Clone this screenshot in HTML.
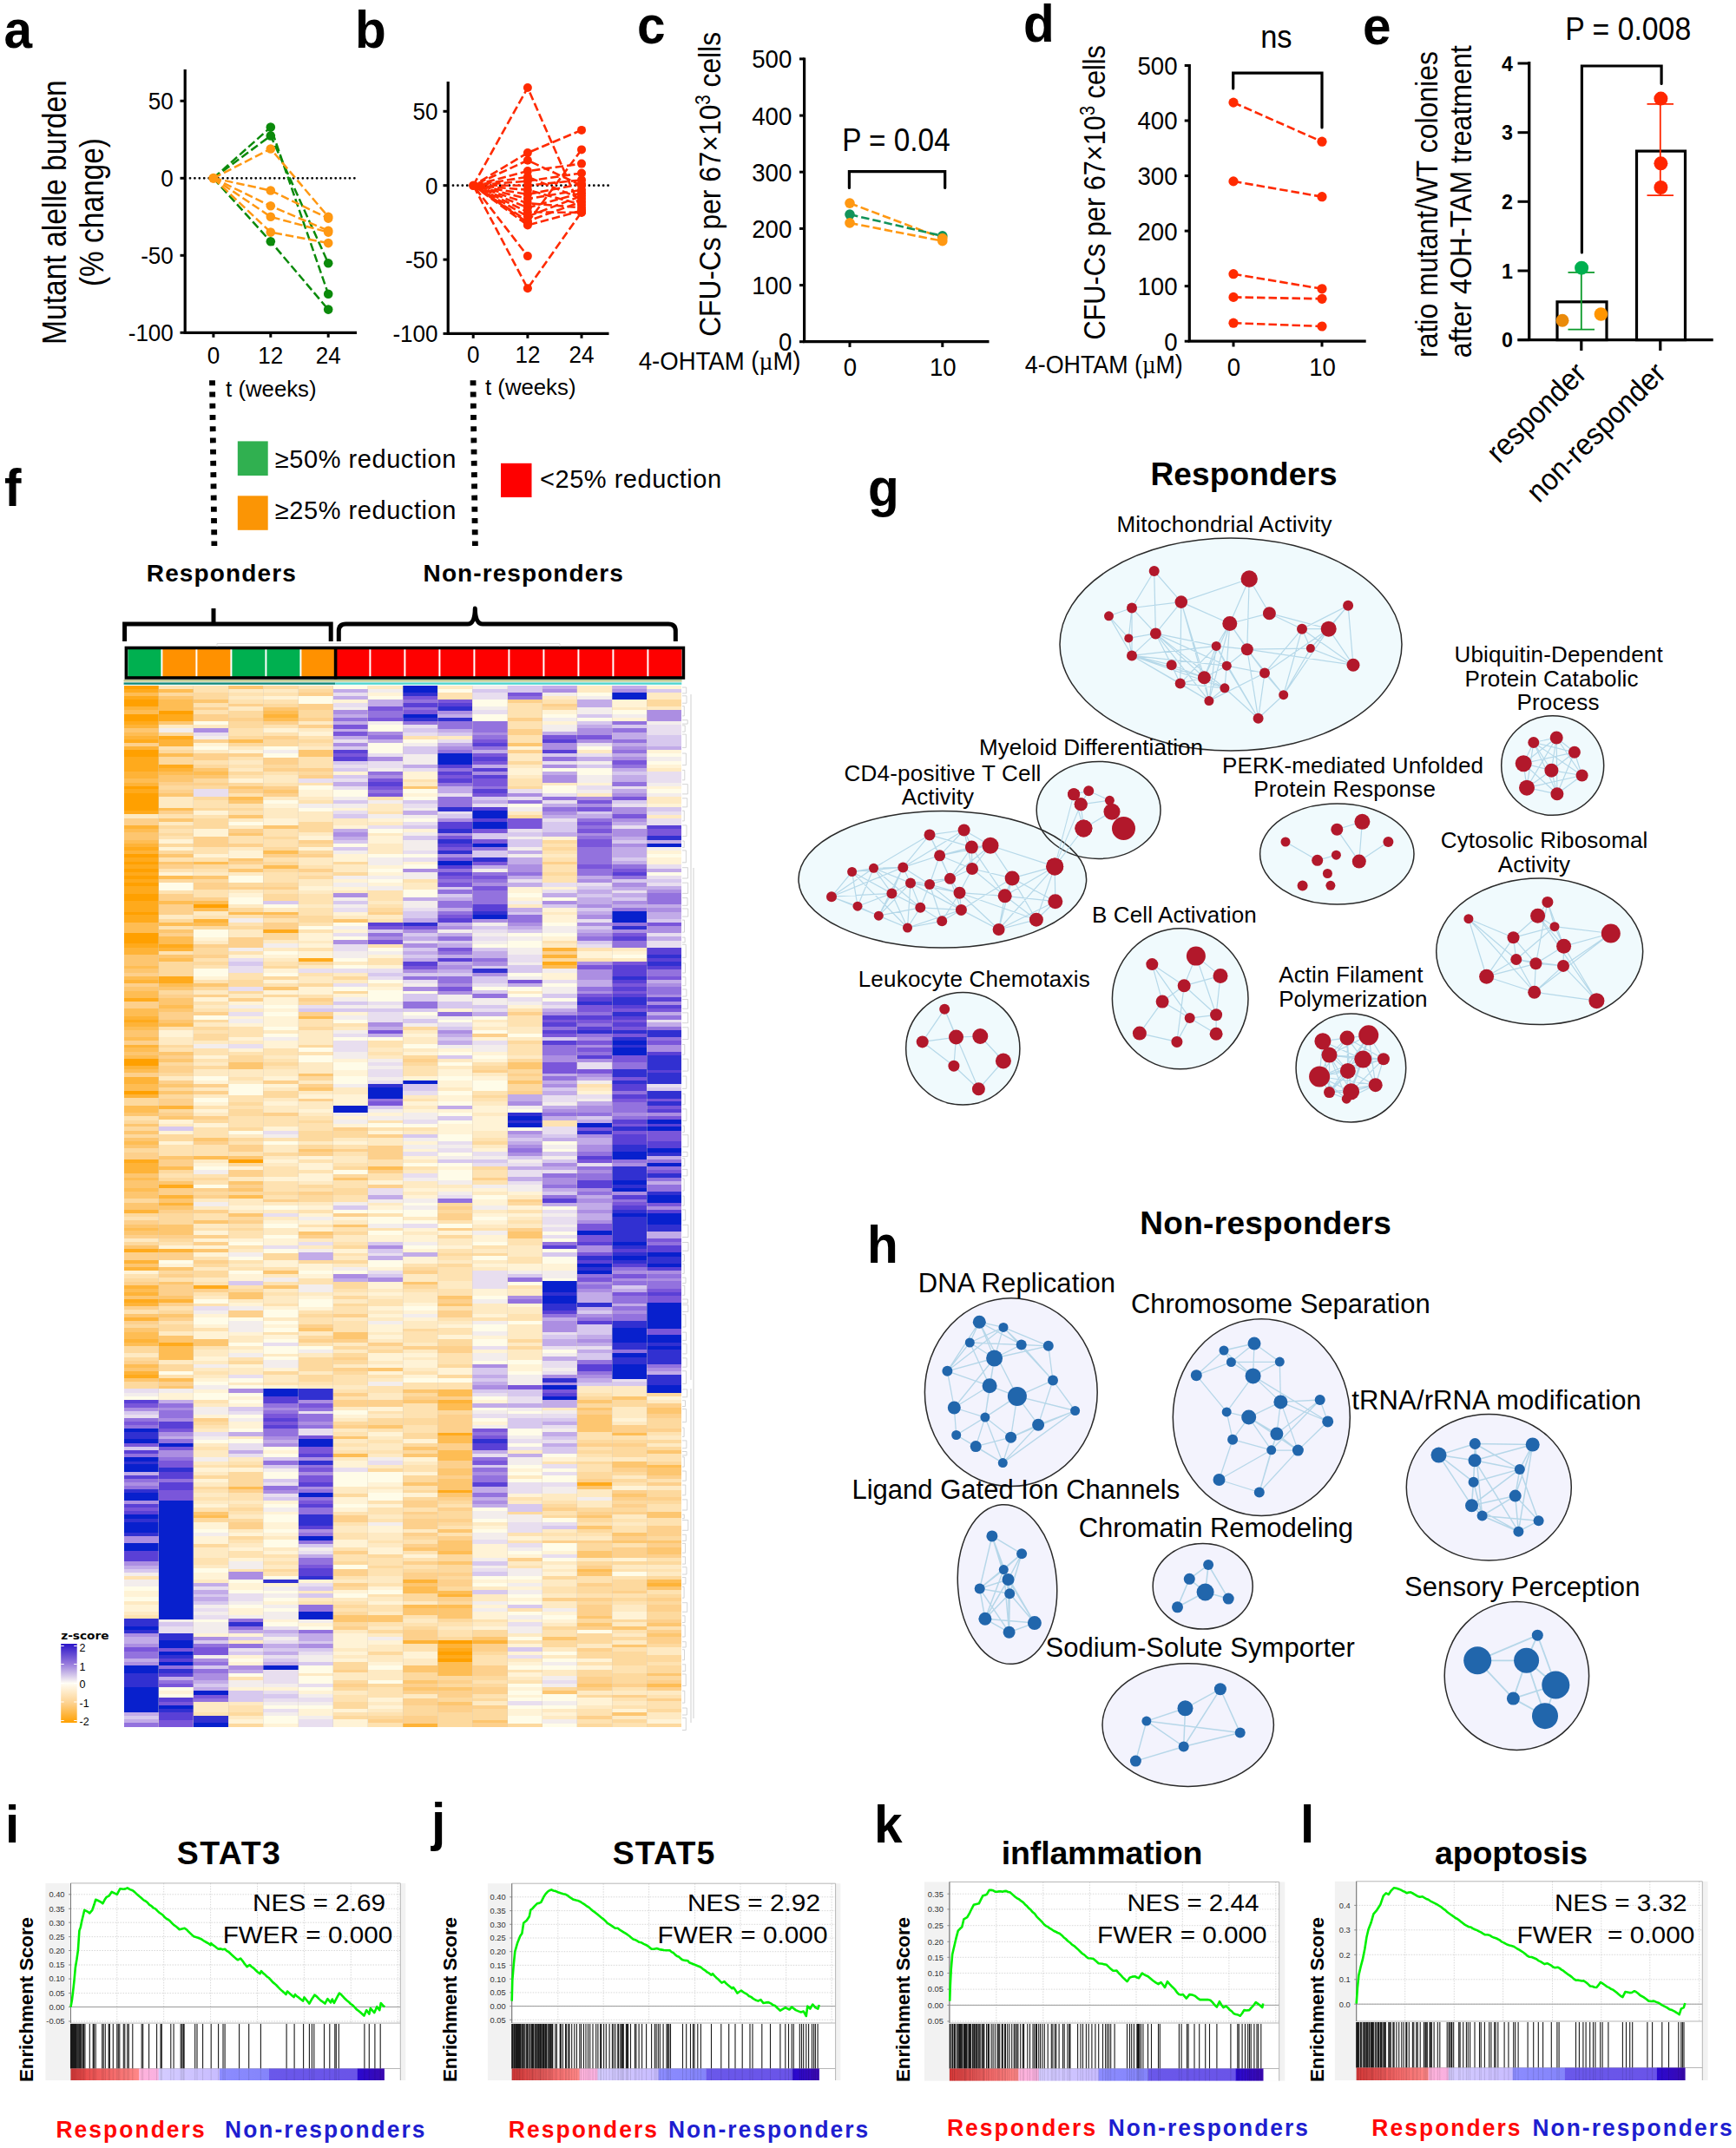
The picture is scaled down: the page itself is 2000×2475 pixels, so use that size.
<!DOCTYPE html>
<html lang="en"><head><meta charset="utf-8"><title>Figure</title>
<style>html,body{margin:0;padding:0;background:#fff}svg{display:block}text{font-family:"Liberation Sans",sans-serif}</style>
</head><body>
<svg width="2000" height="2475" viewBox="0 0 2000 2475">
<rect width="2000" height="2475" fill="#fff"/>
<line x1="219" y1="205.3" x2="411" y2="205.3" stroke="#000" stroke-width="2.8" stroke-dasharray="0.01 5.4" stroke-linecap="round"/>
<path d="M245.9 205.3 L311.8 146.6 L378.2 338.8" stroke="#0b8a0b" stroke-width="2.5" fill="none" stroke-dasharray="9.5 4"/>
<path d="M245.9 205.3 L311.8 156.4 L378.2 303.2" stroke="#0b8a0b" stroke-width="2.5" fill="none" stroke-dasharray="9.5 4"/>
<path d="M245.9 205.3 L311.8 278.3 L378.2 356.6" stroke="#0b8a0b" stroke-width="2.5" fill="none" stroke-dasharray="9.5 4"/>
<path d="M245.9 205.3 L311.8 171.5 L378.2 249.8" stroke="#ff9812" stroke-width="2.5" fill="none" stroke-dasharray="9.5 4"/>
<path d="M245.9 205.3 L311.8 219.5 L378.2 251.6" stroke="#ff9812" stroke-width="2.5" fill="none" stroke-dasharray="9.5 4"/>
<path d="M245.9 205.3 L311.8 237.3 L378.2 265.8" stroke="#ff9812" stroke-width="2.5" fill="none" stroke-dasharray="9.5 4"/>
<path d="M245.9 205.3 L311.8 249.8 L378.2 267.6" stroke="#ff9812" stroke-width="2.5" fill="none" stroke-dasharray="9.5 4"/>
<path d="M245.9 205.3 L311.8 267.6 L378.2 280.1" stroke="#ff9812" stroke-width="2.5" fill="none" stroke-dasharray="9.5 4"/>
<circle cx="311.8" cy="146.6" r="5.3" fill="#0b8a0b"/>
<circle cx="378.2" cy="338.8" r="5.3" fill="#0b8a0b"/>
<circle cx="311.8" cy="156.4" r="5.3" fill="#0b8a0b"/>
<circle cx="378.2" cy="303.2" r="5.3" fill="#0b8a0b"/>
<circle cx="311.8" cy="278.3" r="5.3" fill="#0b8a0b"/>
<circle cx="378.2" cy="356.6" r="5.3" fill="#0b8a0b"/>
<circle cx="311.8" cy="171.5" r="5.3" fill="#ff9812"/>
<circle cx="378.2" cy="249.8" r="5.3" fill="#ff9812"/>
<circle cx="311.8" cy="219.5" r="5.3" fill="#ff9812"/>
<circle cx="378.2" cy="251.6" r="5.3" fill="#ff9812"/>
<circle cx="311.8" cy="237.3" r="5.3" fill="#ff9812"/>
<circle cx="378.2" cy="265.8" r="5.3" fill="#ff9812"/>
<circle cx="311.8" cy="249.8" r="5.3" fill="#ff9812"/>
<circle cx="378.2" cy="267.6" r="5.3" fill="#ff9812"/>
<circle cx="311.8" cy="267.6" r="5.3" fill="#ff9812"/>
<circle cx="378.2" cy="280.1" r="5.3" fill="#ff9812"/>
<circle cx="245.9" cy="205.3" r="5.6" fill="#ff9812"/>
<path d="M213.2 80 V383.4 H411" stroke="#000" stroke-width="3.2" fill="none" />
<line x1="207.5" y1="116.3" x2="213" y2="116.3" stroke="#000" stroke-width="3" />
<text transform="translate(199.8 126.3) scale(0.93 1)" font-size="28" text-anchor="end" >50</text>
<line x1="207.5" y1="205.3" x2="213" y2="205.3" stroke="#000" stroke-width="3" />
<text transform="translate(199.8 215.3) scale(0.93 1)" font-size="28" text-anchor="end" >0</text>
<line x1="207.5" y1="294.3" x2="213" y2="294.3" stroke="#000" stroke-width="3" />
<text transform="translate(199.8 304.3) scale(0.93 1)" font-size="28" text-anchor="end" >-50</text>
<line x1="207.5" y1="383.3" x2="213" y2="383.3" stroke="#000" stroke-width="3" />
<text transform="translate(199.8 393.3) scale(0.93 1)" font-size="28" text-anchor="end" >-100</text>
<line x1="245.9" y1="383" x2="245.9" y2="388.8" stroke="#000" stroke-width="3" />
<text transform="translate(245.9 418.8) scale(0.93 1)" font-size="28" text-anchor="middle" >0</text>
<line x1="311.8" y1="383" x2="311.8" y2="388.8" stroke="#000" stroke-width="3" />
<text transform="translate(311.8 418.8) scale(0.93 1)" font-size="28" text-anchor="middle" >12</text>
<line x1="378.2" y1="383" x2="378.2" y2="388.8" stroke="#000" stroke-width="3" />
<text transform="translate(378.2 418.8) scale(0.93 1)" font-size="28" text-anchor="middle" >24</text>
<text transform="translate(76 244.6) rotate(-90) scale(0.886 1)" font-size="38" text-anchor="middle" >Mutant alelle burden</text>
<text transform="translate(118.7 244.6) rotate(-90) scale(0.88 1)" font-size="38" text-anchor="middle" >(% change)</text>
<text transform="translate(260.1 457.4) scale(0.972 1)" font-size="26.5" >t (weeks)</text>
<line x1="522" y1="213.7" x2="701" y2="213.7" stroke="#000" stroke-width="2.8" stroke-dasharray="0.01 5.4" stroke-linecap="round"/>
<path d="M545.2 213.7 L607.9 101 L670 242.7" stroke="#ff2a00" stroke-width="2.6" fill="none" stroke-dashoffset="0" stroke-dasharray="9.5 4"/>
<path d="M545.2 213.7 L607.9 176.1 L670 149.9" stroke="#ff2a00" stroke-width="2.6" fill="none" stroke-dashoffset="3.7" stroke-dasharray="9.5 4"/>
<path d="M545.2 213.7 L607.9 184.7 L670 213.7" stroke="#ff2a00" stroke-width="2.6" fill="none" stroke-dashoffset="7.4" stroke-dasharray="9.5 4"/>
<path d="M545.2 213.7 L607.9 197.1 L670 188.6" stroke="#ff2a00" stroke-width="2.6" fill="none" stroke-dashoffset="11.1" stroke-dasharray="9.5 4"/>
<path d="M545.2 213.7 L607.9 203.8 L670 229.1" stroke="#ff2a00" stroke-width="2.6" fill="none" stroke-dashoffset="1.3" stroke-dasharray="9.5 4"/>
<path d="M545.2 213.7 L607.9 208.6 L670 199.5" stroke="#ff2a00" stroke-width="2.6" fill="none" stroke-dashoffset="5" stroke-dasharray="9.5 4"/>
<path d="M545.2 213.7 L607.9 213.7 L670 207.4" stroke="#ff2a00" stroke-width="2.6" fill="none" stroke-dashoffset="8.7" stroke-dasharray="9.5 4"/>
<path d="M545.2 213.7 L607.9 218.8 L670 235.9" stroke="#ff2a00" stroke-width="2.6" fill="none" stroke-dashoffset="12.4" stroke-dasharray="9.5 4"/>
<path d="M545.2 213.7 L607.9 223.9 L670 212" stroke="#ff2a00" stroke-width="2.6" fill="none" stroke-dashoffset="2.6" stroke-dasharray="9.5 4"/>
<path d="M545.2 213.7 L607.9 229.1 L670 218.8" stroke="#ff2a00" stroke-width="2.6" fill="none" stroke-dashoffset="6.3" stroke-dasharray="9.5 4"/>
<path d="M545.2 213.7 L607.9 234.2 L670 239.3" stroke="#ff2a00" stroke-width="2.6" fill="none" stroke-dashoffset="10" stroke-dasharray="9.5 4"/>
<path d="M545.2 213.7 L607.9 239.3 L670 222.2" stroke="#ff2a00" stroke-width="2.6" fill="none" stroke-dashoffset="0.2" stroke-dasharray="9.5 4"/>
<path d="M545.2 213.7 L607.9 244.4 L670 244.9" stroke="#ff2a00" stroke-width="2.6" fill="none" stroke-dashoffset="3.9" stroke-dasharray="9.5 4"/>
<path d="M545.2 213.7 L607.9 249.5 L670 225.6" stroke="#ff2a00" stroke-width="2.6" fill="none" stroke-dashoffset="7.6" stroke-dasharray="9.5 4"/>
<path d="M545.2 213.7 L607.9 254.7 L670 232.5" stroke="#ff2a00" stroke-width="2.6" fill="none" stroke-dashoffset="11.3" stroke-dasharray="9.5 4"/>
<path d="M545.2 213.7 L607.9 259.4 L670 242.7" stroke="#ff2a00" stroke-width="2.6" fill="none" stroke-dashoffset="1.5" stroke-dasharray="9.5 4"/>
<path d="M545.2 213.7 L607.9 256.4 L670 172.4" stroke="#ff2a00" stroke-width="2.6" fill="none" stroke-dashoffset="5.2" stroke-dasharray="9.5 4"/>
<path d="M545.2 213.7 L607.9 295.1" stroke="#ff2a00" stroke-width="2.6" fill="none" stroke-dashoffset="8.9" stroke-dasharray="9.5 4"/>
<path d="M545.2 213.7 L607.9 332.2 L670 244.4" stroke="#ff2a00" stroke-width="2.6" fill="none" stroke-dashoffset="12.6" stroke-dasharray="9.5 4"/>
<circle cx="607.9" cy="101" r="5" fill="#ff2a00"/>
<circle cx="670" cy="242.7" r="5" fill="#ff2a00"/>
<circle cx="607.9" cy="176.1" r="5" fill="#ff2a00"/>
<circle cx="670" cy="149.9" r="5" fill="#ff2a00"/>
<circle cx="607.9" cy="184.7" r="5" fill="#ff2a00"/>
<circle cx="670" cy="213.7" r="5" fill="#ff2a00"/>
<circle cx="607.9" cy="197.1" r="5" fill="#ff2a00"/>
<circle cx="670" cy="188.6" r="5" fill="#ff2a00"/>
<circle cx="607.9" cy="203.8" r="5" fill="#ff2a00"/>
<circle cx="670" cy="229.1" r="5" fill="#ff2a00"/>
<circle cx="607.9" cy="208.6" r="5" fill="#ff2a00"/>
<circle cx="670" cy="199.5" r="5" fill="#ff2a00"/>
<circle cx="607.9" cy="213.7" r="5" fill="#ff2a00"/>
<circle cx="670" cy="207.4" r="5" fill="#ff2a00"/>
<circle cx="607.9" cy="218.8" r="5" fill="#ff2a00"/>
<circle cx="670" cy="235.9" r="5" fill="#ff2a00"/>
<circle cx="607.9" cy="223.9" r="5" fill="#ff2a00"/>
<circle cx="670" cy="212" r="5" fill="#ff2a00"/>
<circle cx="607.9" cy="229.1" r="5" fill="#ff2a00"/>
<circle cx="670" cy="218.8" r="5" fill="#ff2a00"/>
<circle cx="607.9" cy="234.2" r="5" fill="#ff2a00"/>
<circle cx="670" cy="239.3" r="5" fill="#ff2a00"/>
<circle cx="607.9" cy="239.3" r="5" fill="#ff2a00"/>
<circle cx="670" cy="222.2" r="5" fill="#ff2a00"/>
<circle cx="607.9" cy="244.4" r="5" fill="#ff2a00"/>
<circle cx="670" cy="244.9" r="5" fill="#ff2a00"/>
<circle cx="607.9" cy="249.5" r="5" fill="#ff2a00"/>
<circle cx="670" cy="225.6" r="5" fill="#ff2a00"/>
<circle cx="607.9" cy="254.7" r="5" fill="#ff2a00"/>
<circle cx="670" cy="232.5" r="5" fill="#ff2a00"/>
<circle cx="607.9" cy="259.4" r="5" fill="#ff2a00"/>
<circle cx="670" cy="242.7" r="5" fill="#ff2a00"/>
<circle cx="607.9" cy="256.4" r="5" fill="#ff2a00"/>
<circle cx="670" cy="172.4" r="5" fill="#ff2a00"/>
<circle cx="607.9" cy="295.1" r="5" fill="#ff2a00"/>
<circle cx="607.9" cy="332.2" r="5" fill="#ff2a00"/>
<circle cx="670" cy="244.4" r="5" fill="#ff2a00"/>
<circle cx="545.2" cy="213.7" r="5.2" fill="#ff2a00"/>
<path d="M516.2 94 V384.3 H701.5" stroke="#000" stroke-width="3.2" fill="none" />
<line x1="510.5" y1="128.3" x2="516" y2="128.3" stroke="#000" stroke-width="3" />
<text transform="translate(504.5 138.3) scale(0.93 1)" font-size="28" text-anchor="end" >50</text>
<line x1="510.5" y1="213.7" x2="516" y2="213.7" stroke="#000" stroke-width="3" />
<text transform="translate(504.5 223.7) scale(0.93 1)" font-size="28" text-anchor="end" >0</text>
<line x1="510.5" y1="299.1" x2="516" y2="299.1" stroke="#000" stroke-width="3" />
<text transform="translate(504.5 309.1) scale(0.93 1)" font-size="28" text-anchor="end" >-50</text>
<line x1="510.5" y1="384.4" x2="516" y2="384.4" stroke="#000" stroke-width="3" />
<text transform="translate(504.5 394.4) scale(0.93 1)" font-size="28" text-anchor="end" >-100</text>
<line x1="545.2" y1="384" x2="545.2" y2="389.8" stroke="#000" stroke-width="3" />
<text transform="translate(545.2 417.6) scale(0.93 1)" font-size="28" text-anchor="middle" >0</text>
<line x1="607.9" y1="384" x2="607.9" y2="389.8" stroke="#000" stroke-width="3" />
<text transform="translate(607.9 417.6) scale(0.93 1)" font-size="28" text-anchor="middle" >12</text>
<line x1="670" y1="384" x2="670" y2="389.8" stroke="#000" stroke-width="3" />
<text transform="translate(670 417.6) scale(0.93 1)" font-size="28" text-anchor="middle" >24</text>
<text transform="translate(559 455.2) scale(0.972 1)" font-size="26.5" >t (weeks)</text>
<path d="M979 234.1 L1085.8 274.5" stroke="#ff9812" stroke-width="2.6" fill="none" stroke-dasharray="9.5 4"/>
<path d="M979 247.1 L1085.8 271.9" stroke="#12935a" stroke-width="2.6" fill="none" stroke-dasharray="9.5 4"/>
<path d="M979 256.9 L1085.8 277.7" stroke="#ff9812" stroke-width="2.6" fill="none" stroke-dasharray="9.5 4"/>
<circle cx="979" cy="247.1" r="5.8" fill="#12935a"/>
<circle cx="1085.8" cy="271.9" r="5.8" fill="#12935a"/>
<circle cx="979" cy="234.1" r="5.8" fill="#ff9812"/>
<circle cx="1085.8" cy="274.5" r="5.8" fill="#ff9812"/>
<circle cx="979" cy="256.9" r="5.8" fill="#ff9812"/>
<circle cx="1085.8" cy="277.7" r="5.8" fill="#ff9812"/>
<path d="M926.6 66.6 V393.7 H1139.5" stroke="#000" stroke-width="3.2" fill="none" />
<line x1="921" y1="393.7" x2="926.6" y2="393.7" stroke="#000" stroke-width="3" />
<text transform="translate(912.3 404.1) scale(0.92 1)" font-size="30" text-anchor="end" >0</text>
<line x1="921" y1="328.6" x2="926.6" y2="328.6" stroke="#000" stroke-width="3" />
<text transform="translate(912.3 338.9) scale(0.92 1)" font-size="30" text-anchor="end" >100</text>
<line x1="921" y1="263.4" x2="926.6" y2="263.4" stroke="#000" stroke-width="3" />
<text transform="translate(912.3 273.8) scale(0.92 1)" font-size="30" text-anchor="end" >200</text>
<line x1="921" y1="198.2" x2="926.6" y2="198.2" stroke="#000" stroke-width="3" />
<text transform="translate(912.3 208.7) scale(0.92 1)" font-size="30" text-anchor="end" >300</text>
<line x1="921" y1="133.1" x2="926.6" y2="133.1" stroke="#000" stroke-width="3" />
<text transform="translate(912.3 143.5) scale(0.92 1)" font-size="30" text-anchor="end" >400</text>
<line x1="921" y1="67.9" x2="926.6" y2="67.9" stroke="#000" stroke-width="3" />
<text transform="translate(912.3 78.3) scale(0.92 1)" font-size="30" text-anchor="end" >500</text>
<line x1="979" y1="393.7" x2="979" y2="400" stroke="#000" stroke-width="3" />
<text transform="translate(979.5 432.5) scale(0.92 1)" font-size="30" text-anchor="middle" >0</text>
<line x1="1085.8" y1="393.7" x2="1085.8" y2="400" stroke="#000" stroke-width="3" />
<text transform="translate(1086.3 432.5) scale(0.92 1)" font-size="30" text-anchor="middle" >10</text>
<text transform="translate(970.2 174.2) scale(0.901 1)" font-size="37" >P = 0.04</text>
<path d="M978.4 216.5 V197.6 H1088.7 V216.5" stroke="#000" stroke-width="3.2" fill="none" stroke-linecap="round" stroke-linejoin="miter"/>
<text transform="translate(830 387.8) rotate(-90) scale(0.894 1)" font-size="35.5">CFU-Cs per 67×10<tspan font-size="23" dy="-12">3</tspan><tspan dy="12"> cells</tspan></text>
<text transform="translate(735.7 426) scale(0.951 1)" font-size="29">4-OHTAM (<tspan font-family="Liberation Serif, serif">µ</tspan>M)</text>
<path d="M1421 118.1 L1523 163.2" stroke="#ff2a00" stroke-width="2.6" fill="none" stroke-dasharray="9.5 4"/>
<path d="M1421 208.9 L1523 226.7" stroke="#ff2a00" stroke-width="2.6" fill="none" stroke-dasharray="9.5 4"/>
<path d="M1421 315.7 L1523 332.8" stroke="#ff2a00" stroke-width="2.6" fill="none" stroke-dasharray="9.5 4"/>
<path d="M1421 342.4 L1523 344.3" stroke="#ff2a00" stroke-width="2.6" fill="none" stroke-dasharray="9.5 4"/>
<path d="M1421 372.2 L1523 376" stroke="#ff2a00" stroke-width="2.6" fill="none" stroke-dasharray="9.5 4"/>
<circle cx="1421" cy="118.1" r="5.6" fill="#ff2a00"/>
<circle cx="1523" cy="163.2" r="5.6" fill="#ff2a00"/>
<circle cx="1421" cy="208.9" r="5.6" fill="#ff2a00"/>
<circle cx="1523" cy="226.7" r="5.6" fill="#ff2a00"/>
<circle cx="1421" cy="315.7" r="5.6" fill="#ff2a00"/>
<circle cx="1523" cy="332.8" r="5.6" fill="#ff2a00"/>
<circle cx="1421" cy="342.4" r="5.6" fill="#ff2a00"/>
<circle cx="1523" cy="344.3" r="5.6" fill="#ff2a00"/>
<circle cx="1421" cy="372.2" r="5.6" fill="#ff2a00"/>
<circle cx="1523" cy="376" r="5.6" fill="#ff2a00"/>
<path d="M1370.3 74 V393.2 H1573.7" stroke="#000" stroke-width="3.2" fill="none" />
<line x1="1364.7" y1="393.2" x2="1370.3" y2="393.2" stroke="#000" stroke-width="3" />
<text transform="translate(1356.5 403.6) scale(0.92 1)" font-size="30" text-anchor="end" >0</text>
<line x1="1364.7" y1="329.7" x2="1370.3" y2="329.7" stroke="#000" stroke-width="3" />
<text transform="translate(1356.5 340.1) scale(0.92 1)" font-size="30" text-anchor="end" >100</text>
<line x1="1364.7" y1="266.1" x2="1370.3" y2="266.1" stroke="#000" stroke-width="3" />
<text transform="translate(1356.5 276.5) scale(0.92 1)" font-size="30" text-anchor="end" >200</text>
<line x1="1364.7" y1="202.6" x2="1370.3" y2="202.6" stroke="#000" stroke-width="3" />
<text transform="translate(1356.5 213) scale(0.92 1)" font-size="30" text-anchor="end" >300</text>
<line x1="1364.7" y1="139" x2="1370.3" y2="139" stroke="#000" stroke-width="3" />
<text transform="translate(1356.5 149.4) scale(0.92 1)" font-size="30" text-anchor="end" >400</text>
<line x1="1364.7" y1="75.5" x2="1370.3" y2="75.5" stroke="#000" stroke-width="3" />
<text transform="translate(1356.5 85.9) scale(0.92 1)" font-size="30" text-anchor="end" >500</text>
<line x1="1421" y1="393.2" x2="1421" y2="399.5" stroke="#000" stroke-width="3" />
<text transform="translate(1421.5 432.5) scale(0.92 1)" font-size="30" text-anchor="middle" >0</text>
<line x1="1523" y1="393.2" x2="1523" y2="399.5" stroke="#000" stroke-width="3" />
<text transform="translate(1523.5 432.5) scale(0.92 1)" font-size="30" text-anchor="middle" >10</text>
<text transform="translate(1470.4 55.1) scale(0.925 1)" font-size="37.3" text-anchor="middle" >ns</text>
<path d="M1420.7 102 V84.1 H1523 V146.9" stroke="#000" stroke-width="3.2" fill="none" stroke-linecap="round"/>
<text transform="translate(1273 391.6) rotate(-90) scale(0.865 1)" font-size="35.5">CFU-Cs per 67×10<tspan font-size="23" dy="-12">3</tspan><tspan dy="12"> cells</tspan></text>
<text transform="translate(1180.8 429.7) scale(0.926 1)" font-size="29">4-OHTAM (<tspan font-family="Liberation Serif, serif">µ</tspan>M)</text>
<rect x="1794" y="347.8" width="57" height="43.8" fill="#fff" stroke="#000" stroke-width="3.2"/>
<rect x="1885.5" y="174.1" width="56" height="217.5" fill="#fff" stroke="#000" stroke-width="3.2"/>
<path d="M1821.8 313.8 V379.7 M1806.5 313.8 H1837 M1806.5 379.7 H1837" stroke="#0a9a2a" stroke-width="1.8" fill="none" />
<path d="M1912.8 119.9 V225.1 M1897.5 119.9 H1928 M1897.5 225.1 H1928" stroke="#ff2600" stroke-width="1.8" fill="none" />
<circle cx="1822.1" cy="308.7" r="8" fill="#00b050"/>
<circle cx="1800" cy="369.3" r="7.5" fill="#ea8a0a"/>
<circle cx="1844.4" cy="362" r="7.8" fill="#ff9500"/>
<circle cx="1913.4" cy="113.6" r="8" fill="#ff2600"/>
<circle cx="1913.4" cy="188.3" r="8" fill="#ff2600"/>
<circle cx="1913.4" cy="216" r="8" fill="#ff2600"/>
<path d="M1761.7 71 V391.6 M1748.5 391.6 H1973.7" stroke="#000" stroke-width="3.3" fill="none" />
<line x1="1748.5" y1="391.6" x2="1762" y2="391.6" stroke="#000" stroke-width="3" />
<text transform="translate(1743 400.3) scale(0.95 1)" font-size="24.5" text-anchor="end" font-weight="bold" >0</text>
<line x1="1748.5" y1="312" x2="1762" y2="312" stroke="#000" stroke-width="3" />
<text transform="translate(1743 320.7) scale(0.95 1)" font-size="24.5" text-anchor="end" font-weight="bold" >1</text>
<line x1="1748.5" y1="232.3" x2="1762" y2="232.3" stroke="#000" stroke-width="3" />
<text transform="translate(1743 241) scale(0.95 1)" font-size="24.5" text-anchor="end" font-weight="bold" >2</text>
<line x1="1748.5" y1="152.7" x2="1762" y2="152.7" stroke="#000" stroke-width="3" />
<text transform="translate(1743 161.3) scale(0.95 1)" font-size="24.5" text-anchor="end" font-weight="bold" >3</text>
<line x1="1748.5" y1="73" x2="1762" y2="73" stroke="#000" stroke-width="3" />
<text transform="translate(1743 81.7) scale(0.95 1)" font-size="24.5" text-anchor="end" font-weight="bold" >4</text>
<line x1="1821.8" y1="391.6" x2="1821.8" y2="404" stroke="#000" stroke-width="3.2" />
<line x1="1912.8" y1="391.6" x2="1912.8" y2="404" stroke="#000" stroke-width="3.2" />
<path d="M1822.4 291 V76 H1914.1 V96.5" stroke="#000" stroke-width="3.2" fill="none" stroke-linecap="round"/>
<text transform="translate(1803.3 45.9) scale(0.913 1)" font-size="37" >P = 0.008</text>
<text transform="translate(1656.3 235.5) rotate(-90) scale(0.927 1)" font-size="34.5" text-anchor="middle" >ratio mutant/WT colonies</text>
<text transform="translate(1694.9 232.2) rotate(-90) scale(0.931 1)" font-size="34.5" text-anchor="middle" >after 4OH-TAM treatment</text>
<text transform="translate(1829.5 432.5) rotate(-45) scale(0.92 1)" font-size="35" text-anchor="end" >responder</text>
<text transform="translate(1921 432.5) rotate(-45) scale(0.92 1)" font-size="35" text-anchor="end" >non-responder</text>
<line x1="244.5" y1="438.3" x2="246.9" y2="629" stroke="#000" stroke-width="6.8" stroke-dasharray="5.9 7.33"/>
<line x1="545" y1="438.3" x2="547.4" y2="629" stroke="#000" stroke-width="6.8" stroke-dasharray="5.9 7.33"/>
<rect x="273.8" y="508.4" width="34.9" height="39.6" fill="#30b050"/>
<rect x="273.8" y="571.3" width="34.9" height="39.5" fill="#fb9505"/>
<rect x="577" y="533.8" width="35.5" height="39.2" fill="#fe0000"/>
<text x="316.8" y="539.4" font-size="29" textLength="208.5" lengthAdjust="spacing">≥50% reduction</text>
<text x="316.8" y="597.6" font-size="29" textLength="208.5" lengthAdjust="spacing">≥25% reduction</text>
<text x="622.1" y="562" font-size="29" textLength="209" lengthAdjust="spacing">&lt;25% reduction</text>
<text x="168.8" y="670.3" font-size="28" font-weight="bold" textLength="172" lengthAdjust="spacing">Responders</text>
<text x="487.6" y="670.3" font-size="28" font-weight="bold" textLength="230.3" lengthAdjust="spacing">Non-responders</text>
<g shape-rendering="crispEdges">
<rect x="142.6" y="789.6" width="642.8" height="1199.9" fill="#fde8c4"/>
<path fill="#ffa000" d="M142.6 789.5h40.2v4.59h-40.2zM142.6 806.0h40.2v8.73h-40.2zM142.6 822.6h40.2v8.73h-40.2zM142.6 863.9h40.2v8.73h-40.2zM142.6 905.3h40.2v4.59h-40.2zM142.6 913.6h40.2v21.14h-40.2zM142.6 983.9h40.2v4.59h-40.2zM142.6 992.2h40.2v4.59h-40.2zM142.6 1000.5h40.2v4.59h-40.2zM142.6 1008.7h40.2v4.59h-40.2zM142.6 1017.0h40.2v4.59h-40.2zM142.6 1029.4h40.2v8.73h-40.2zM142.6 1050.1h40.2v4.59h-40.2zM142.6 1074.9h40.2v12.86h-40.2zM142.6 1219.8h40.2v8.73h-40.2zM142.6 1257.0h40.2v4.59h-40.2zM182.8 818.4h40.2v4.59h-40.2zM222.9 1041.8h40.2v4.59h-40.2zM263.1 1335.6h40.2v4.59h-40.2zM504.2 1890.0h40.2v4.59h-40.2zM504.2 1902.5h40.2v4.59h-40.2zM504.2 1910.7h40.2v4.59h-40.2z"/>
<path fill="#ffaa1c" d="M142.6 793.6h40.2v4.59h-40.2zM142.6 801.9h40.2v4.59h-40.2zM142.6 830.8h40.2v4.59h-40.2zM142.6 851.5h40.2v4.59h-40.2zM142.6 872.2h40.2v17.00h-40.2zM142.6 909.4h40.2v4.59h-40.2zM142.6 934.3h40.2v4.59h-40.2zM142.6 975.6h40.2v4.59h-40.2zM142.6 988.1h40.2v4.59h-40.2zM142.6 996.3h40.2v4.59h-40.2zM142.6 1004.6h40.2v4.59h-40.2zM142.6 1012.9h40.2v4.59h-40.2zM142.6 1021.2h40.2v8.73h-40.2zM142.6 1037.7h40.2v12.86h-40.2zM142.6 1054.3h40.2v8.73h-40.2zM142.6 1087.4h40.2v4.59h-40.2zM142.6 1149.4h40.2v4.59h-40.2zM142.6 1174.2h40.2v4.59h-40.2zM142.6 1335.6h40.2v4.59h-40.2zM142.6 1439.1h40.2v4.59h-40.2zM142.6 1497.0h40.2v4.59h-40.2zM142.6 1583.9h40.2v4.59h-40.2zM182.8 822.6h40.2v8.73h-40.2zM182.8 847.4h40.2v4.59h-40.2zM182.8 880.5h40.2v4.59h-40.2zM182.8 1087.4h40.2v4.59h-40.2zM182.8 1124.6h40.2v8.73h-40.2zM182.8 1364.6h40.2v4.59h-40.2zM182.8 1546.6h40.2v4.59h-40.2zM222.9 1480.4h40.2v4.59h-40.2zM303.3 1070.8h40.2v4.59h-40.2zM343.5 1103.9h40.2v4.59h-40.2zM504.2 1650.1h40.2v4.59h-40.2zM504.2 1716.3h40.2v4.59h-40.2zM504.2 1898.3h40.2v4.59h-40.2zM504.2 1906.6h40.2v4.59h-40.2zM624.7 1108.0h40.2v4.59h-40.2zM664.9 1708.0h40.2v4.59h-40.2z"/>
<path fill="#feb338" d="M142.6 814.3h40.2v4.59h-40.2zM142.6 835.0h40.2v4.59h-40.2zM142.6 847.4h40.2v4.59h-40.2zM142.6 859.8h40.2v4.59h-40.2zM142.6 888.8h40.2v8.73h-40.2zM142.6 901.2h40.2v4.59h-40.2zM142.6 950.8h40.2v4.59h-40.2zM142.6 971.5h40.2v4.59h-40.2zM142.6 979.8h40.2v4.59h-40.2zM142.6 1091.5h40.2v8.73h-40.2zM142.6 1128.7h40.2v4.59h-40.2zM142.6 1170.1h40.2v4.59h-40.2zM142.6 1178.4h40.2v4.59h-40.2zM142.6 1203.2h40.2v4.59h-40.2zM142.6 1228.0h40.2v4.59h-40.2zM142.6 1240.4h40.2v8.73h-40.2zM142.6 1261.1h40.2v4.59h-40.2zM142.6 1339.7h40.2v12.86h-40.2zM142.6 1393.5h40.2v4.59h-40.2zM142.6 1451.5h40.2v4.59h-40.2zM142.6 1459.7h40.2v4.59h-40.2zM142.6 1480.4h40.2v4.59h-40.2zM142.6 1488.7h40.2v4.59h-40.2zM142.6 1501.1h40.2v4.59h-40.2zM142.6 1517.7h40.2v4.59h-40.2zM142.6 1542.5h40.2v4.59h-40.2zM142.6 1579.7h40.2v4.59h-40.2zM182.8 851.5h40.2v8.73h-40.2zM182.8 884.6h40.2v4.59h-40.2zM182.8 1091.5h40.2v4.59h-40.2zM182.8 1273.5h40.2v4.59h-40.2zM182.8 1377.0h40.2v4.59h-40.2zM182.8 1385.3h40.2v4.59h-40.2zM182.8 1439.1h40.2v4.59h-40.2zM182.8 1497.0h40.2v4.59h-40.2zM222.9 1058.4h40.2v4.59h-40.2zM303.3 822.6h40.2v4.59h-40.2zM464.0 1819.7h40.2v4.59h-40.2zM464.0 1890.0h40.2v4.59h-40.2zM464.0 1985.2h40.2v4.59h-40.2zM504.2 1612.8h40.2v4.59h-40.2zM504.2 1836.3h40.2v4.59h-40.2zM504.2 1894.2h40.2v4.59h-40.2zM544.4 1890.0h40.2v4.59h-40.2zM624.7 1091.5h40.2v4.59h-40.2zM624.7 1099.8h40.2v4.59h-40.2zM745.2 1823.8h40.2v4.59h-40.2z"/>
<path fill="#febd54" d="M142.6 797.7h40.2v4.59h-40.2zM142.6 818.4h40.2v4.59h-40.2zM142.6 843.2h40.2v4.59h-40.2zM142.6 897.0h40.2v4.59h-40.2zM142.6 955.0h40.2v4.59h-40.2zM142.6 967.4h40.2v4.59h-40.2zM142.6 1062.5h40.2v12.86h-40.2zM142.6 1112.2h40.2v4.59h-40.2zM142.6 1124.6h40.2v4.59h-40.2zM142.6 1141.1h40.2v8.73h-40.2zM142.6 1161.8h40.2v8.73h-40.2zM142.6 1182.5h40.2v4.59h-40.2zM142.6 1194.9h40.2v4.59h-40.2zM142.6 1207.3h40.2v4.59h-40.2zM142.6 1215.6h40.2v4.59h-40.2zM142.6 1232.2h40.2v4.59h-40.2zM142.6 1248.7h40.2v8.73h-40.2zM142.6 1273.5h40.2v8.73h-40.2zM142.6 1314.9h40.2v4.59h-40.2zM142.6 1356.3h40.2v4.59h-40.2zM142.6 1368.7h40.2v4.59h-40.2zM142.6 1414.2h40.2v4.59h-40.2zM142.6 1484.6h40.2v4.59h-40.2zM142.6 1534.2h40.2v8.73h-40.2zM142.6 1546.6h40.2v4.59h-40.2zM142.6 1571.5h40.2v4.59h-40.2zM182.8 793.6h40.2v4.59h-40.2zM182.8 806.0h40.2v12.86h-40.2zM182.8 868.1h40.2v4.59h-40.2zM182.8 888.8h40.2v4.59h-40.2zM182.8 930.1h40.2v4.59h-40.2zM182.8 1008.7h40.2v4.59h-40.2zM182.8 1037.7h40.2v4.59h-40.2zM182.8 1062.5h40.2v4.59h-40.2zM182.8 1079.1h40.2v8.73h-40.2zM182.8 1103.9h40.2v4.59h-40.2zM182.8 1132.9h40.2v4.59h-40.2zM182.8 1157.7h40.2v4.59h-40.2zM182.8 1178.4h40.2v4.59h-40.2zM182.8 1343.9h40.2v4.59h-40.2zM182.8 1550.8h40.2v17.00h-40.2zM182.8 1588.0h40.2v4.59h-40.2zM222.9 888.8h40.2v4.59h-40.2zM222.9 992.2h40.2v4.59h-40.2zM222.9 1037.7h40.2v4.59h-40.2zM222.9 1046.0h40.2v4.59h-40.2zM222.9 1062.5h40.2v4.59h-40.2zM222.9 1331.5h40.2v4.59h-40.2zM222.9 1745.2h40.2v4.59h-40.2zM263.1 851.5h40.2v4.59h-40.2zM263.1 917.7h40.2v4.59h-40.2zM263.1 1050.1h40.2v4.59h-40.2zM263.1 1377.0h40.2v4.59h-40.2zM263.1 1712.1h40.2v4.59h-40.2zM303.3 818.4h40.2v4.59h-40.2zM303.3 826.7h40.2v4.59h-40.2zM303.3 979.8h40.2v4.59h-40.2zM303.3 996.3h40.2v4.59h-40.2zM303.3 1050.1h40.2v4.59h-40.2zM343.5 1170.1h40.2v4.59h-40.2zM383.6 1674.9h40.2v4.59h-40.2zM423.8 1343.9h40.2v4.59h-40.2zM464.0 1828.0h40.2v8.73h-40.2zM464.0 1848.7h40.2v4.59h-40.2zM504.2 1600.4h40.2v8.73h-40.2zM504.2 1617.0h40.2v8.73h-40.2zM504.2 1654.2h40.2v8.73h-40.2zM504.2 1670.8h40.2v12.86h-40.2zM504.2 1786.6h40.2v4.59h-40.2zM504.2 1832.1h40.2v4.59h-40.2zM504.2 1848.7h40.2v4.59h-40.2zM504.2 1914.9h40.2v17.00h-40.2zM624.7 1112.2h40.2v4.59h-40.2zM664.9 1807.3h40.2v4.59h-40.2zM705.0 1650.1h40.2v4.59h-40.2zM745.2 1687.3h40.2v4.59h-40.2zM745.2 1819.7h40.2v4.59h-40.2zM745.2 1939.7h40.2v4.59h-40.2z"/>
<path fill="#fdc670" d="M142.6 839.1h40.2v4.59h-40.2zM142.6 959.1h40.2v8.73h-40.2zM142.6 1099.8h40.2v12.86h-40.2zM142.6 1116.3h40.2v4.59h-40.2zM142.6 1137.0h40.2v4.59h-40.2zM142.6 1186.7h40.2v8.73h-40.2zM142.6 1211.5h40.2v4.59h-40.2zM142.6 1281.8h40.2v4.59h-40.2zM142.6 1294.2h40.2v4.59h-40.2zM142.6 1302.5h40.2v4.59h-40.2zM142.6 1310.8h40.2v4.59h-40.2zM142.6 1319.1h40.2v4.59h-40.2zM142.6 1352.2h40.2v4.59h-40.2zM142.6 1360.4h40.2v8.73h-40.2zM142.6 1372.8h40.2v8.73h-40.2zM142.6 1385.3h40.2v8.73h-40.2zM142.6 1410.1h40.2v4.59h-40.2zM142.6 1418.4h40.2v4.59h-40.2zM142.6 1434.9h40.2v4.59h-40.2zM142.6 1455.6h40.2v4.59h-40.2zM142.6 1492.8h40.2v4.59h-40.2zM142.6 1513.5h40.2v4.59h-40.2zM142.6 1530.1h40.2v4.59h-40.2zM142.6 1575.6h40.2v4.59h-40.2zM142.6 1588.0h40.2v4.59h-40.2zM182.8 801.9h40.2v4.59h-40.2zM182.8 830.8h40.2v4.59h-40.2zM182.8 892.9h40.2v8.73h-40.2zM182.8 913.6h40.2v4.59h-40.2zM182.8 942.5h40.2v4.59h-40.2zM182.8 983.9h40.2v4.59h-40.2zM182.8 992.2h40.2v4.59h-40.2zM182.8 1070.8h40.2v4.59h-40.2zM182.8 1099.8h40.2v4.59h-40.2zM182.8 1137.0h40.2v4.59h-40.2zM182.8 1149.4h40.2v8.73h-40.2zM182.8 1161.8h40.2v4.59h-40.2zM182.8 1174.2h40.2v4.59h-40.2zM182.8 1211.5h40.2v4.59h-40.2zM182.8 1219.8h40.2v4.59h-40.2zM182.8 1248.7h40.2v4.59h-40.2zM182.8 1257.0h40.2v4.59h-40.2zM182.8 1286.0h40.2v4.59h-40.2zM182.8 1331.5h40.2v4.59h-40.2zM182.8 1360.4h40.2v4.59h-40.2zM182.8 1381.1h40.2v4.59h-40.2zM182.8 1389.4h40.2v4.59h-40.2zM182.8 1410.1h40.2v12.86h-40.2zM182.8 1459.7h40.2v4.59h-40.2zM182.8 1476.3h40.2v4.59h-40.2zM182.8 1492.8h40.2v4.59h-40.2zM182.8 1513.5h40.2v4.59h-40.2zM182.8 1538.4h40.2v8.73h-40.2zM182.8 1596.3h40.2v4.59h-40.2zM222.9 806.0h40.2v4.59h-40.2zM222.9 884.6h40.2v4.59h-40.2zM222.9 892.9h40.2v4.59h-40.2zM222.9 1008.7h40.2v4.59h-40.2zM222.9 1132.9h40.2v4.59h-40.2zM222.9 1310.8h40.2v4.59h-40.2zM222.9 1406.0h40.2v4.59h-40.2zM222.9 1439.1h40.2v4.59h-40.2zM222.9 1542.5h40.2v8.73h-40.2zM222.9 1741.1h40.2v4.59h-40.2zM263.1 789.5h40.2v4.59h-40.2zM263.1 905.3h40.2v4.59h-40.2zM263.1 921.9h40.2v4.59h-40.2zM263.1 938.4h40.2v4.59h-40.2zM263.1 959.1h40.2v4.59h-40.2zM263.1 988.1h40.2v4.59h-40.2zM263.1 1000.5h40.2v4.59h-40.2zM263.1 1223.9h40.2v8.73h-40.2zM263.1 1331.5h40.2v4.59h-40.2zM263.1 1360.4h40.2v4.59h-40.2zM263.1 1368.7h40.2v4.59h-40.2zM263.1 1397.7h40.2v4.59h-40.2zM263.1 1488.7h40.2v8.73h-40.2zM303.3 814.3h40.2v4.59h-40.2zM303.3 909.4h40.2v4.59h-40.2zM303.3 950.8h40.2v4.59h-40.2zM303.3 1137.0h40.2v4.59h-40.2zM303.3 1463.9h40.2v4.59h-40.2zM303.3 1480.4h40.2v4.59h-40.2zM343.5 863.9h40.2v8.73h-40.2zM343.5 1236.3h40.2v4.59h-40.2zM343.5 1252.9h40.2v4.59h-40.2zM343.5 1323.2h40.2v4.59h-40.2zM343.5 1418.4h40.2v4.59h-40.2zM343.5 1530.1h40.2v4.59h-40.2zM383.6 1058.4h40.2v4.59h-40.2zM383.6 1356.3h40.2v4.59h-40.2zM383.6 1410.1h40.2v4.59h-40.2zM383.6 1534.2h40.2v8.73h-40.2zM383.6 1654.2h40.2v4.59h-40.2zM383.6 1861.1h40.2v8.73h-40.2zM423.8 1575.6h40.2v4.59h-40.2zM423.8 1641.8h40.2v4.59h-40.2zM423.8 1861.1h40.2v8.73h-40.2zM464.0 905.3h40.2v4.59h-40.2zM464.0 1476.3h40.2v4.59h-40.2zM464.0 1600.4h40.2v4.59h-40.2zM464.0 1612.8h40.2v4.59h-40.2zM464.0 1666.6h40.2v4.59h-40.2zM464.0 1674.9h40.2v4.59h-40.2zM464.0 1708.0h40.2v4.59h-40.2zM464.0 1782.5h40.2v4.59h-40.2zM464.0 1823.8h40.2v4.59h-40.2zM464.0 1852.8h40.2v8.73h-40.2zM464.0 1919.0h40.2v8.73h-40.2zM464.0 1935.6h40.2v4.59h-40.2zM464.0 1943.8h40.2v4.59h-40.2zM504.2 1492.8h40.2v4.59h-40.2zM504.2 1501.1h40.2v4.59h-40.2zM504.2 1691.4h40.2v8.73h-40.2zM504.2 1703.9h40.2v12.86h-40.2zM504.2 1720.4h40.2v4.59h-40.2zM504.2 1761.8h40.2v4.59h-40.2zM504.2 1774.2h40.2v12.86h-40.2zM504.2 1799.0h40.2v4.59h-40.2zM504.2 1852.8h40.2v12.86h-40.2zM504.2 1943.8h40.2v4.59h-40.2zM504.2 1960.4h40.2v4.59h-40.2zM544.4 1885.9h40.2v4.59h-40.2zM544.4 1981.1h40.2v4.59h-40.2zM584.5 855.7h40.2v4.59h-40.2zM584.5 1223.9h40.2v8.73h-40.2zM584.5 1244.6h40.2v4.59h-40.2zM584.5 1418.4h40.2v8.73h-40.2zM624.7 1885.9h40.2v4.59h-40.2zM624.7 1948.0h40.2v4.59h-40.2zM664.9 1612.8h40.2v4.59h-40.2zM664.9 1621.1h40.2v4.59h-40.2zM664.9 1629.4h40.2v21.14h-40.2zM664.9 1712.1h40.2v4.59h-40.2zM664.9 1745.2h40.2v4.59h-40.2zM664.9 1757.6h40.2v4.59h-40.2zM664.9 1786.6h40.2v8.73h-40.2zM664.9 1811.4h40.2v4.59h-40.2zM664.9 1861.1h40.2v4.59h-40.2zM664.9 1869.4h40.2v4.59h-40.2zM664.9 1939.7h40.2v4.59h-40.2zM705.0 1608.7h40.2v4.59h-40.2zM705.0 1683.2h40.2v8.73h-40.2zM705.0 1720.4h40.2v4.59h-40.2zM705.0 1765.9h40.2v4.59h-40.2zM705.0 1774.2h40.2v4.59h-40.2zM705.0 1873.5h40.2v4.59h-40.2zM705.0 1894.2h40.2v4.59h-40.2zM705.0 1972.8h40.2v4.59h-40.2zM745.2 1621.1h40.2v8.73h-40.2zM745.2 1670.8h40.2v4.59h-40.2zM745.2 1691.4h40.2v8.73h-40.2zM745.2 1741.1h40.2v8.73h-40.2zM745.2 1774.2h40.2v4.59h-40.2zM745.2 1782.5h40.2v8.73h-40.2zM745.2 1828.0h40.2v4.59h-40.2zM745.2 1869.4h40.2v4.59h-40.2zM745.2 1881.8h40.2v4.59h-40.2zM745.2 1927.3h40.2v4.59h-40.2z"/>
<path fill="#fdd08c" d="M142.6 855.7h40.2v4.59h-40.2zM142.6 942.5h40.2v8.73h-40.2zM142.6 1120.5h40.2v4.59h-40.2zM142.6 1132.9h40.2v4.59h-40.2zM142.6 1153.6h40.2v8.73h-40.2zM142.6 1199.1h40.2v4.59h-40.2zM142.6 1236.3h40.2v4.59h-40.2zM142.6 1327.3h40.2v8.73h-40.2zM142.6 1406.0h40.2v4.59h-40.2zM142.6 1422.5h40.2v4.59h-40.2zM142.6 1443.2h40.2v8.73h-40.2zM142.6 1476.3h40.2v4.59h-40.2zM142.6 1505.3h40.2v4.59h-40.2zM142.6 1521.8h40.2v4.59h-40.2zM142.6 1567.3h40.2v4.59h-40.2zM182.8 901.2h40.2v4.59h-40.2zM182.8 909.4h40.2v4.59h-40.2zM182.8 934.3h40.2v4.59h-40.2zM182.8 996.3h40.2v4.59h-40.2zM182.8 1029.4h40.2v8.73h-40.2zM182.8 1041.8h40.2v12.86h-40.2zM182.8 1074.9h40.2v4.59h-40.2zM182.8 1145.3h40.2v4.59h-40.2zM182.8 1166.0h40.2v8.73h-40.2zM182.8 1215.6h40.2v4.59h-40.2zM182.8 1228.0h40.2v8.73h-40.2zM182.8 1244.6h40.2v4.59h-40.2zM182.8 1265.3h40.2v8.73h-40.2zM182.8 1281.8h40.2v4.59h-40.2zM182.8 1335.6h40.2v8.73h-40.2zM182.8 1368.7h40.2v8.73h-40.2zM182.8 1393.5h40.2v4.59h-40.2zM182.8 1422.5h40.2v4.59h-40.2zM182.8 1443.2h40.2v8.73h-40.2zM182.8 1468.0h40.2v4.59h-40.2zM182.8 1480.4h40.2v12.86h-40.2zM182.8 1501.1h40.2v4.59h-40.2zM182.8 1517.7h40.2v4.59h-40.2zM182.8 1592.1h40.2v4.59h-40.2zM222.9 814.3h40.2v4.59h-40.2zM222.9 822.6h40.2v8.73h-40.2zM222.9 851.5h40.2v4.59h-40.2zM222.9 868.1h40.2v8.73h-40.2zM222.9 901.2h40.2v4.59h-40.2zM222.9 963.2h40.2v12.86h-40.2zM222.9 1017.0h40.2v8.73h-40.2zM222.9 1033.6h40.2v4.59h-40.2zM222.9 1087.4h40.2v4.59h-40.2zM222.9 1099.8h40.2v4.59h-40.2zM222.9 1145.3h40.2v4.59h-40.2zM222.9 1166.0h40.2v4.59h-40.2zM222.9 1248.7h40.2v4.59h-40.2zM222.9 1257.0h40.2v4.59h-40.2zM222.9 1286.0h40.2v4.59h-40.2zM222.9 1314.9h40.2v4.59h-40.2zM222.9 1368.7h40.2v4.59h-40.2zM222.9 1377.0h40.2v4.59h-40.2zM222.9 1393.5h40.2v4.59h-40.2zM222.9 1422.5h40.2v4.59h-40.2zM222.9 1430.8h40.2v4.59h-40.2zM222.9 1451.5h40.2v4.59h-40.2zM222.9 1484.6h40.2v4.59h-40.2zM222.9 1633.5h40.2v4.59h-40.2zM263.1 810.1h40.2v4.59h-40.2zM263.1 826.7h40.2v4.59h-40.2zM263.1 868.1h40.2v4.59h-40.2zM263.1 909.4h40.2v4.59h-40.2zM263.1 955.0h40.2v4.59h-40.2zM263.1 971.5h40.2v4.59h-40.2zM263.1 992.2h40.2v4.59h-40.2zM263.1 1021.2h40.2v4.59h-40.2zM263.1 1079.1h40.2v12.86h-40.2zM263.1 1149.4h40.2v4.59h-40.2zM263.1 1319.1h40.2v8.73h-40.2zM263.1 1348.0h40.2v8.73h-40.2zM263.1 1364.6h40.2v4.59h-40.2zM263.1 1406.0h40.2v4.59h-40.2zM263.1 1509.4h40.2v8.73h-40.2zM263.1 1716.3h40.2v4.59h-40.2zM263.1 1753.5h40.2v8.73h-40.2zM303.3 830.8h40.2v4.59h-40.2zM303.3 847.4h40.2v4.59h-40.2zM303.3 872.2h40.2v8.73h-40.2zM303.3 884.6h40.2v4.59h-40.2zM303.3 905.3h40.2v4.59h-40.2zM303.3 913.6h40.2v4.59h-40.2zM303.3 983.9h40.2v4.59h-40.2zM303.3 1021.2h40.2v4.59h-40.2zM303.3 1054.3h40.2v4.59h-40.2zM303.3 1062.5h40.2v8.73h-40.2zM303.3 1244.6h40.2v4.59h-40.2zM303.3 1281.8h40.2v4.59h-40.2zM303.3 1381.1h40.2v4.59h-40.2zM343.5 797.7h40.2v4.59h-40.2zM343.5 810.1h40.2v8.73h-40.2zM343.5 826.7h40.2v4.59h-40.2zM343.5 835.0h40.2v4.59h-40.2zM343.5 884.6h40.2v4.59h-40.2zM343.5 892.9h40.2v4.59h-40.2zM343.5 967.4h40.2v4.59h-40.2zM343.5 983.9h40.2v4.59h-40.2zM343.5 1000.5h40.2v4.59h-40.2zM343.5 1149.4h40.2v4.59h-40.2zM343.5 1166.0h40.2v4.59h-40.2zM343.5 1248.7h40.2v4.59h-40.2zM343.5 1265.3h40.2v4.59h-40.2zM343.5 1327.3h40.2v4.59h-40.2zM343.5 1372.8h40.2v4.59h-40.2zM343.5 1422.5h40.2v4.59h-40.2zM343.5 1525.9h40.2v4.59h-40.2zM343.5 1542.5h40.2v4.59h-40.2zM383.6 1298.4h40.2v4.59h-40.2zM383.6 1323.2h40.2v4.59h-40.2zM383.6 1397.7h40.2v4.59h-40.2zM383.6 1513.5h40.2v4.59h-40.2zM383.6 1542.5h40.2v4.59h-40.2zM383.6 1563.2h40.2v4.59h-40.2zM383.6 1575.6h40.2v4.59h-40.2zM383.6 1604.6h40.2v4.59h-40.2zM383.6 1612.8h40.2v8.73h-40.2zM383.6 1641.8h40.2v4.59h-40.2zM383.6 1745.2h40.2v8.73h-40.2zM383.6 1786.6h40.2v4.59h-40.2zM383.6 1807.3h40.2v8.73h-40.2zM383.6 1823.8h40.2v4.59h-40.2zM383.6 1873.5h40.2v4.59h-40.2zM383.6 1923.1h40.2v4.59h-40.2zM383.6 1939.7h40.2v4.59h-40.2zM423.8 1050.1h40.2v4.59h-40.2zM423.8 1306.6h40.2v4.59h-40.2zM423.8 1319.1h40.2v17.00h-40.2zM423.8 1348.0h40.2v4.59h-40.2zM423.8 1364.6h40.2v4.59h-40.2zM423.8 1546.6h40.2v4.59h-40.2zM423.8 1612.8h40.2v8.73h-40.2zM423.8 1981.1h40.2v4.59h-40.2zM464.0 1219.8h40.2v4.59h-40.2zM464.0 1463.9h40.2v4.59h-40.2zM464.0 1550.8h40.2v4.59h-40.2zM464.0 1608.7h40.2v4.59h-40.2zM464.0 1728.7h40.2v8.73h-40.2zM464.0 1741.1h40.2v4.59h-40.2zM464.0 1749.4h40.2v12.86h-40.2zM464.0 1765.9h40.2v4.59h-40.2zM464.0 1778.3h40.2v4.59h-40.2zM464.0 1799.0h40.2v4.59h-40.2zM464.0 1811.4h40.2v8.73h-40.2zM464.0 1877.6h40.2v12.86h-40.2zM464.0 1939.7h40.2v4.59h-40.2zM464.0 1948.0h40.2v4.59h-40.2zM464.0 1956.2h40.2v8.73h-40.2zM464.0 1976.9h40.2v8.73h-40.2zM504.2 1389.4h40.2v4.59h-40.2zM504.2 1397.7h40.2v8.73h-40.2zM504.2 1414.2h40.2v4.59h-40.2zM504.2 1497.0h40.2v4.59h-40.2zM504.2 1509.4h40.2v8.73h-40.2zM504.2 1550.8h40.2v8.73h-40.2zM504.2 1608.7h40.2v4.59h-40.2zM504.2 1629.4h40.2v21.14h-40.2zM504.2 1662.5h40.2v8.73h-40.2zM504.2 1683.2h40.2v8.73h-40.2zM504.2 1699.7h40.2v4.59h-40.2zM504.2 1724.5h40.2v4.59h-40.2zM504.2 1737.0h40.2v4.59h-40.2zM504.2 1749.4h40.2v4.59h-40.2zM504.2 1770.1h40.2v4.59h-40.2zM504.2 1811.4h40.2v4.59h-40.2zM504.2 1819.7h40.2v8.73h-40.2zM504.2 1840.4h40.2v4.59h-40.2zM504.2 1935.6h40.2v4.59h-40.2zM504.2 1948.0h40.2v8.73h-40.2zM504.2 1964.5h40.2v8.73h-40.2zM544.4 1190.8h40.2v4.59h-40.2zM544.4 1232.2h40.2v4.59h-40.2zM544.4 1356.3h40.2v4.59h-40.2zM544.4 1894.2h40.2v8.73h-40.2zM544.4 1919.0h40.2v12.86h-40.2zM544.4 1943.8h40.2v8.73h-40.2zM544.4 1964.5h40.2v4.59h-40.2zM544.4 1985.2h40.2v4.59h-40.2zM584.5 806.0h40.2v4.59h-40.2zM584.5 826.7h40.2v4.59h-40.2zM584.5 839.1h40.2v8.73h-40.2zM584.5 863.9h40.2v4.59h-40.2zM584.5 1166.0h40.2v4.59h-40.2zM584.5 1236.3h40.2v4.59h-40.2zM584.5 1257.0h40.2v4.59h-40.2zM584.5 1381.1h40.2v4.59h-40.2zM584.5 1414.2h40.2v4.59h-40.2zM584.5 1794.9h40.2v4.59h-40.2zM624.7 810.1h40.2v4.59h-40.2zM624.7 992.2h40.2v4.59h-40.2zM624.7 1095.6h40.2v4.59h-40.2zM624.7 1737.0h40.2v4.59h-40.2zM624.7 1774.2h40.2v4.59h-40.2zM624.7 1840.4h40.2v4.59h-40.2zM664.9 1625.2h40.2v4.59h-40.2zM664.9 1662.5h40.2v4.59h-40.2zM664.9 1703.9h40.2v4.59h-40.2zM664.9 1741.1h40.2v4.59h-40.2zM664.9 1774.2h40.2v4.59h-40.2zM664.9 1803.2h40.2v4.59h-40.2zM664.9 1823.8h40.2v4.59h-40.2zM664.9 1840.4h40.2v4.59h-40.2zM664.9 1848.7h40.2v12.86h-40.2zM664.9 1873.5h40.2v4.59h-40.2zM664.9 1898.3h40.2v4.59h-40.2zM664.9 1931.4h40.2v8.73h-40.2zM664.9 1943.8h40.2v4.59h-40.2zM664.9 1976.9h40.2v4.59h-40.2zM705.0 1641.8h40.2v8.73h-40.2zM705.0 1662.5h40.2v4.59h-40.2zM705.0 1691.4h40.2v4.59h-40.2zM705.0 1716.3h40.2v4.59h-40.2zM705.0 1724.5h40.2v4.59h-40.2zM705.0 1732.8h40.2v4.59h-40.2zM705.0 1741.1h40.2v4.59h-40.2zM705.0 1770.1h40.2v4.59h-40.2zM705.0 1782.5h40.2v12.86h-40.2zM705.0 1832.1h40.2v4.59h-40.2zM705.0 1939.7h40.2v4.59h-40.2zM705.0 1952.1h40.2v4.59h-40.2zM745.2 1617.0h40.2v4.59h-40.2zM745.2 1629.4h40.2v4.59h-40.2zM745.2 1645.9h40.2v4.59h-40.2zM745.2 1699.7h40.2v4.59h-40.2zM745.2 1708.0h40.2v4.59h-40.2zM745.2 1724.5h40.2v4.59h-40.2zM745.2 1757.6h40.2v12.86h-40.2zM745.2 1778.3h40.2v4.59h-40.2zM745.2 1790.7h40.2v4.59h-40.2zM745.2 1840.4h40.2v4.59h-40.2zM745.2 1848.7h40.2v8.73h-40.2zM745.2 1865.2h40.2v4.59h-40.2zM745.2 1877.6h40.2v4.59h-40.2zM745.2 1885.9h40.2v8.73h-40.2zM745.2 1935.6h40.2v4.59h-40.2zM745.2 1943.8h40.2v4.59h-40.2zM745.2 1956.2h40.2v4.59h-40.2z"/>
<path fill="#fdd99e" d="M142.6 1265.3h40.2v8.73h-40.2zM142.6 1290.1h40.2v4.59h-40.2zM142.6 1298.4h40.2v4.59h-40.2zM142.6 1306.6h40.2v4.59h-40.2zM142.6 1323.2h40.2v4.59h-40.2zM142.6 1381.1h40.2v4.59h-40.2zM142.6 1397.7h40.2v4.59h-40.2zM142.6 1430.8h40.2v4.59h-40.2zM142.6 1472.2h40.2v4.59h-40.2zM142.6 1525.9h40.2v4.59h-40.2zM142.6 1550.8h40.2v8.73h-40.2zM142.6 1563.2h40.2v4.59h-40.2zM142.6 1592.1h40.2v8.73h-40.2zM182.8 797.7h40.2v4.59h-40.2zM182.8 843.2h40.2v4.59h-40.2zM182.8 863.9h40.2v4.59h-40.2zM182.8 872.2h40.2v8.73h-40.2zM182.8 905.3h40.2v4.59h-40.2zM182.8 950.8h40.2v4.59h-40.2zM182.8 959.1h40.2v4.59h-40.2zM182.8 971.5h40.2v4.59h-40.2zM182.8 979.8h40.2v4.59h-40.2zM182.8 1012.9h40.2v4.59h-40.2zM182.8 1058.4h40.2v4.59h-40.2zM182.8 1108.0h40.2v17.00h-40.2zM182.8 1141.1h40.2v4.59h-40.2zM182.8 1203.2h40.2v4.59h-40.2zM182.8 1223.9h40.2v4.59h-40.2zM182.8 1236.3h40.2v4.59h-40.2zM182.8 1252.9h40.2v4.59h-40.2zM182.8 1261.1h40.2v4.59h-40.2zM182.8 1277.7h40.2v4.59h-40.2zM182.8 1306.6h40.2v8.73h-40.2zM182.8 1348.0h40.2v4.59h-40.2zM182.8 1356.3h40.2v4.59h-40.2zM182.8 1397.7h40.2v12.86h-40.2zM182.8 1426.6h40.2v4.59h-40.2zM182.8 1463.9h40.2v4.59h-40.2zM182.8 1509.4h40.2v4.59h-40.2zM182.8 1525.9h40.2v8.73h-40.2zM182.8 1571.5h40.2v8.73h-40.2zM222.9 797.7h40.2v8.73h-40.2zM222.9 880.5h40.2v4.59h-40.2zM222.9 897.0h40.2v4.59h-40.2zM222.9 905.3h40.2v4.59h-40.2zM222.9 917.7h40.2v4.59h-40.2zM222.9 930.1h40.2v4.59h-40.2zM222.9 942.5h40.2v12.86h-40.2zM222.9 996.3h40.2v4.59h-40.2zM222.9 1012.9h40.2v4.59h-40.2zM222.9 1066.7h40.2v4.59h-40.2zM222.9 1091.5h40.2v8.73h-40.2zM222.9 1108.0h40.2v4.59h-40.2zM222.9 1137.0h40.2v4.59h-40.2zM222.9 1174.2h40.2v4.59h-40.2zM222.9 1182.5h40.2v4.59h-40.2zM222.9 1190.8h40.2v8.73h-40.2zM222.9 1228.0h40.2v4.59h-40.2zM222.9 1290.1h40.2v4.59h-40.2zM222.9 1356.3h40.2v4.59h-40.2zM222.9 1372.8h40.2v4.59h-40.2zM222.9 1455.6h40.2v4.59h-40.2zM222.9 1463.9h40.2v8.73h-40.2zM222.9 1637.7h40.2v4.59h-40.2zM222.9 1699.7h40.2v4.59h-40.2zM222.9 1712.1h40.2v4.59h-40.2zM222.9 1749.4h40.2v4.59h-40.2zM222.9 1778.3h40.2v4.59h-40.2zM263.1 818.4h40.2v8.73h-40.2zM263.1 830.8h40.2v8.73h-40.2zM263.1 847.4h40.2v4.59h-40.2zM263.1 855.7h40.2v4.59h-40.2zM263.1 888.8h40.2v4.59h-40.2zM263.1 901.2h40.2v4.59h-40.2zM263.1 930.1h40.2v4.59h-40.2zM263.1 1017.0h40.2v4.59h-40.2zM263.1 1046.0h40.2v4.59h-40.2zM263.1 1066.7h40.2v4.59h-40.2zM263.1 1128.7h40.2v8.73h-40.2zM263.1 1141.1h40.2v4.59h-40.2zM263.1 1215.6h40.2v8.73h-40.2zM263.1 1269.4h40.2v4.59h-40.2zM263.1 1277.7h40.2v8.73h-40.2zM263.1 1298.4h40.2v4.59h-40.2zM263.1 1310.8h40.2v4.59h-40.2zM263.1 1339.7h40.2v4.59h-40.2zM263.1 1372.8h40.2v4.59h-40.2zM263.1 1401.8h40.2v4.59h-40.2zM263.1 1414.2h40.2v4.59h-40.2zM263.1 1484.6h40.2v4.59h-40.2zM263.1 1567.3h40.2v4.59h-40.2zM263.1 1687.3h40.2v4.59h-40.2zM263.1 1695.6h40.2v17.00h-40.2zM263.1 1737.0h40.2v4.59h-40.2zM263.1 1749.4h40.2v4.59h-40.2zM263.1 1770.1h40.2v4.59h-40.2zM263.1 1972.8h40.2v4.59h-40.2zM263.1 1985.2h40.2v4.59h-40.2zM303.3 789.5h40.2v4.59h-40.2zM303.3 810.1h40.2v4.59h-40.2zM303.3 851.5h40.2v8.73h-40.2zM303.3 880.5h40.2v4.59h-40.2zM303.3 963.2h40.2v4.59h-40.2zM303.3 975.6h40.2v4.59h-40.2zM303.3 992.2h40.2v4.59h-40.2zM303.3 1000.5h40.2v4.59h-40.2zM303.3 1017.0h40.2v4.59h-40.2zM303.3 1029.4h40.2v8.73h-40.2zM303.3 1074.9h40.2v8.73h-40.2zM303.3 1112.2h40.2v4.59h-40.2zM303.3 1124.6h40.2v4.59h-40.2zM303.3 1145.3h40.2v4.59h-40.2zM303.3 1223.9h40.2v4.59h-40.2zM303.3 1257.0h40.2v8.73h-40.2zM303.3 1327.3h40.2v4.59h-40.2zM303.3 1372.8h40.2v4.59h-40.2zM303.3 1443.2h40.2v8.73h-40.2zM303.3 1579.7h40.2v4.59h-40.2zM303.3 1807.3h40.2v4.59h-40.2zM343.5 793.6h40.2v4.59h-40.2zM343.5 818.4h40.2v8.73h-40.2zM343.5 851.5h40.2v4.59h-40.2zM343.5 888.8h40.2v4.59h-40.2zM343.5 946.7h40.2v12.86h-40.2zM343.5 971.5h40.2v4.59h-40.2zM343.5 979.8h40.2v4.59h-40.2zM343.5 1008.7h40.2v4.59h-40.2zM343.5 1054.3h40.2v8.73h-40.2zM343.5 1108.0h40.2v4.59h-40.2zM343.5 1132.9h40.2v4.59h-40.2zM343.5 1153.6h40.2v4.59h-40.2zM343.5 1182.5h40.2v4.59h-40.2zM343.5 1203.2h40.2v4.59h-40.2zM343.5 1240.4h40.2v4.59h-40.2zM343.5 1290.1h40.2v4.59h-40.2zM343.5 1302.5h40.2v12.86h-40.2zM343.5 1319.1h40.2v4.59h-40.2zM343.5 1364.6h40.2v4.59h-40.2zM343.5 1377.0h40.2v8.73h-40.2zM343.5 1451.5h40.2v4.59h-40.2zM343.5 1513.5h40.2v4.59h-40.2zM343.5 1538.4h40.2v4.59h-40.2zM343.5 1563.2h40.2v17.00h-40.2zM343.5 1583.9h40.2v8.73h-40.2zM383.6 992.2h40.2v4.59h-40.2zM383.6 1004.6h40.2v4.59h-40.2zM383.6 1124.6h40.2v4.59h-40.2zM383.6 1141.1h40.2v4.59h-40.2zM383.6 1302.5h40.2v8.73h-40.2zM383.6 1343.9h40.2v4.59h-40.2zM383.6 1352.2h40.2v4.59h-40.2zM383.6 1368.7h40.2v8.73h-40.2zM383.6 1418.4h40.2v4.59h-40.2zM383.6 1434.9h40.2v4.59h-40.2zM383.6 1451.5h40.2v4.59h-40.2zM383.6 1476.3h40.2v8.73h-40.2zM383.6 1492.8h40.2v4.59h-40.2zM383.6 1501.1h40.2v4.59h-40.2zM383.6 1550.8h40.2v4.59h-40.2zM383.6 1559.0h40.2v4.59h-40.2zM383.6 1567.3h40.2v4.59h-40.2zM383.6 1579.7h40.2v4.59h-40.2zM383.6 1637.7h40.2v4.59h-40.2zM383.6 1720.4h40.2v4.59h-40.2zM383.6 1799.0h40.2v4.59h-40.2zM383.6 1828.0h40.2v4.59h-40.2zM383.6 1848.7h40.2v4.59h-40.2zM383.6 1856.9h40.2v4.59h-40.2zM383.6 1869.4h40.2v4.59h-40.2zM383.6 1914.9h40.2v8.73h-40.2zM383.6 1935.6h40.2v4.59h-40.2zM383.6 1943.8h40.2v4.59h-40.2zM383.6 1960.4h40.2v8.73h-40.2zM383.6 1976.9h40.2v4.59h-40.2zM423.8 1046.0h40.2v4.59h-40.2zM423.8 1554.9h40.2v4.59h-40.2zM423.8 1633.5h40.2v8.73h-40.2zM423.8 1691.4h40.2v4.59h-40.2zM423.8 1790.7h40.2v4.59h-40.2zM423.8 1803.2h40.2v4.59h-40.2zM423.8 1877.6h40.2v4.59h-40.2zM423.8 1902.5h40.2v4.59h-40.2zM423.8 1939.7h40.2v4.59h-40.2zM423.8 1976.9h40.2v4.59h-40.2zM464.0 1182.5h40.2v4.59h-40.2zM464.0 1215.6h40.2v4.59h-40.2zM464.0 1223.9h40.2v4.59h-40.2zM464.0 1459.7h40.2v4.59h-40.2zM464.0 1480.4h40.2v4.59h-40.2zM464.0 1530.1h40.2v4.59h-40.2zM464.0 1604.6h40.2v4.59h-40.2zM464.0 1633.5h40.2v8.73h-40.2zM464.0 1650.1h40.2v8.73h-40.2zM464.0 1662.5h40.2v4.59h-40.2zM464.0 1670.8h40.2v4.59h-40.2zM464.0 1699.7h40.2v8.73h-40.2zM464.0 1716.3h40.2v4.59h-40.2zM464.0 1724.5h40.2v4.59h-40.2zM464.0 1745.2h40.2v4.59h-40.2zM464.0 1770.1h40.2v4.59h-40.2zM464.0 1807.3h40.2v4.59h-40.2zM464.0 1836.3h40.2v8.73h-40.2zM464.0 1873.5h40.2v4.59h-40.2zM464.0 1927.3h40.2v8.73h-40.2zM464.0 1964.5h40.2v12.86h-40.2zM504.2 1385.3h40.2v4.59h-40.2zM504.2 1393.5h40.2v4.59h-40.2zM504.2 1422.5h40.2v4.59h-40.2zM504.2 1443.2h40.2v4.59h-40.2zM504.2 1455.6h40.2v4.59h-40.2zM504.2 1542.5h40.2v8.73h-40.2zM504.2 1571.5h40.2v4.59h-40.2zM504.2 1583.9h40.2v4.59h-40.2zM504.2 1625.2h40.2v4.59h-40.2zM504.2 1728.7h40.2v4.59h-40.2zM504.2 1741.1h40.2v8.73h-40.2zM504.2 1753.5h40.2v4.59h-40.2zM504.2 1790.7h40.2v8.73h-40.2zM504.2 1803.2h40.2v8.73h-40.2zM504.2 1815.6h40.2v4.59h-40.2zM504.2 1828.0h40.2v4.59h-40.2zM504.2 1844.5h40.2v4.59h-40.2zM504.2 1865.2h40.2v4.59h-40.2zM504.2 1885.9h40.2v4.59h-40.2zM504.2 1931.4h40.2v4.59h-40.2zM504.2 1939.7h40.2v4.59h-40.2zM504.2 1956.2h40.2v4.59h-40.2zM504.2 1972.8h40.2v17.00h-40.2zM544.4 1228.0h40.2v4.59h-40.2zM544.4 1261.1h40.2v4.59h-40.2zM544.4 1314.9h40.2v4.59h-40.2zM544.4 1343.9h40.2v4.59h-40.2zM544.4 1443.2h40.2v4.59h-40.2zM544.4 1877.6h40.2v8.73h-40.2zM544.4 1902.5h40.2v4.59h-40.2zM544.4 1931.4h40.2v4.59h-40.2zM544.4 1939.7h40.2v4.59h-40.2zM544.4 1956.2h40.2v4.59h-40.2zM544.4 1968.7h40.2v12.86h-40.2zM584.5 876.3h40.2v4.59h-40.2zM584.5 905.3h40.2v4.59h-40.2zM584.5 938.4h40.2v4.59h-40.2zM584.5 1199.1h40.2v4.59h-40.2zM584.5 1219.8h40.2v4.59h-40.2zM584.5 1232.2h40.2v4.59h-40.2zM584.5 1240.4h40.2v4.59h-40.2zM584.5 1248.7h40.2v8.73h-40.2zM584.5 1385.3h40.2v4.59h-40.2zM584.5 1542.5h40.2v4.59h-40.2zM584.5 1550.8h40.2v4.59h-40.2zM584.5 1741.1h40.2v4.59h-40.2zM584.5 1985.2h40.2v4.59h-40.2zM624.7 814.3h40.2v4.59h-40.2zM624.7 967.4h40.2v4.59h-40.2zM624.7 975.6h40.2v4.59h-40.2zM624.7 1004.6h40.2v4.59h-40.2zM624.7 1103.9h40.2v4.59h-40.2zM624.7 1732.8h40.2v4.59h-40.2zM624.7 1745.2h40.2v4.59h-40.2zM624.7 1815.6h40.2v4.59h-40.2zM624.7 1873.5h40.2v4.59h-40.2zM624.7 1890.0h40.2v8.73h-40.2zM624.7 1943.8h40.2v4.59h-40.2zM664.9 1608.7h40.2v4.59h-40.2zM664.9 1617.0h40.2v4.59h-40.2zM664.9 1658.3h40.2v4.59h-40.2zM664.9 1670.8h40.2v4.59h-40.2zM664.9 1683.2h40.2v4.59h-40.2zM664.9 1695.6h40.2v8.73h-40.2zM664.9 1737.0h40.2v4.59h-40.2zM664.9 1749.4h40.2v4.59h-40.2zM664.9 1761.8h40.2v4.59h-40.2zM664.9 1778.3h40.2v8.73h-40.2zM664.9 1799.0h40.2v4.59h-40.2zM664.9 1828.0h40.2v8.73h-40.2zM664.9 1844.5h40.2v4.59h-40.2zM664.9 1865.2h40.2v4.59h-40.2zM664.9 1881.8h40.2v12.86h-40.2zM664.9 1902.5h40.2v8.73h-40.2zM664.9 1923.1h40.2v8.73h-40.2zM664.9 1952.1h40.2v4.59h-40.2zM664.9 1985.2h40.2v4.59h-40.2zM705.0 1612.8h40.2v8.73h-40.2zM705.0 1658.3h40.2v4.59h-40.2zM705.0 1666.6h40.2v12.86h-40.2zM705.0 1695.6h40.2v4.59h-40.2zM705.0 1703.9h40.2v4.59h-40.2zM705.0 1728.7h40.2v4.59h-40.2zM705.0 1737.0h40.2v4.59h-40.2zM705.0 1799.0h40.2v4.59h-40.2zM705.0 1819.7h40.2v12.86h-40.2zM705.0 1840.4h40.2v4.59h-40.2zM705.0 1865.2h40.2v4.59h-40.2zM705.0 1885.9h40.2v4.59h-40.2zM705.0 1902.5h40.2v17.00h-40.2zM705.0 1927.3h40.2v12.86h-40.2zM705.0 1981.1h40.2v4.59h-40.2zM745.2 806.0h40.2v8.73h-40.2zM745.2 1604.6h40.2v4.59h-40.2zM745.2 1633.5h40.2v12.86h-40.2zM745.2 1658.3h40.2v4.59h-40.2zM745.2 1666.6h40.2v4.59h-40.2zM745.2 1683.2h40.2v4.59h-40.2zM745.2 1716.3h40.2v8.73h-40.2zM745.2 1728.7h40.2v4.59h-40.2zM745.2 1770.1h40.2v4.59h-40.2zM745.2 1799.0h40.2v4.59h-40.2zM745.2 1815.6h40.2v4.59h-40.2zM745.2 1836.3h40.2v4.59h-40.2zM745.2 1844.5h40.2v4.59h-40.2zM745.2 1856.9h40.2v8.73h-40.2zM745.2 1894.2h40.2v4.59h-40.2zM745.2 1906.6h40.2v8.73h-40.2zM745.2 1919.0h40.2v8.73h-40.2zM745.2 1931.4h40.2v4.59h-40.2zM745.2 1968.7h40.2v4.59h-40.2zM745.2 1985.2h40.2v4.59h-40.2z"/>
<path fill="#fee2b1" d="M142.6 1286.0h40.2v4.59h-40.2zM142.6 1401.8h40.2v4.59h-40.2zM142.6 1468.0h40.2v4.59h-40.2zM142.6 1509.4h40.2v4.59h-40.2zM142.6 1815.6h40.2v4.59h-40.2zM142.6 1861.1h40.2v4.59h-40.2zM182.8 789.5h40.2v4.59h-40.2zM182.8 859.8h40.2v4.59h-40.2zM182.8 938.4h40.2v4.59h-40.2zM182.8 955.0h40.2v4.59h-40.2zM182.8 963.2h40.2v4.59h-40.2zM182.8 988.1h40.2v4.59h-40.2zM182.8 1000.5h40.2v4.59h-40.2zM182.8 1025.3h40.2v4.59h-40.2zM182.8 1066.7h40.2v4.59h-40.2zM182.8 1095.6h40.2v4.59h-40.2zM182.8 1182.5h40.2v4.59h-40.2zM182.8 1207.3h40.2v4.59h-40.2zM182.8 1319.1h40.2v12.86h-40.2zM182.8 1352.2h40.2v4.59h-40.2zM182.8 1430.8h40.2v4.59h-40.2zM182.8 1472.2h40.2v4.59h-40.2zM182.8 1505.3h40.2v4.59h-40.2zM182.8 1521.8h40.2v4.59h-40.2zM182.8 1583.9h40.2v4.59h-40.2zM222.9 789.5h40.2v8.73h-40.2zM222.9 810.1h40.2v4.59h-40.2zM222.9 818.4h40.2v4.59h-40.2zM222.9 876.3h40.2v4.59h-40.2zM222.9 921.9h40.2v8.73h-40.2zM222.9 938.4h40.2v4.59h-40.2zM222.9 975.6h40.2v8.73h-40.2zM222.9 988.1h40.2v4.59h-40.2zM222.9 1000.5h40.2v4.59h-40.2zM222.9 1025.3h40.2v8.73h-40.2zM222.9 1054.3h40.2v4.59h-40.2zM222.9 1103.9h40.2v4.59h-40.2zM222.9 1112.2h40.2v4.59h-40.2zM222.9 1128.7h40.2v4.59h-40.2zM222.9 1153.6h40.2v4.59h-40.2zM222.9 1161.8h40.2v4.59h-40.2zM222.9 1186.7h40.2v4.59h-40.2zM222.9 1207.3h40.2v8.73h-40.2zM222.9 1219.8h40.2v4.59h-40.2zM222.9 1273.5h40.2v4.59h-40.2zM222.9 1298.4h40.2v12.86h-40.2zM222.9 1319.1h40.2v12.86h-40.2zM222.9 1352.2h40.2v4.59h-40.2zM222.9 1360.4h40.2v4.59h-40.2zM222.9 1397.7h40.2v8.73h-40.2zM222.9 1414.2h40.2v4.59h-40.2zM222.9 1447.3h40.2v4.59h-40.2zM222.9 1476.3h40.2v4.59h-40.2zM222.9 1488.7h40.2v4.59h-40.2zM222.9 1501.1h40.2v4.59h-40.2zM222.9 1530.1h40.2v4.59h-40.2zM222.9 1550.8h40.2v4.59h-40.2zM222.9 1579.7h40.2v4.59h-40.2zM222.9 1612.8h40.2v4.59h-40.2zM222.9 1641.8h40.2v4.59h-40.2zM222.9 1666.6h40.2v4.59h-40.2zM222.9 1687.3h40.2v4.59h-40.2zM222.9 1716.3h40.2v4.59h-40.2zM222.9 1724.5h40.2v4.59h-40.2zM222.9 1737.0h40.2v4.59h-40.2zM222.9 1794.9h40.2v8.73h-40.2zM222.9 1972.8h40.2v4.59h-40.2zM263.1 797.7h40.2v4.59h-40.2zM263.1 806.0h40.2v4.59h-40.2zM263.1 839.1h40.2v8.73h-40.2zM263.1 872.2h40.2v4.59h-40.2zM263.1 880.5h40.2v4.59h-40.2zM263.1 892.9h40.2v4.59h-40.2zM263.1 913.6h40.2v4.59h-40.2zM263.1 926.0h40.2v4.59h-40.2zM263.1 934.3h40.2v4.59h-40.2zM263.1 963.2h40.2v8.73h-40.2zM263.1 996.3h40.2v4.59h-40.2zM263.1 1054.3h40.2v4.59h-40.2zM263.1 1062.5h40.2v4.59h-40.2zM263.1 1095.6h40.2v4.59h-40.2zM263.1 1120.5h40.2v8.73h-40.2zM263.1 1182.5h40.2v12.86h-40.2zM263.1 1211.5h40.2v4.59h-40.2zM263.1 1240.4h40.2v4.59h-40.2zM263.1 1261.1h40.2v8.73h-40.2zM263.1 1273.5h40.2v4.59h-40.2zM263.1 1286.0h40.2v12.86h-40.2zM263.1 1314.9h40.2v4.59h-40.2zM263.1 1327.3h40.2v4.59h-40.2zM263.1 1410.1h40.2v4.59h-40.2zM263.1 1418.4h40.2v8.73h-40.2zM263.1 1434.9h40.2v4.59h-40.2zM263.1 1451.5h40.2v4.59h-40.2zM263.1 1459.7h40.2v4.59h-40.2zM263.1 1480.4h40.2v4.59h-40.2zM263.1 1563.2h40.2v4.59h-40.2zM263.1 1683.2h40.2v4.59h-40.2zM263.1 1720.4h40.2v8.73h-40.2zM263.1 1732.8h40.2v4.59h-40.2zM263.1 1741.1h40.2v4.59h-40.2zM263.1 1774.2h40.2v4.59h-40.2zM263.1 1786.6h40.2v8.73h-40.2zM263.1 1807.3h40.2v4.59h-40.2zM263.1 1931.4h40.2v4.59h-40.2zM263.1 1964.5h40.2v8.73h-40.2zM303.3 797.7h40.2v4.59h-40.2zM303.3 806.0h40.2v4.59h-40.2zM303.3 835.0h40.2v4.59h-40.2zM303.3 843.2h40.2v4.59h-40.2zM303.3 888.8h40.2v4.59h-40.2zM303.3 901.2h40.2v4.59h-40.2zM303.3 955.0h40.2v8.73h-40.2zM303.3 967.4h40.2v8.73h-40.2zM303.3 988.1h40.2v4.59h-40.2zM303.3 1004.6h40.2v12.86h-40.2zM303.3 1025.3h40.2v4.59h-40.2zM303.3 1058.4h40.2v4.59h-40.2zM303.3 1108.0h40.2v4.59h-40.2zM303.3 1132.9h40.2v4.59h-40.2zM303.3 1207.3h40.2v8.73h-40.2zM303.3 1219.8h40.2v4.59h-40.2zM303.3 1228.0h40.2v4.59h-40.2zM303.3 1286.0h40.2v12.86h-40.2zM303.3 1310.8h40.2v4.59h-40.2zM303.3 1343.9h40.2v12.86h-40.2zM303.3 1360.4h40.2v12.86h-40.2zM303.3 1377.0h40.2v4.59h-40.2zM303.3 1459.7h40.2v4.59h-40.2zM303.3 1476.3h40.2v4.59h-40.2zM303.3 1488.7h40.2v4.59h-40.2zM303.3 1501.1h40.2v4.59h-40.2zM303.3 1534.2h40.2v4.59h-40.2zM303.3 1592.1h40.2v4.59h-40.2zM303.3 1790.7h40.2v4.59h-40.2zM303.3 1799.0h40.2v4.59h-40.2zM303.3 1811.4h40.2v4.59h-40.2zM343.5 789.5h40.2v4.59h-40.2zM343.5 847.4h40.2v4.59h-40.2zM343.5 855.7h40.2v4.59h-40.2zM343.5 872.2h40.2v12.86h-40.2zM343.5 901.2h40.2v4.59h-40.2zM343.5 921.9h40.2v4.59h-40.2zM343.5 996.3h40.2v4.59h-40.2zM343.5 1004.6h40.2v4.59h-40.2zM343.5 1029.4h40.2v12.86h-40.2zM343.5 1046.0h40.2v8.73h-40.2zM343.5 1062.5h40.2v4.59h-40.2zM343.5 1070.8h40.2v4.59h-40.2zM343.5 1091.5h40.2v4.59h-40.2zM343.5 1120.5h40.2v4.59h-40.2zM343.5 1145.3h40.2v4.59h-40.2zM343.5 1174.2h40.2v8.73h-40.2zM343.5 1211.5h40.2v4.59h-40.2zM343.5 1286.0h40.2v4.59h-40.2zM343.5 1294.2h40.2v8.73h-40.2zM343.5 1335.6h40.2v4.59h-40.2zM343.5 1348.0h40.2v4.59h-40.2zM343.5 1368.7h40.2v4.59h-40.2zM343.5 1393.5h40.2v4.59h-40.2zM343.5 1410.1h40.2v4.59h-40.2zM343.5 1472.2h40.2v8.73h-40.2zM343.5 1509.4h40.2v4.59h-40.2zM343.5 1517.7h40.2v8.73h-40.2zM343.5 1546.6h40.2v4.59h-40.2zM343.5 1592.1h40.2v4.59h-40.2zM343.5 1844.5h40.2v4.59h-40.2zM383.6 1178.4h40.2v4.59h-40.2zM383.6 1319.1h40.2v4.59h-40.2zM383.6 1327.3h40.2v4.59h-40.2zM383.6 1339.7h40.2v4.59h-40.2zM383.6 1360.4h40.2v8.73h-40.2zM383.6 1377.0h40.2v8.73h-40.2zM383.6 1414.2h40.2v4.59h-40.2zM383.6 1430.8h40.2v4.59h-40.2zM383.6 1443.2h40.2v4.59h-40.2zM383.6 1484.6h40.2v4.59h-40.2zM383.6 1505.3h40.2v8.73h-40.2zM383.6 1521.8h40.2v12.86h-40.2zM383.6 1583.9h40.2v12.86h-40.2zM383.6 1600.4h40.2v4.59h-40.2zM383.6 1608.7h40.2v4.59h-40.2zM383.6 1650.1h40.2v4.59h-40.2zM383.6 1662.5h40.2v4.59h-40.2zM383.6 1670.8h40.2v4.59h-40.2zM383.6 1741.1h40.2v4.59h-40.2zM383.6 1753.5h40.2v4.59h-40.2zM383.6 1765.9h40.2v8.73h-40.2zM383.6 1782.5h40.2v4.59h-40.2zM383.6 1790.7h40.2v8.73h-40.2zM383.6 1815.6h40.2v4.59h-40.2zM383.6 1844.5h40.2v4.59h-40.2zM383.6 1852.8h40.2v4.59h-40.2zM383.6 1952.1h40.2v8.73h-40.2zM383.6 1972.8h40.2v4.59h-40.2zM423.8 917.7h40.2v4.59h-40.2zM423.8 934.3h40.2v4.59h-40.2zM423.8 1025.3h40.2v12.86h-40.2zM423.8 1041.8h40.2v4.59h-40.2zM423.8 1058.4h40.2v4.59h-40.2zM423.8 1087.4h40.2v4.59h-40.2zM423.8 1103.9h40.2v8.73h-40.2zM423.8 1199.1h40.2v8.73h-40.2zM423.8 1211.5h40.2v4.59h-40.2zM423.8 1290.1h40.2v4.59h-40.2zM423.8 1298.4h40.2v4.59h-40.2zM423.8 1335.6h40.2v8.73h-40.2zM423.8 1352.2h40.2v8.73h-40.2zM423.8 1397.7h40.2v4.59h-40.2zM423.8 1414.2h40.2v4.59h-40.2zM423.8 1497.0h40.2v8.73h-40.2zM423.8 1550.8h40.2v4.59h-40.2zM423.8 1583.9h40.2v4.59h-40.2zM423.8 1596.3h40.2v8.73h-40.2zM423.8 1625.2h40.2v4.59h-40.2zM423.8 1645.9h40.2v4.59h-40.2zM423.8 1658.3h40.2v4.59h-40.2zM423.8 1670.8h40.2v4.59h-40.2zM423.8 1728.7h40.2v4.59h-40.2zM423.8 1737.0h40.2v8.73h-40.2zM423.8 1749.4h40.2v4.59h-40.2zM423.8 1774.2h40.2v4.59h-40.2zM423.8 1794.9h40.2v8.73h-40.2zM423.8 1807.3h40.2v8.73h-40.2zM423.8 1823.8h40.2v4.59h-40.2zM423.8 1836.3h40.2v4.59h-40.2zM423.8 1848.7h40.2v8.73h-40.2zM423.8 1869.4h40.2v4.59h-40.2zM423.8 1943.8h40.2v12.86h-40.2zM423.8 1972.8h40.2v4.59h-40.2zM423.8 1985.2h40.2v4.59h-40.2zM464.0 847.4h40.2v4.59h-40.2zM464.0 897.0h40.2v4.59h-40.2zM464.0 1012.9h40.2v4.59h-40.2zM464.0 1228.0h40.2v12.86h-40.2zM464.0 1265.3h40.2v4.59h-40.2zM464.0 1298.4h40.2v4.59h-40.2zM464.0 1343.9h40.2v4.59h-40.2zM464.0 1455.6h40.2v4.59h-40.2zM464.0 1484.6h40.2v4.59h-40.2zM464.0 1534.2h40.2v12.86h-40.2zM464.0 1579.7h40.2v4.59h-40.2zM464.0 1592.1h40.2v8.73h-40.2zM464.0 1617.0h40.2v17.00h-40.2zM464.0 1641.8h40.2v8.73h-40.2zM464.0 1687.3h40.2v8.73h-40.2zM464.0 1712.1h40.2v4.59h-40.2zM464.0 1737.0h40.2v4.59h-40.2zM464.0 1774.2h40.2v4.59h-40.2zM464.0 1786.6h40.2v4.59h-40.2zM464.0 1794.9h40.2v4.59h-40.2zM464.0 1803.2h40.2v4.59h-40.2zM464.0 1861.1h40.2v4.59h-40.2zM464.0 1869.4h40.2v4.59h-40.2zM464.0 1894.2h40.2v8.73h-40.2zM504.2 797.7h40.2v8.73h-40.2zM504.2 1406.0h40.2v4.59h-40.2zM504.2 1439.1h40.2v4.59h-40.2zM504.2 1447.3h40.2v4.59h-40.2zM504.2 1459.7h40.2v17.00h-40.2zM504.2 1484.6h40.2v8.73h-40.2zM504.2 1505.3h40.2v4.59h-40.2zM504.2 1517.7h40.2v4.59h-40.2zM504.2 1530.1h40.2v8.73h-40.2zM504.2 1559.0h40.2v12.86h-40.2zM504.2 1592.1h40.2v8.73h-40.2zM504.2 1732.8h40.2v4.59h-40.2zM504.2 1757.6h40.2v4.59h-40.2zM504.2 1765.9h40.2v4.59h-40.2zM504.2 1869.4h40.2v4.59h-40.2zM504.2 1877.6h40.2v8.73h-40.2zM544.4 1223.9h40.2v4.59h-40.2zM544.4 1257.0h40.2v4.59h-40.2zM544.4 1265.3h40.2v4.59h-40.2zM544.4 1310.8h40.2v4.59h-40.2zM544.4 1348.0h40.2v8.73h-40.2zM544.4 1360.4h40.2v4.59h-40.2zM544.4 1414.2h40.2v4.59h-40.2zM544.4 1434.9h40.2v4.59h-40.2zM544.4 1517.7h40.2v4.59h-40.2zM544.4 1865.2h40.2v4.59h-40.2zM544.4 1906.6h40.2v12.86h-40.2zM544.4 1935.6h40.2v4.59h-40.2zM544.4 1952.1h40.2v4.59h-40.2zM584.5 810.1h40.2v17.00h-40.2zM584.5 830.8h40.2v8.73h-40.2zM584.5 847.4h40.2v8.73h-40.2zM584.5 897.0h40.2v8.73h-40.2zM584.5 1161.8h40.2v4.59h-40.2zM584.5 1170.1h40.2v12.86h-40.2zM584.5 1203.2h40.2v12.86h-40.2zM584.5 1393.5h40.2v4.59h-40.2zM584.5 1406.0h40.2v4.59h-40.2zM584.5 1426.6h40.2v8.73h-40.2zM584.5 1447.3h40.2v8.73h-40.2zM584.5 1480.4h40.2v4.59h-40.2zM584.5 1513.5h40.2v8.73h-40.2zM584.5 1724.5h40.2v4.59h-40.2zM584.5 1765.9h40.2v4.59h-40.2zM584.5 1774.2h40.2v4.59h-40.2zM584.5 1803.2h40.2v4.59h-40.2zM584.5 1852.8h40.2v4.59h-40.2zM584.5 1890.0h40.2v4.59h-40.2zM584.5 1923.1h40.2v4.59h-40.2zM584.5 1935.6h40.2v4.59h-40.2zM624.7 806.0h40.2v4.59h-40.2zM624.7 971.5h40.2v4.59h-40.2zM624.7 979.8h40.2v4.59h-40.2zM624.7 988.1h40.2v4.59h-40.2zM624.7 996.3h40.2v8.73h-40.2zM624.7 1008.7h40.2v8.73h-40.2zM624.7 1083.2h40.2v4.59h-40.2zM624.7 1290.1h40.2v8.73h-40.2zM624.7 1683.2h40.2v4.59h-40.2zM624.7 1728.7h40.2v4.59h-40.2zM624.7 1741.1h40.2v4.59h-40.2zM624.7 1765.9h40.2v4.59h-40.2zM624.7 1828.0h40.2v8.73h-40.2zM624.7 1877.6h40.2v8.73h-40.2zM664.9 1091.5h40.2v4.59h-40.2zM664.9 1103.9h40.2v4.59h-40.2zM664.9 1248.7h40.2v4.59h-40.2zM664.9 1604.6h40.2v4.59h-40.2zM664.9 1650.1h40.2v8.73h-40.2zM664.9 1666.6h40.2v4.59h-40.2zM664.9 1674.9h40.2v4.59h-40.2zM664.9 1687.3h40.2v8.73h-40.2zM664.9 1753.5h40.2v4.59h-40.2zM664.9 1765.9h40.2v4.59h-40.2zM664.9 1815.6h40.2v8.73h-40.2zM664.9 1836.3h40.2v4.59h-40.2zM664.9 1914.9h40.2v4.59h-40.2zM664.9 1968.7h40.2v8.73h-40.2zM664.9 1981.1h40.2v4.59h-40.2zM705.0 1654.2h40.2v4.59h-40.2zM705.0 1708.0h40.2v4.59h-40.2zM705.0 1749.4h40.2v4.59h-40.2zM705.0 1757.6h40.2v8.73h-40.2zM705.0 1778.3h40.2v4.59h-40.2zM705.0 1807.3h40.2v4.59h-40.2zM705.0 1815.6h40.2v4.59h-40.2zM705.0 1836.3h40.2v4.59h-40.2zM705.0 1844.5h40.2v4.59h-40.2zM705.0 1877.6h40.2v4.59h-40.2zM705.0 1898.3h40.2v4.59h-40.2zM705.0 1919.0h40.2v8.73h-40.2zM705.0 1943.8h40.2v4.59h-40.2zM705.0 1956.2h40.2v4.59h-40.2zM705.0 1964.5h40.2v4.59h-40.2zM705.0 1985.2h40.2v4.59h-40.2zM745.2 1650.1h40.2v4.59h-40.2zM745.2 1674.9h40.2v8.73h-40.2zM745.2 1703.9h40.2v4.59h-40.2zM745.2 1732.8h40.2v8.73h-40.2zM745.2 1749.4h40.2v8.73h-40.2zM745.2 1794.9h40.2v4.59h-40.2zM745.2 1807.3h40.2v4.59h-40.2zM745.2 1832.1h40.2v4.59h-40.2zM745.2 1873.5h40.2v4.59h-40.2zM745.2 1914.9h40.2v4.59h-40.2zM745.2 1952.1h40.2v4.59h-40.2zM745.2 1960.4h40.2v8.73h-40.2z"/>
<path fill="#feeac3" d="M142.6 938.4h40.2v4.59h-40.2zM142.6 1426.6h40.2v4.59h-40.2zM142.6 1559.0h40.2v4.59h-40.2zM142.6 1844.5h40.2v4.59h-40.2zM142.6 1856.9h40.2v4.59h-40.2zM182.8 835.0h40.2v4.59h-40.2zM182.8 917.7h40.2v12.86h-40.2zM182.8 946.7h40.2v4.59h-40.2zM182.8 1054.3h40.2v4.59h-40.2zM182.8 1194.9h40.2v8.73h-40.2zM182.8 1240.4h40.2v4.59h-40.2zM182.8 1294.2h40.2v4.59h-40.2zM182.8 1534.2h40.2v4.59h-40.2zM182.8 1567.3h40.2v4.59h-40.2zM222.9 835.0h40.2v4.59h-40.2zM222.9 863.9h40.2v4.59h-40.2zM222.9 1004.6h40.2v4.59h-40.2zM222.9 1050.1h40.2v4.59h-40.2zM222.9 1083.2h40.2v4.59h-40.2zM222.9 1141.1h40.2v4.59h-40.2zM222.9 1157.7h40.2v4.59h-40.2zM222.9 1178.4h40.2v4.59h-40.2zM222.9 1199.1h40.2v4.59h-40.2zM222.9 1223.9h40.2v4.59h-40.2zM222.9 1232.2h40.2v8.73h-40.2zM222.9 1252.9h40.2v4.59h-40.2zM222.9 1261.1h40.2v4.59h-40.2zM222.9 1281.8h40.2v4.59h-40.2zM222.9 1335.6h40.2v4.59h-40.2zM222.9 1381.1h40.2v4.59h-40.2zM222.9 1389.4h40.2v4.59h-40.2zM222.9 1410.1h40.2v4.59h-40.2zM222.9 1459.7h40.2v4.59h-40.2zM222.9 1472.2h40.2v4.59h-40.2zM222.9 1492.8h40.2v4.59h-40.2zM222.9 1554.9h40.2v8.73h-40.2zM222.9 1567.3h40.2v4.59h-40.2zM222.9 1575.6h40.2v4.59h-40.2zM222.9 1583.9h40.2v4.59h-40.2zM222.9 1617.0h40.2v4.59h-40.2zM222.9 1645.9h40.2v4.59h-40.2zM222.9 1662.5h40.2v4.59h-40.2zM222.9 1670.8h40.2v8.73h-40.2zM222.9 1683.2h40.2v4.59h-40.2zM222.9 1695.6h40.2v4.59h-40.2zM222.9 1708.0h40.2v4.59h-40.2zM222.9 1720.4h40.2v4.59h-40.2zM222.9 1728.7h40.2v4.59h-40.2zM222.9 1782.5h40.2v12.86h-40.2zM222.9 1803.2h40.2v4.59h-40.2zM222.9 1819.7h40.2v4.59h-40.2zM222.9 1960.4h40.2v12.86h-40.2zM263.1 793.6h40.2v4.59h-40.2zM263.1 801.9h40.2v4.59h-40.2zM263.1 814.3h40.2v4.59h-40.2zM263.1 859.8h40.2v4.59h-40.2zM263.1 876.3h40.2v4.59h-40.2zM263.1 884.6h40.2v4.59h-40.2zM263.1 942.5h40.2v4.59h-40.2zM263.1 950.8h40.2v4.59h-40.2zM263.1 975.6h40.2v4.59h-40.2zM263.1 1004.6h40.2v4.59h-40.2zM263.1 1025.3h40.2v4.59h-40.2zM263.1 1041.8h40.2v4.59h-40.2zM263.1 1070.8h40.2v8.73h-40.2zM263.1 1145.3h40.2v4.59h-40.2zM263.1 1161.8h40.2v4.59h-40.2zM263.1 1199.1h40.2v4.59h-40.2zM263.1 1232.2h40.2v8.73h-40.2zM263.1 1244.6h40.2v4.59h-40.2zM263.1 1306.6h40.2v4.59h-40.2zM263.1 1356.3h40.2v4.59h-40.2zM263.1 1381.1h40.2v8.73h-40.2zM263.1 1393.5h40.2v4.59h-40.2zM263.1 1439.1h40.2v4.59h-40.2zM263.1 1455.6h40.2v4.59h-40.2zM263.1 1497.0h40.2v4.59h-40.2zM263.1 1538.4h40.2v8.73h-40.2zM263.1 1550.8h40.2v4.59h-40.2zM263.1 1575.6h40.2v8.73h-40.2zM263.1 1592.1h40.2v4.59h-40.2zM263.1 1654.2h40.2v4.59h-40.2zM263.1 1679.0h40.2v4.59h-40.2zM263.1 1728.7h40.2v4.59h-40.2zM263.1 1745.2h40.2v4.59h-40.2zM263.1 1761.8h40.2v4.59h-40.2zM263.1 1778.3h40.2v4.59h-40.2zM263.1 1890.0h40.2v4.59h-40.2zM263.1 1960.4h40.2v4.59h-40.2zM263.1 1976.9h40.2v4.59h-40.2zM303.3 793.6h40.2v4.59h-40.2zM303.3 892.9h40.2v8.73h-40.2zM303.3 917.7h40.2v4.59h-40.2zM303.3 930.1h40.2v12.86h-40.2zM303.3 1046.0h40.2v4.59h-40.2zM303.3 1083.2h40.2v4.59h-40.2zM303.3 1091.5h40.2v4.59h-40.2zM303.3 1103.9h40.2v4.59h-40.2zM303.3 1186.7h40.2v4.59h-40.2zM303.3 1215.6h40.2v4.59h-40.2zM303.3 1232.2h40.2v8.73h-40.2zM303.3 1252.9h40.2v4.59h-40.2zM303.3 1265.3h40.2v4.59h-40.2zM303.3 1273.5h40.2v8.73h-40.2zM303.3 1319.1h40.2v8.73h-40.2zM303.3 1331.5h40.2v4.59h-40.2zM303.3 1339.7h40.2v4.59h-40.2zM303.3 1385.3h40.2v4.59h-40.2zM303.3 1393.5h40.2v4.59h-40.2zM303.3 1401.8h40.2v4.59h-40.2zM303.3 1414.2h40.2v8.73h-40.2zM303.3 1468.0h40.2v4.59h-40.2zM303.3 1484.6h40.2v4.59h-40.2zM303.3 1492.8h40.2v8.73h-40.2zM303.3 1517.7h40.2v4.59h-40.2zM303.3 1559.0h40.2v4.59h-40.2zM303.3 1583.9h40.2v8.73h-40.2zM303.3 1770.1h40.2v4.59h-40.2zM303.3 1782.5h40.2v4.59h-40.2zM303.3 1794.9h40.2v4.59h-40.2zM303.3 1803.2h40.2v4.59h-40.2zM343.5 830.8h40.2v4.59h-40.2zM343.5 839.1h40.2v4.59h-40.2zM343.5 859.8h40.2v4.59h-40.2zM343.5 917.7h40.2v4.59h-40.2zM343.5 934.3h40.2v12.86h-40.2zM343.5 959.1h40.2v4.59h-40.2zM343.5 988.1h40.2v8.73h-40.2zM343.5 1012.9h40.2v8.73h-40.2zM343.5 1025.3h40.2v4.59h-40.2zM343.5 1041.8h40.2v4.59h-40.2zM343.5 1083.2h40.2v4.59h-40.2zM343.5 1112.2h40.2v4.59h-40.2zM343.5 1124.6h40.2v8.73h-40.2zM343.5 1186.7h40.2v17.00h-40.2zM343.5 1223.9h40.2v12.86h-40.2zM343.5 1244.6h40.2v4.59h-40.2zM343.5 1257.0h40.2v4.59h-40.2zM343.5 1269.4h40.2v8.73h-40.2zM343.5 1281.8h40.2v4.59h-40.2zM343.5 1314.9h40.2v4.59h-40.2zM343.5 1360.4h40.2v4.59h-40.2zM343.5 1385.3h40.2v4.59h-40.2zM343.5 1426.6h40.2v4.59h-40.2zM343.5 1434.9h40.2v4.59h-40.2zM343.5 1488.7h40.2v4.59h-40.2zM343.5 1534.2h40.2v4.59h-40.2zM343.5 1559.0h40.2v4.59h-40.2zM343.5 1579.7h40.2v4.59h-40.2zM343.5 1596.3h40.2v4.59h-40.2zM343.5 1832.1h40.2v4.59h-40.2zM343.5 1840.4h40.2v4.59h-40.2zM343.5 1927.3h40.2v4.59h-40.2zM383.6 942.5h40.2v8.73h-40.2zM383.6 996.3h40.2v8.73h-40.2zM383.6 1025.3h40.2v4.59h-40.2zM383.6 1054.3h40.2v4.59h-40.2zM383.6 1108.0h40.2v4.59h-40.2zM383.6 1120.5h40.2v4.59h-40.2zM383.6 1128.7h40.2v4.59h-40.2zM383.6 1182.5h40.2v4.59h-40.2zM383.6 1252.9h40.2v8.73h-40.2zM383.6 1310.8h40.2v4.59h-40.2zM383.6 1331.5h40.2v8.73h-40.2zM383.6 1406.0h40.2v4.59h-40.2zM383.6 1422.5h40.2v8.73h-40.2zM383.6 1447.3h40.2v4.59h-40.2zM383.6 1455.6h40.2v4.59h-40.2zM383.6 1488.7h40.2v4.59h-40.2zM383.6 1497.0h40.2v4.59h-40.2zM383.6 1517.7h40.2v4.59h-40.2zM383.6 1546.6h40.2v4.59h-40.2zM383.6 1554.9h40.2v4.59h-40.2zM383.6 1571.5h40.2v4.59h-40.2zM383.6 1596.3h40.2v4.59h-40.2zM383.6 1621.1h40.2v4.59h-40.2zM383.6 1633.5h40.2v4.59h-40.2zM383.6 1645.9h40.2v4.59h-40.2zM383.6 1658.3h40.2v4.59h-40.2zM383.6 1666.6h40.2v4.59h-40.2zM383.6 1679.0h40.2v4.59h-40.2zM383.6 1712.1h40.2v8.73h-40.2zM383.6 1757.6h40.2v8.73h-40.2zM383.6 1819.7h40.2v4.59h-40.2zM383.6 1840.4h40.2v4.59h-40.2zM383.6 1877.6h40.2v4.59h-40.2zM383.6 1898.3h40.2v4.59h-40.2zM383.6 1906.6h40.2v4.59h-40.2zM383.6 1927.3h40.2v8.73h-40.2zM383.6 1948.0h40.2v4.59h-40.2zM423.8 789.5h40.2v4.59h-40.2zM423.8 926.0h40.2v8.73h-40.2zM423.8 946.7h40.2v4.59h-40.2zM423.8 959.1h40.2v4.59h-40.2zM423.8 971.5h40.2v12.86h-40.2zM423.8 1037.7h40.2v4.59h-40.2zM423.8 1054.3h40.2v4.59h-40.2zM423.8 1132.9h40.2v4.59h-40.2zM423.8 1207.3h40.2v4.59h-40.2zM423.8 1215.6h40.2v4.59h-40.2zM423.8 1310.8h40.2v8.73h-40.2zM423.8 1385.3h40.2v4.59h-40.2zM423.8 1484.6h40.2v4.59h-40.2zM423.8 1492.8h40.2v4.59h-40.2zM423.8 1509.4h40.2v4.59h-40.2zM423.8 1517.7h40.2v4.59h-40.2zM423.8 1534.2h40.2v4.59h-40.2zM423.8 1542.5h40.2v4.59h-40.2zM423.8 1567.3h40.2v4.59h-40.2zM423.8 1588.0h40.2v4.59h-40.2zM423.8 1604.6h40.2v8.73h-40.2zM423.8 1629.4h40.2v4.59h-40.2zM423.8 1654.2h40.2v4.59h-40.2zM423.8 1662.5h40.2v8.73h-40.2zM423.8 1674.9h40.2v4.59h-40.2zM423.8 1687.3h40.2v4.59h-40.2zM423.8 1712.1h40.2v4.59h-40.2zM423.8 1745.2h40.2v4.59h-40.2zM423.8 1765.9h40.2v8.73h-40.2zM423.8 1778.3h40.2v4.59h-40.2zM423.8 1815.6h40.2v8.73h-40.2zM423.8 1840.4h40.2v4.59h-40.2zM423.8 1856.9h40.2v4.59h-40.2zM423.8 1873.5h40.2v4.59h-40.2zM423.8 1881.8h40.2v4.59h-40.2zM423.8 1894.2h40.2v8.73h-40.2zM423.8 1906.6h40.2v8.73h-40.2zM423.8 1923.1h40.2v12.86h-40.2zM423.8 1960.4h40.2v4.59h-40.2zM423.8 1968.7h40.2v4.59h-40.2zM464.0 901.2h40.2v4.59h-40.2zM464.0 1017.0h40.2v8.73h-40.2zM464.0 1186.7h40.2v4.59h-40.2zM464.0 1194.9h40.2v8.73h-40.2zM464.0 1207.3h40.2v4.59h-40.2zM464.0 1261.1h40.2v4.59h-40.2zM464.0 1273.5h40.2v4.59h-40.2zM464.0 1302.5h40.2v4.59h-40.2zM464.0 1335.6h40.2v4.59h-40.2zM464.0 1348.0h40.2v4.59h-40.2zM464.0 1360.4h40.2v8.73h-40.2zM464.0 1372.8h40.2v4.59h-40.2zM464.0 1401.8h40.2v4.59h-40.2zM464.0 1418.4h40.2v4.59h-40.2zM464.0 1468.0h40.2v8.73h-40.2zM464.0 1488.7h40.2v12.86h-40.2zM464.0 1521.8h40.2v8.73h-40.2zM464.0 1546.6h40.2v4.59h-40.2zM464.0 1554.9h40.2v4.59h-40.2zM464.0 1563.2h40.2v4.59h-40.2zM464.0 1575.6h40.2v4.59h-40.2zM464.0 1683.2h40.2v4.59h-40.2zM464.0 1761.8h40.2v4.59h-40.2zM464.0 1844.5h40.2v4.59h-40.2zM464.0 1865.2h40.2v4.59h-40.2zM464.0 1910.7h40.2v8.73h-40.2zM464.0 1952.1h40.2v4.59h-40.2zM504.2 789.5h40.2v4.59h-40.2zM504.2 847.4h40.2v4.59h-40.2zM504.2 1219.8h40.2v4.59h-40.2zM504.2 1228.0h40.2v4.59h-40.2zM504.2 1252.9h40.2v4.59h-40.2zM504.2 1364.6h40.2v4.59h-40.2zM504.2 1426.6h40.2v8.73h-40.2zM504.2 1451.5h40.2v4.59h-40.2zM504.2 1476.3h40.2v8.73h-40.2zM504.2 1521.8h40.2v4.59h-40.2zM504.2 1873.5h40.2v4.59h-40.2zM544.4 1174.2h40.2v4.59h-40.2zM544.4 1182.5h40.2v4.59h-40.2zM544.4 1236.3h40.2v4.59h-40.2zM544.4 1269.4h40.2v4.59h-40.2zM544.4 1281.8h40.2v4.59h-40.2zM544.4 1302.5h40.2v8.73h-40.2zM544.4 1319.1h40.2v4.59h-40.2zM544.4 1372.8h40.2v4.59h-40.2zM544.4 1393.5h40.2v4.59h-40.2zM544.4 1410.1h40.2v4.59h-40.2zM544.4 1439.1h40.2v4.59h-40.2zM544.4 1451.5h40.2v4.59h-40.2zM544.4 1459.7h40.2v4.59h-40.2zM544.4 1501.1h40.2v12.86h-40.2zM544.4 1753.5h40.2v4.59h-40.2zM544.4 1828.0h40.2v4.59h-40.2zM544.4 1836.3h40.2v8.73h-40.2zM544.4 1869.4h40.2v4.59h-40.2zM544.4 1960.4h40.2v4.59h-40.2zM584.5 868.1h40.2v8.73h-40.2zM584.5 880.5h40.2v4.59h-40.2zM584.5 892.9h40.2v4.59h-40.2zM584.5 934.3h40.2v4.59h-40.2zM584.5 1041.8h40.2v4.59h-40.2zM584.5 1141.1h40.2v4.59h-40.2zM584.5 1182.5h40.2v8.73h-40.2zM584.5 1194.9h40.2v4.59h-40.2zM584.5 1215.6h40.2v4.59h-40.2zM584.5 1377.0h40.2v4.59h-40.2zM584.5 1401.8h40.2v4.59h-40.2zM584.5 1410.1h40.2v4.59h-40.2zM584.5 1434.9h40.2v12.86h-40.2zM584.5 1484.6h40.2v8.73h-40.2zM584.5 1505.3h40.2v8.73h-40.2zM584.5 1525.9h40.2v17.00h-40.2zM584.5 1546.6h40.2v4.59h-40.2zM584.5 1554.9h40.2v12.86h-40.2zM584.5 1670.8h40.2v4.59h-40.2zM584.5 1699.7h40.2v4.59h-40.2zM584.5 1728.7h40.2v4.59h-40.2zM584.5 1799.0h40.2v4.59h-40.2zM584.5 1881.8h40.2v4.59h-40.2zM584.5 1910.7h40.2v4.59h-40.2zM584.5 1931.4h40.2v4.59h-40.2zM624.7 801.9h40.2v4.59h-40.2zM624.7 901.2h40.2v4.59h-40.2zM624.7 983.9h40.2v4.59h-40.2zM624.7 1050.1h40.2v4.59h-40.2zM624.7 1087.4h40.2v4.59h-40.2zM624.7 1621.1h40.2v4.59h-40.2zM624.7 1720.4h40.2v8.73h-40.2zM624.7 1761.8h40.2v4.59h-40.2zM624.7 1770.1h40.2v4.59h-40.2zM624.7 1799.0h40.2v4.59h-40.2zM624.7 1807.3h40.2v4.59h-40.2zM624.7 1819.7h40.2v8.73h-40.2zM624.7 1836.3h40.2v4.59h-40.2zM624.7 1844.5h40.2v8.73h-40.2zM624.7 1869.4h40.2v4.59h-40.2zM624.7 1898.3h40.2v4.59h-40.2zM624.7 1906.6h40.2v4.59h-40.2zM624.7 1923.1h40.2v8.73h-40.2zM624.7 1968.7h40.2v4.59h-40.2zM624.7 1976.9h40.2v4.59h-40.2zM664.9 789.5h40.2v8.73h-40.2zM664.9 863.9h40.2v4.59h-40.2zM664.9 913.6h40.2v4.59h-40.2zM664.9 1252.9h40.2v4.59h-40.2zM664.9 1596.3h40.2v8.73h-40.2zM664.9 1679.0h40.2v4.59h-40.2zM664.9 1716.3h40.2v8.73h-40.2zM664.9 1728.7h40.2v8.73h-40.2zM664.9 1770.1h40.2v4.59h-40.2zM664.9 1794.9h40.2v4.59h-40.2zM664.9 1894.2h40.2v4.59h-40.2zM664.9 1948.0h40.2v4.59h-40.2zM664.9 1964.5h40.2v4.59h-40.2zM705.0 814.3h40.2v4.59h-40.2zM705.0 1091.5h40.2v4.59h-40.2zM705.0 1103.9h40.2v4.59h-40.2zM705.0 1596.3h40.2v12.86h-40.2zM705.0 1621.1h40.2v12.86h-40.2zM705.0 1637.7h40.2v4.59h-40.2zM705.0 1679.0h40.2v4.59h-40.2zM705.0 1699.7h40.2v4.59h-40.2zM705.0 1745.2h40.2v4.59h-40.2zM705.0 1753.5h40.2v4.59h-40.2zM705.0 1803.2h40.2v4.59h-40.2zM705.0 1848.7h40.2v8.73h-40.2zM705.0 1869.4h40.2v4.59h-40.2zM705.0 1881.8h40.2v4.59h-40.2zM705.0 1890.0h40.2v4.59h-40.2zM705.0 1948.0h40.2v4.59h-40.2zM705.0 1960.4h40.2v4.59h-40.2zM705.0 1976.9h40.2v4.59h-40.2zM745.2 797.7h40.2v8.73h-40.2zM745.2 814.3h40.2v4.59h-40.2zM745.2 884.6h40.2v4.59h-40.2zM745.2 917.7h40.2v8.73h-40.2zM745.2 938.4h40.2v4.59h-40.2zM745.2 1612.8h40.2v4.59h-40.2zM745.2 1654.2h40.2v4.59h-40.2zM745.2 1662.5h40.2v4.59h-40.2zM745.2 1712.1h40.2v4.59h-40.2zM745.2 1803.2h40.2v4.59h-40.2zM745.2 1811.4h40.2v4.59h-40.2zM745.2 1898.3h40.2v8.73h-40.2zM745.2 1948.0h40.2v4.59h-40.2zM745.2 1972.8h40.2v8.73h-40.2z"/>
<path fill="#fff3d6" d="M142.6 1463.9h40.2v4.59h-40.2zM142.6 1832.1h40.2v8.73h-40.2zM142.6 1848.7h40.2v8.73h-40.2zM182.8 967.4h40.2v4.59h-40.2zM182.8 975.6h40.2v4.59h-40.2zM182.8 1004.6h40.2v4.59h-40.2zM182.8 1186.7h40.2v8.73h-40.2zM182.8 1290.1h40.2v4.59h-40.2zM182.8 1302.5h40.2v4.59h-40.2zM182.8 1314.9h40.2v4.59h-40.2zM182.8 1434.9h40.2v4.59h-40.2zM182.8 1455.6h40.2v4.59h-40.2zM182.8 1604.6h40.2v8.73h-40.2zM182.8 1948.0h40.2v4.59h-40.2zM222.9 855.7h40.2v4.59h-40.2zM222.9 934.3h40.2v4.59h-40.2zM222.9 955.0h40.2v8.73h-40.2zM222.9 983.9h40.2v4.59h-40.2zM222.9 1079.1h40.2v4.59h-40.2zM222.9 1124.6h40.2v4.59h-40.2zM222.9 1149.4h40.2v4.59h-40.2zM222.9 1215.6h40.2v4.59h-40.2zM222.9 1244.6h40.2v4.59h-40.2zM222.9 1269.4h40.2v4.59h-40.2zM222.9 1277.7h40.2v4.59h-40.2zM222.9 1294.2h40.2v4.59h-40.2zM222.9 1339.7h40.2v4.59h-40.2zM222.9 1418.4h40.2v4.59h-40.2zM222.9 1426.6h40.2v4.59h-40.2zM222.9 1434.9h40.2v4.59h-40.2zM222.9 1443.2h40.2v4.59h-40.2zM222.9 1513.5h40.2v4.59h-40.2zM222.9 1525.9h40.2v4.59h-40.2zM222.9 1534.2h40.2v8.73h-40.2zM222.9 1563.2h40.2v4.59h-40.2zM222.9 1588.0h40.2v4.59h-40.2zM222.9 1600.4h40.2v4.59h-40.2zM222.9 1629.4h40.2v4.59h-40.2zM222.9 1691.4h40.2v4.59h-40.2zM222.9 1703.9h40.2v4.59h-40.2zM222.9 1732.8h40.2v4.59h-40.2zM222.9 1753.5h40.2v8.73h-40.2zM222.9 1770.1h40.2v8.73h-40.2zM222.9 1811.4h40.2v8.73h-40.2zM222.9 1881.8h40.2v4.59h-40.2zM263.1 863.9h40.2v4.59h-40.2zM263.1 897.0h40.2v4.59h-40.2zM263.1 979.8h40.2v8.73h-40.2zM263.1 1029.4h40.2v4.59h-40.2zM263.1 1099.8h40.2v4.59h-40.2zM263.1 1153.6h40.2v4.59h-40.2zM263.1 1170.1h40.2v4.59h-40.2zM263.1 1178.4h40.2v4.59h-40.2zM263.1 1194.9h40.2v4.59h-40.2zM263.1 1207.3h40.2v4.59h-40.2zM263.1 1343.9h40.2v4.59h-40.2zM263.1 1389.4h40.2v4.59h-40.2zM263.1 1426.6h40.2v4.59h-40.2zM263.1 1468.0h40.2v8.73h-40.2zM263.1 1501.1h40.2v4.59h-40.2zM263.1 1534.2h40.2v4.59h-40.2zM263.1 1554.9h40.2v4.59h-40.2zM263.1 1571.5h40.2v4.59h-40.2zM263.1 1608.7h40.2v4.59h-40.2zM263.1 1617.0h40.2v4.59h-40.2zM263.1 1637.7h40.2v8.73h-40.2zM263.1 1691.4h40.2v4.59h-40.2zM263.1 1765.9h40.2v4.59h-40.2zM263.1 1782.5h40.2v4.59h-40.2zM263.1 1794.9h40.2v4.59h-40.2zM263.1 1823.8h40.2v8.73h-40.2zM263.1 1852.8h40.2v8.73h-40.2zM263.1 1881.8h40.2v4.59h-40.2zM263.1 1906.6h40.2v4.59h-40.2zM263.1 1914.9h40.2v4.59h-40.2zM263.1 1943.8h40.2v4.59h-40.2zM263.1 1981.1h40.2v4.59h-40.2zM303.3 801.9h40.2v4.59h-40.2zM303.3 839.1h40.2v4.59h-40.2zM303.3 926.0h40.2v4.59h-40.2zM303.3 942.5h40.2v8.73h-40.2zM303.3 1099.8h40.2v4.59h-40.2zM303.3 1116.3h40.2v4.59h-40.2zM303.3 1128.7h40.2v4.59h-40.2zM303.3 1141.1h40.2v4.59h-40.2zM303.3 1149.4h40.2v8.73h-40.2zM303.3 1161.8h40.2v4.59h-40.2zM303.3 1170.1h40.2v12.86h-40.2zM303.3 1199.1h40.2v8.73h-40.2zM303.3 1240.4h40.2v4.59h-40.2zM303.3 1248.7h40.2v4.59h-40.2zM303.3 1269.4h40.2v4.59h-40.2zM303.3 1298.4h40.2v4.59h-40.2zM303.3 1335.6h40.2v4.59h-40.2zM303.3 1356.3h40.2v4.59h-40.2zM303.3 1406.0h40.2v4.59h-40.2zM303.3 1426.6h40.2v8.73h-40.2zM303.3 1451.5h40.2v8.73h-40.2zM303.3 1505.3h40.2v4.59h-40.2zM303.3 1525.9h40.2v4.59h-40.2zM303.3 1538.4h40.2v4.59h-40.2zM303.3 1575.6h40.2v4.59h-40.2zM303.3 1596.3h40.2v4.59h-40.2zM303.3 1670.8h40.2v4.59h-40.2zM303.3 1728.7h40.2v4.59h-40.2zM303.3 1741.1h40.2v4.59h-40.2zM303.3 1753.5h40.2v8.73h-40.2zM303.3 1765.9h40.2v4.59h-40.2zM303.3 1786.6h40.2v4.59h-40.2zM303.3 1823.8h40.2v4.59h-40.2zM303.3 1844.5h40.2v4.59h-40.2zM303.3 1865.2h40.2v4.59h-40.2zM303.3 1943.8h40.2v4.59h-40.2zM303.3 1985.2h40.2v4.59h-40.2zM343.5 843.2h40.2v4.59h-40.2zM343.5 909.4h40.2v8.73h-40.2zM343.5 963.2h40.2v4.59h-40.2zM343.5 975.6h40.2v4.59h-40.2zM343.5 1021.2h40.2v4.59h-40.2zM343.5 1074.9h40.2v8.73h-40.2zM343.5 1087.4h40.2v4.59h-40.2zM343.5 1095.6h40.2v8.73h-40.2zM343.5 1137.0h40.2v8.73h-40.2zM343.5 1261.1h40.2v4.59h-40.2zM343.5 1277.7h40.2v4.59h-40.2zM343.5 1331.5h40.2v4.59h-40.2zM343.5 1339.7h40.2v8.73h-40.2zM343.5 1352.2h40.2v8.73h-40.2zM343.5 1389.4h40.2v4.59h-40.2zM343.5 1397.7h40.2v4.59h-40.2zM343.5 1406.0h40.2v4.59h-40.2zM343.5 1414.2h40.2v4.59h-40.2zM343.5 1455.6h40.2v8.73h-40.2zM343.5 1468.0h40.2v4.59h-40.2zM343.5 1492.8h40.2v4.59h-40.2zM343.5 1505.3h40.2v4.59h-40.2zM343.5 1819.7h40.2v4.59h-40.2zM343.5 1869.4h40.2v4.59h-40.2zM343.5 1948.0h40.2v4.59h-40.2zM343.5 1968.7h40.2v8.73h-40.2zM383.6 806.0h40.2v4.59h-40.2zM383.6 888.8h40.2v4.59h-40.2zM383.6 930.1h40.2v4.59h-40.2zM383.6 950.8h40.2v4.59h-40.2zM383.6 983.9h40.2v8.73h-40.2zM383.6 1012.9h40.2v4.59h-40.2zM383.6 1021.2h40.2v4.59h-40.2zM383.6 1050.1h40.2v4.59h-40.2zM383.6 1070.8h40.2v4.59h-40.2zM383.6 1145.3h40.2v4.59h-40.2zM383.6 1166.0h40.2v4.59h-40.2zM383.6 1219.8h40.2v4.59h-40.2zM383.6 1232.2h40.2v8.73h-40.2zM383.6 1261.1h40.2v12.86h-40.2zM383.6 1286.0h40.2v4.59h-40.2zM383.6 1294.2h40.2v4.59h-40.2zM383.6 1314.9h40.2v4.59h-40.2zM383.6 1401.8h40.2v4.59h-40.2zM383.6 1439.1h40.2v4.59h-40.2zM383.6 1629.4h40.2v4.59h-40.2zM383.6 1683.2h40.2v8.73h-40.2zM383.6 1724.5h40.2v8.73h-40.2zM383.6 1737.0h40.2v4.59h-40.2zM383.6 1774.2h40.2v8.73h-40.2zM383.6 1832.1h40.2v4.59h-40.2zM383.6 1881.8h40.2v17.00h-40.2zM383.6 1902.5h40.2v4.59h-40.2zM383.6 1910.7h40.2v4.59h-40.2zM383.6 1968.7h40.2v4.59h-40.2zM383.6 1981.1h40.2v8.73h-40.2zM423.8 797.7h40.2v4.59h-40.2zM423.8 942.5h40.2v4.59h-40.2zM423.8 963.2h40.2v8.73h-40.2zM423.8 996.3h40.2v4.59h-40.2zM423.8 1004.6h40.2v4.59h-40.2zM423.8 1017.0h40.2v4.59h-40.2zM423.8 1099.8h40.2v4.59h-40.2zM423.8 1112.2h40.2v4.59h-40.2zM423.8 1137.0h40.2v4.59h-40.2zM423.8 1281.8h40.2v4.59h-40.2zM423.8 1302.5h40.2v4.59h-40.2zM423.8 1360.4h40.2v4.59h-40.2zM423.8 1389.4h40.2v4.59h-40.2zM423.8 1422.5h40.2v8.73h-40.2zM423.8 1459.7h40.2v4.59h-40.2zM423.8 1476.3h40.2v8.73h-40.2zM423.8 1488.7h40.2v4.59h-40.2zM423.8 1505.3h40.2v4.59h-40.2zM423.8 1513.5h40.2v4.59h-40.2zM423.8 1525.9h40.2v8.73h-40.2zM423.8 1538.4h40.2v4.59h-40.2zM423.8 1559.0h40.2v8.73h-40.2zM423.8 1571.5h40.2v4.59h-40.2zM423.8 1579.7h40.2v4.59h-40.2zM423.8 1621.1h40.2v4.59h-40.2zM423.8 1650.1h40.2v4.59h-40.2zM423.8 1708.0h40.2v4.59h-40.2zM423.8 1716.3h40.2v4.59h-40.2zM423.8 1732.8h40.2v4.59h-40.2zM423.8 1757.6h40.2v8.73h-40.2zM423.8 1782.5h40.2v8.73h-40.2zM423.8 1828.0h40.2v4.59h-40.2zM423.8 1844.5h40.2v4.59h-40.2zM423.8 1890.0h40.2v4.59h-40.2zM423.8 1914.9h40.2v4.59h-40.2zM423.8 1956.2h40.2v4.59h-40.2zM423.8 1964.5h40.2v4.59h-40.2zM464.0 888.8h40.2v8.73h-40.2zM464.0 913.6h40.2v4.59h-40.2zM464.0 955.0h40.2v4.59h-40.2zM464.0 992.2h40.2v4.59h-40.2zM464.0 1190.8h40.2v4.59h-40.2zM464.0 1211.5h40.2v4.59h-40.2zM464.0 1240.4h40.2v4.59h-40.2zM464.0 1269.4h40.2v4.59h-40.2zM464.0 1277.7h40.2v4.59h-40.2zM464.0 1314.9h40.2v4.59h-40.2zM464.0 1323.2h40.2v4.59h-40.2zM464.0 1331.5h40.2v4.59h-40.2zM464.0 1368.7h40.2v4.59h-40.2zM464.0 1377.0h40.2v4.59h-40.2zM464.0 1414.2h40.2v4.59h-40.2zM464.0 1422.5h40.2v8.73h-40.2zM464.0 1439.1h40.2v4.59h-40.2zM464.0 1447.3h40.2v8.73h-40.2zM464.0 1501.1h40.2v4.59h-40.2zM464.0 1509.4h40.2v4.59h-40.2zM464.0 1517.7h40.2v4.59h-40.2zM464.0 1559.0h40.2v4.59h-40.2zM464.0 1567.3h40.2v8.73h-40.2zM464.0 1583.9h40.2v4.59h-40.2zM464.0 1658.3h40.2v4.59h-40.2zM464.0 1679.0h40.2v4.59h-40.2zM464.0 1695.6h40.2v4.59h-40.2zM464.0 1720.4h40.2v4.59h-40.2zM464.0 1790.7h40.2v4.59h-40.2zM464.0 1902.5h40.2v8.73h-40.2zM504.2 1161.8h40.2v4.59h-40.2zM504.2 1207.3h40.2v4.59h-40.2zM504.2 1232.2h40.2v8.73h-40.2zM504.2 1244.6h40.2v8.73h-40.2zM504.2 1261.1h40.2v8.73h-40.2zM504.2 1277.7h40.2v4.59h-40.2zM504.2 1294.2h40.2v12.86h-40.2zM504.2 1343.9h40.2v4.59h-40.2zM504.2 1368.7h40.2v4.59h-40.2zM504.2 1418.4h40.2v4.59h-40.2zM504.2 1434.9h40.2v4.59h-40.2zM504.2 1525.9h40.2v4.59h-40.2zM504.2 1538.4h40.2v4.59h-40.2zM504.2 1575.6h40.2v8.73h-40.2zM544.4 1178.4h40.2v4.59h-40.2zM544.4 1194.9h40.2v4.59h-40.2zM544.4 1211.5h40.2v4.59h-40.2zM544.4 1219.8h40.2v4.59h-40.2zM544.4 1240.4h40.2v4.59h-40.2zM544.4 1273.5h40.2v8.73h-40.2zM544.4 1286.0h40.2v17.00h-40.2zM544.4 1323.2h40.2v4.59h-40.2zM544.4 1368.7h40.2v4.59h-40.2zM544.4 1381.1h40.2v8.73h-40.2zM544.4 1397.7h40.2v4.59h-40.2zM544.4 1406.0h40.2v4.59h-40.2zM544.4 1422.5h40.2v8.73h-40.2zM544.4 1455.6h40.2v4.59h-40.2zM544.4 1484.6h40.2v8.73h-40.2zM544.4 1513.5h40.2v4.59h-40.2zM544.4 1538.4h40.2v4.59h-40.2zM544.4 1554.9h40.2v4.59h-40.2zM544.4 1612.8h40.2v4.59h-40.2zM544.4 1637.7h40.2v4.59h-40.2zM544.4 1757.6h40.2v4.59h-40.2zM544.4 1778.3h40.2v17.00h-40.2zM544.4 1819.7h40.2v4.59h-40.2zM544.4 1848.7h40.2v4.59h-40.2zM544.4 1856.9h40.2v8.73h-40.2zM544.4 1873.5h40.2v4.59h-40.2zM584.5 859.8h40.2v4.59h-40.2zM584.5 884.6h40.2v8.73h-40.2zM584.5 1021.2h40.2v8.73h-40.2zM584.5 1033.6h40.2v4.59h-40.2zM584.5 1157.7h40.2v4.59h-40.2zM584.5 1372.8h40.2v4.59h-40.2zM584.5 1389.4h40.2v4.59h-40.2zM584.5 1397.7h40.2v4.59h-40.2zM584.5 1455.6h40.2v8.73h-40.2zM584.5 1501.1h40.2v4.59h-40.2zM584.5 1571.5h40.2v8.73h-40.2zM584.5 1691.4h40.2v4.59h-40.2zM584.5 1720.4h40.2v4.59h-40.2zM584.5 1770.1h40.2v4.59h-40.2zM584.5 1790.7h40.2v4.59h-40.2zM584.5 1819.7h40.2v4.59h-40.2zM584.5 1828.0h40.2v4.59h-40.2zM584.5 1840.4h40.2v4.59h-40.2zM584.5 1865.2h40.2v4.59h-40.2zM584.5 1894.2h40.2v4.59h-40.2zM584.5 1902.5h40.2v4.59h-40.2zM584.5 1914.9h40.2v4.59h-40.2zM584.5 1927.3h40.2v4.59h-40.2zM584.5 1943.8h40.2v4.59h-40.2zM584.5 1952.1h40.2v4.59h-40.2zM584.5 1968.7h40.2v8.73h-40.2zM624.7 818.4h40.2v4.59h-40.2zM624.7 830.8h40.2v4.59h-40.2zM624.7 963.2h40.2v4.59h-40.2zM624.7 1021.2h40.2v4.59h-40.2zM624.7 1046.0h40.2v4.59h-40.2zM624.7 1054.3h40.2v8.73h-40.2zM624.7 1079.1h40.2v4.59h-40.2zM624.7 1120.5h40.2v8.73h-40.2zM624.7 1455.6h40.2v8.73h-40.2zM624.7 1679.0h40.2v4.59h-40.2zM624.7 1786.6h40.2v4.59h-40.2zM624.7 1803.2h40.2v4.59h-40.2zM624.7 1811.4h40.2v4.59h-40.2zM624.7 1856.9h40.2v4.59h-40.2zM624.7 1865.2h40.2v4.59h-40.2zM624.7 1972.8h40.2v4.59h-40.2zM664.9 901.2h40.2v4.59h-40.2zM664.9 1095.6h40.2v8.73h-40.2zM664.9 1257.0h40.2v4.59h-40.2zM664.9 1910.7h40.2v4.59h-40.2zM664.9 1919.0h40.2v4.59h-40.2zM664.9 1956.2h40.2v8.73h-40.2zM705.0 806.0h40.2v8.73h-40.2zM705.0 826.7h40.2v4.59h-40.2zM705.0 1095.6h40.2v4.59h-40.2zM705.0 1633.5h40.2v4.59h-40.2zM705.0 1712.1h40.2v4.59h-40.2zM705.0 1794.9h40.2v4.59h-40.2zM705.0 1856.9h40.2v8.73h-40.2zM705.0 1968.7h40.2v4.59h-40.2zM745.2 789.5h40.2v4.59h-40.2zM745.2 863.9h40.2v4.59h-40.2zM745.2 880.5h40.2v4.59h-40.2zM745.2 905.3h40.2v4.59h-40.2zM745.2 926.0h40.2v4.59h-40.2zM745.2 979.8h40.2v4.59h-40.2zM745.2 988.1h40.2v8.73h-40.2zM745.2 1608.7h40.2v4.59h-40.2zM745.2 1981.1h40.2v4.59h-40.2z"/>
<path fill="#fffce8" d="M142.6 1608.7h40.2v4.59h-40.2zM142.6 1828.0h40.2v4.59h-40.2zM142.6 1840.4h40.2v4.59h-40.2zM182.8 1017.0h40.2v8.73h-40.2zM182.8 1451.5h40.2v4.59h-40.2zM182.8 1579.7h40.2v4.59h-40.2zM182.8 1943.8h40.2v4.59h-40.2zM182.8 1952.1h40.2v4.59h-40.2zM222.9 830.8h40.2v4.59h-40.2zM222.9 859.8h40.2v4.59h-40.2zM222.9 1070.8h40.2v8.73h-40.2zM222.9 1116.3h40.2v8.73h-40.2zM222.9 1170.1h40.2v4.59h-40.2zM222.9 1240.4h40.2v4.59h-40.2zM222.9 1265.3h40.2v4.59h-40.2zM222.9 1343.9h40.2v4.59h-40.2zM222.9 1364.6h40.2v4.59h-40.2zM222.9 1497.0h40.2v4.59h-40.2zM222.9 1517.7h40.2v8.73h-40.2zM222.9 1592.1h40.2v4.59h-40.2zM222.9 1604.6h40.2v8.73h-40.2zM222.9 1658.3h40.2v4.59h-40.2zM222.9 1761.8h40.2v4.59h-40.2zM222.9 1807.3h40.2v4.59h-40.2zM222.9 1865.2h40.2v4.59h-40.2zM263.1 946.7h40.2v4.59h-40.2zM263.1 1008.7h40.2v8.73h-40.2zM263.1 1033.6h40.2v8.73h-40.2zM263.1 1248.7h40.2v12.86h-40.2zM263.1 1302.5h40.2v4.59h-40.2zM263.1 1430.8h40.2v4.59h-40.2zM263.1 1447.3h40.2v4.59h-40.2zM263.1 1463.9h40.2v4.59h-40.2zM263.1 1517.7h40.2v4.59h-40.2zM263.1 1546.6h40.2v4.59h-40.2zM263.1 1588.0h40.2v4.59h-40.2zM263.1 1596.3h40.2v4.59h-40.2zM263.1 1604.6h40.2v4.59h-40.2zM263.1 1612.8h40.2v4.59h-40.2zM263.1 1629.4h40.2v4.59h-40.2zM263.1 1645.9h40.2v4.59h-40.2zM263.1 1658.3h40.2v4.59h-40.2zM263.1 1819.7h40.2v4.59h-40.2zM263.1 1832.1h40.2v4.59h-40.2zM263.1 1848.7h40.2v4.59h-40.2zM263.1 1910.7h40.2v4.59h-40.2zM263.1 1927.3h40.2v4.59h-40.2zM303.3 859.8h40.2v4.59h-40.2zM303.3 868.1h40.2v4.59h-40.2zM303.3 921.9h40.2v4.59h-40.2zM303.3 1041.8h40.2v4.59h-40.2zM303.3 1095.6h40.2v4.59h-40.2zM303.3 1120.5h40.2v4.59h-40.2zM303.3 1157.7h40.2v4.59h-40.2zM303.3 1166.0h40.2v4.59h-40.2zM303.3 1182.5h40.2v4.59h-40.2zM303.3 1190.8h40.2v4.59h-40.2zM303.3 1314.9h40.2v4.59h-40.2zM303.3 1389.4h40.2v4.59h-40.2zM303.3 1410.1h40.2v4.59h-40.2zM303.3 1422.5h40.2v4.59h-40.2zM303.3 1439.1h40.2v4.59h-40.2zM303.3 1509.4h40.2v8.73h-40.2zM303.3 1521.8h40.2v4.59h-40.2zM303.3 1530.1h40.2v4.59h-40.2zM303.3 1542.5h40.2v4.59h-40.2zM303.3 1550.8h40.2v8.73h-40.2zM303.3 1563.2h40.2v4.59h-40.2zM303.3 1666.6h40.2v4.59h-40.2zM303.3 1674.9h40.2v4.59h-40.2zM303.3 1695.6h40.2v8.73h-40.2zM303.3 1732.8h40.2v4.59h-40.2zM303.3 1745.2h40.2v8.73h-40.2zM303.3 1761.8h40.2v4.59h-40.2zM303.3 1774.2h40.2v8.73h-40.2zM303.3 1815.6h40.2v4.59h-40.2zM303.3 1832.1h40.2v4.59h-40.2zM303.3 1840.4h40.2v4.59h-40.2zM303.3 1852.8h40.2v4.59h-40.2zM303.3 1869.4h40.2v4.59h-40.2zM303.3 1964.5h40.2v4.59h-40.2zM303.3 1976.9h40.2v8.73h-40.2zM343.5 801.9h40.2v8.73h-40.2zM343.5 905.3h40.2v4.59h-40.2zM343.5 930.1h40.2v4.59h-40.2zM343.5 1066.7h40.2v4.59h-40.2zM343.5 1207.3h40.2v4.59h-40.2zM343.5 1215.6h40.2v8.73h-40.2zM343.5 1463.9h40.2v4.59h-40.2zM343.5 1497.0h40.2v8.73h-40.2zM343.5 1550.8h40.2v4.59h-40.2zM343.5 1873.5h40.2v4.59h-40.2zM343.5 1919.0h40.2v8.73h-40.2zM343.5 1931.4h40.2v8.73h-40.2zM343.5 1943.8h40.2v4.59h-40.2zM343.5 1964.5h40.2v4.59h-40.2zM383.6 789.5h40.2v4.59h-40.2zM383.6 909.4h40.2v8.73h-40.2zM383.6 971.5h40.2v4.59h-40.2zM383.6 1062.5h40.2v4.59h-40.2zM383.6 1079.1h40.2v4.59h-40.2zM383.6 1103.9h40.2v4.59h-40.2zM383.6 1112.2h40.2v4.59h-40.2zM383.6 1137.0h40.2v4.59h-40.2zM383.6 1174.2h40.2v4.59h-40.2zM383.6 1194.9h40.2v4.59h-40.2zM383.6 1223.9h40.2v8.73h-40.2zM383.6 1240.4h40.2v8.73h-40.2zM383.6 1348.0h40.2v4.59h-40.2zM383.6 1393.5h40.2v4.59h-40.2zM383.6 1463.9h40.2v4.59h-40.2zM383.6 1625.2h40.2v4.59h-40.2zM383.6 1695.6h40.2v17.00h-40.2zM383.6 1732.8h40.2v4.59h-40.2zM383.6 1803.2h40.2v4.59h-40.2zM383.6 1836.3h40.2v4.59h-40.2zM423.8 801.9h40.2v4.59h-40.2zM423.8 835.0h40.2v8.73h-40.2zM423.8 855.7h40.2v12.86h-40.2zM423.8 955.0h40.2v4.59h-40.2zM423.8 983.9h40.2v4.59h-40.2zM423.8 1000.5h40.2v4.59h-40.2zM423.8 1012.9h40.2v4.59h-40.2zM423.8 1091.5h40.2v4.59h-40.2zM423.8 1128.7h40.2v4.59h-40.2zM423.8 1141.1h40.2v12.86h-40.2zM423.8 1194.9h40.2v4.59h-40.2zM423.8 1294.2h40.2v4.59h-40.2zM423.8 1393.5h40.2v4.59h-40.2zM423.8 1401.8h40.2v8.73h-40.2zM423.8 1418.4h40.2v4.59h-40.2zM423.8 1451.5h40.2v8.73h-40.2zM423.8 1695.6h40.2v12.86h-40.2zM423.8 1720.4h40.2v8.73h-40.2zM423.8 1832.1h40.2v4.59h-40.2zM423.8 1919.0h40.2v4.59h-40.2zM423.8 1935.6h40.2v4.59h-40.2zM464.0 851.5h40.2v4.59h-40.2zM464.0 909.4h40.2v4.59h-40.2zM464.0 917.7h40.2v4.59h-40.2zM464.0 942.5h40.2v4.59h-40.2zM464.0 983.9h40.2v4.59h-40.2zM464.0 996.3h40.2v4.59h-40.2zM464.0 1025.3h40.2v8.73h-40.2zM464.0 1141.1h40.2v4.59h-40.2zM464.0 1166.0h40.2v4.59h-40.2zM464.0 1203.2h40.2v4.59h-40.2zM464.0 1294.2h40.2v4.59h-40.2zM464.0 1339.7h40.2v4.59h-40.2zM464.0 1385.3h40.2v4.59h-40.2zM464.0 1393.5h40.2v8.73h-40.2zM464.0 1406.0h40.2v4.59h-40.2zM464.0 1434.9h40.2v4.59h-40.2zM464.0 1505.3h40.2v4.59h-40.2zM464.0 1588.0h40.2v4.59h-40.2zM504.2 793.6h40.2v4.59h-40.2zM504.2 1174.2h40.2v4.59h-40.2zM504.2 1211.5h40.2v4.59h-40.2zM504.2 1223.9h40.2v4.59h-40.2zM504.2 1240.4h40.2v4.59h-40.2zM504.2 1257.0h40.2v4.59h-40.2zM504.2 1269.4h40.2v4.59h-40.2zM504.2 1281.8h40.2v4.59h-40.2zM504.2 1290.1h40.2v4.59h-40.2zM504.2 1306.6h40.2v8.73h-40.2zM504.2 1327.3h40.2v4.59h-40.2zM504.2 1339.7h40.2v4.59h-40.2zM504.2 1348.0h40.2v12.86h-40.2zM504.2 1410.1h40.2v4.59h-40.2zM504.2 1588.0h40.2v4.59h-40.2zM544.4 806.0h40.2v8.73h-40.2zM544.4 822.6h40.2v8.73h-40.2zM544.4 1087.4h40.2v4.59h-40.2zM544.4 1137.0h40.2v4.59h-40.2zM544.4 1170.1h40.2v4.59h-40.2zM544.4 1186.7h40.2v4.59h-40.2zM544.4 1215.6h40.2v4.59h-40.2zM544.4 1244.6h40.2v12.86h-40.2zM544.4 1377.0h40.2v4.59h-40.2zM544.4 1401.8h40.2v4.59h-40.2zM544.4 1430.8h40.2v4.59h-40.2zM544.4 1447.3h40.2v4.59h-40.2zM544.4 1492.8h40.2v4.59h-40.2zM544.4 1525.9h40.2v8.73h-40.2zM544.4 1542.5h40.2v8.73h-40.2zM544.4 1567.3h40.2v4.59h-40.2zM544.4 1608.7h40.2v4.59h-40.2zM544.4 1621.1h40.2v4.59h-40.2zM544.4 1633.5h40.2v4.59h-40.2zM544.4 1737.0h40.2v4.59h-40.2zM544.4 1749.4h40.2v4.59h-40.2zM544.4 1761.8h40.2v4.59h-40.2zM544.4 1815.6h40.2v4.59h-40.2zM544.4 1823.8h40.2v4.59h-40.2zM584.5 926.0h40.2v4.59h-40.2zM584.5 1029.4h40.2v4.59h-40.2zM584.5 1074.9h40.2v4.59h-40.2zM584.5 1083.2h40.2v8.73h-40.2zM584.5 1120.5h40.2v4.59h-40.2zM584.5 1137.0h40.2v4.59h-40.2zM584.5 1145.3h40.2v4.59h-40.2zM584.5 1190.8h40.2v4.59h-40.2zM584.5 1277.7h40.2v4.59h-40.2zM584.5 1298.4h40.2v4.59h-40.2zM584.5 1476.3h40.2v4.59h-40.2zM584.5 1521.8h40.2v4.59h-40.2zM584.5 1567.3h40.2v4.59h-40.2zM584.5 1579.7h40.2v4.59h-40.2zM584.5 1625.2h40.2v4.59h-40.2zM584.5 1645.9h40.2v8.73h-40.2zM584.5 1662.5h40.2v4.59h-40.2zM584.5 1687.3h40.2v4.59h-40.2zM584.5 1695.6h40.2v4.59h-40.2zM584.5 1703.9h40.2v4.59h-40.2zM584.5 1786.6h40.2v4.59h-40.2zM584.5 1815.6h40.2v4.59h-40.2zM584.5 1836.3h40.2v4.59h-40.2zM584.5 1844.5h40.2v4.59h-40.2zM584.5 1856.9h40.2v4.59h-40.2zM584.5 1885.9h40.2v4.59h-40.2zM584.5 1919.0h40.2v4.59h-40.2zM584.5 1939.7h40.2v4.59h-40.2zM584.5 1948.0h40.2v4.59h-40.2zM584.5 1956.2h40.2v4.59h-40.2zM584.5 1964.5h40.2v4.59h-40.2zM584.5 1976.9h40.2v8.73h-40.2zM624.7 822.6h40.2v4.59h-40.2zM624.7 884.6h40.2v4.59h-40.2zM624.7 905.3h40.2v8.73h-40.2zM624.7 1033.6h40.2v4.59h-40.2zM624.7 1062.5h40.2v4.59h-40.2zM624.7 1074.9h40.2v4.59h-40.2zM624.7 1132.9h40.2v4.59h-40.2zM624.7 1149.4h40.2v4.59h-40.2zM624.7 1314.9h40.2v4.59h-40.2zM624.7 1323.2h40.2v4.59h-40.2zM624.7 1389.4h40.2v4.59h-40.2zM624.7 1418.4h40.2v4.59h-40.2zM624.7 1426.6h40.2v4.59h-40.2zM624.7 1439.1h40.2v4.59h-40.2zM624.7 1447.3h40.2v8.73h-40.2zM624.7 1472.2h40.2v4.59h-40.2zM624.7 1554.9h40.2v4.59h-40.2zM624.7 1674.9h40.2v4.59h-40.2zM624.7 1691.4h40.2v4.59h-40.2zM624.7 1699.7h40.2v8.73h-40.2zM624.7 1749.4h40.2v4.59h-40.2zM624.7 1778.3h40.2v8.73h-40.2zM624.7 1794.9h40.2v4.59h-40.2zM624.7 1861.1h40.2v4.59h-40.2zM624.7 1902.5h40.2v4.59h-40.2zM624.7 1910.7h40.2v4.59h-40.2zM624.7 1919.0h40.2v4.59h-40.2zM624.7 1952.1h40.2v8.73h-40.2zM624.7 1964.5h40.2v4.59h-40.2zM624.7 1985.2h40.2v4.59h-40.2zM664.9 797.7h40.2v4.59h-40.2zM664.9 826.7h40.2v4.59h-40.2zM664.9 859.8h40.2v4.59h-40.2zM664.9 884.6h40.2v8.73h-40.2zM664.9 1877.6h40.2v4.59h-40.2zM705.0 818.4h40.2v4.59h-40.2zM705.0 1099.8h40.2v4.59h-40.2zM705.0 1811.4h40.2v4.59h-40.2zM745.2 868.1h40.2v4.59h-40.2zM745.2 876.3h40.2v4.59h-40.2zM745.2 909.4h40.2v4.59h-40.2zM745.2 983.9h40.2v4.59h-40.2zM745.2 1004.6h40.2v4.59h-40.2z"/>
<path fill="#f3edec" d="M142.6 1604.6h40.2v4.59h-40.2zM142.6 1811.4h40.2v4.59h-40.2zM142.6 1819.7h40.2v8.73h-40.2zM182.8 839.1h40.2v4.59h-40.2zM182.8 1600.4h40.2v4.59h-40.2zM182.8 1865.2h40.2v4.59h-40.2zM222.9 847.4h40.2v4.59h-40.2zM222.9 1203.2h40.2v4.59h-40.2zM222.9 1348.0h40.2v4.59h-40.2zM222.9 1385.3h40.2v4.59h-40.2zM222.9 1509.4h40.2v4.59h-40.2zM222.9 1571.5h40.2v4.59h-40.2zM222.9 1596.3h40.2v4.59h-40.2zM222.9 1621.1h40.2v8.73h-40.2zM222.9 1654.2h40.2v4.59h-40.2zM222.9 1679.0h40.2v4.59h-40.2zM222.9 1765.9h40.2v4.59h-40.2zM222.9 1848.7h40.2v4.59h-40.2zM222.9 1856.9h40.2v4.59h-40.2zM222.9 1869.4h40.2v12.86h-40.2zM222.9 1906.6h40.2v4.59h-40.2zM263.1 1058.4h40.2v4.59h-40.2zM263.1 1091.5h40.2v4.59h-40.2zM263.1 1157.7h40.2v4.59h-40.2zM263.1 1174.2h40.2v4.59h-40.2zM263.1 1443.2h40.2v4.59h-40.2zM263.1 1505.3h40.2v4.59h-40.2zM263.1 1521.8h40.2v12.86h-40.2zM263.1 1559.0h40.2v4.59h-40.2zM263.1 1633.5h40.2v4.59h-40.2zM263.1 1799.0h40.2v8.73h-40.2zM263.1 1844.5h40.2v4.59h-40.2zM263.1 1861.1h40.2v4.59h-40.2zM263.1 1935.6h40.2v8.73h-40.2zM303.3 863.9h40.2v4.59h-40.2zM303.3 1087.4h40.2v4.59h-40.2zM303.3 1194.9h40.2v4.59h-40.2zM303.3 1306.6h40.2v4.59h-40.2zM303.3 1472.2h40.2v4.59h-40.2zM303.3 1567.3h40.2v8.73h-40.2zM303.3 1691.4h40.2v4.59h-40.2zM303.3 1737.0h40.2v4.59h-40.2zM303.3 1828.0h40.2v4.59h-40.2zM303.3 1836.3h40.2v4.59h-40.2zM303.3 1848.7h40.2v4.59h-40.2zM303.3 1856.9h40.2v8.73h-40.2zM303.3 1885.9h40.2v4.59h-40.2zM303.3 1939.7h40.2v4.59h-40.2zM303.3 1960.4h40.2v4.59h-40.2zM303.3 1972.8h40.2v4.59h-40.2zM343.5 926.0h40.2v4.59h-40.2zM343.5 1401.8h40.2v4.59h-40.2zM343.5 1439.1h40.2v4.59h-40.2zM343.5 1480.4h40.2v8.73h-40.2zM343.5 1554.9h40.2v4.59h-40.2zM343.5 1782.5h40.2v4.59h-40.2zM343.5 1865.2h40.2v4.59h-40.2zM343.5 1906.6h40.2v8.73h-40.2zM343.5 1952.1h40.2v4.59h-40.2zM343.5 1960.4h40.2v4.59h-40.2zM343.5 1976.9h40.2v4.59h-40.2zM383.6 814.3h40.2v4.59h-40.2zM383.6 917.7h40.2v4.59h-40.2zM383.6 926.0h40.2v4.59h-40.2zM383.6 979.8h40.2v4.59h-40.2zM383.6 1008.7h40.2v4.59h-40.2zM383.6 1017.0h40.2v4.59h-40.2zM383.6 1033.6h40.2v4.59h-40.2zM383.6 1041.8h40.2v4.59h-40.2zM383.6 1066.7h40.2v4.59h-40.2zM383.6 1095.6h40.2v8.73h-40.2zM383.6 1149.4h40.2v4.59h-40.2zM383.6 1157.7h40.2v4.59h-40.2zM383.6 1170.1h40.2v4.59h-40.2zM383.6 1186.7h40.2v4.59h-40.2zM383.6 1211.5h40.2v8.73h-40.2zM383.6 1248.7h40.2v4.59h-40.2zM383.6 1281.8h40.2v4.59h-40.2zM383.6 1290.1h40.2v4.59h-40.2zM383.6 1385.3h40.2v4.59h-40.2zM383.6 1459.7h40.2v4.59h-40.2zM423.8 793.6h40.2v4.59h-40.2zM423.8 830.8h40.2v4.59h-40.2zM423.8 884.6h40.2v4.59h-40.2zM423.8 921.9h40.2v4.59h-40.2zM423.8 938.4h40.2v4.59h-40.2zM423.8 988.1h40.2v8.73h-40.2zM423.8 1008.7h40.2v4.59h-40.2zM423.8 1021.2h40.2v4.59h-40.2zM423.8 1095.6h40.2v4.59h-40.2zM423.8 1157.7h40.2v4.59h-40.2zM423.8 1219.8h40.2v4.59h-40.2zM423.8 1228.0h40.2v4.59h-40.2zM423.8 1240.4h40.2v4.59h-40.2zM423.8 1277.7h40.2v4.59h-40.2zM423.8 1286.0h40.2v4.59h-40.2zM423.8 1381.1h40.2v4.59h-40.2zM423.8 1410.1h40.2v4.59h-40.2zM423.8 1521.8h40.2v4.59h-40.2zM423.8 1592.1h40.2v4.59h-40.2zM423.8 1679.0h40.2v4.59h-40.2zM423.8 1753.5h40.2v4.59h-40.2zM423.8 1885.9h40.2v4.59h-40.2zM464.0 855.7h40.2v4.59h-40.2zM464.0 868.1h40.2v12.86h-40.2zM464.0 930.1h40.2v4.59h-40.2zM464.0 938.4h40.2v4.59h-40.2zM464.0 959.1h40.2v4.59h-40.2zM464.0 967.4h40.2v12.86h-40.2zM464.0 1004.6h40.2v8.73h-40.2zM464.0 1037.7h40.2v8.73h-40.2zM464.0 1132.9h40.2v4.59h-40.2zM464.0 1170.1h40.2v4.59h-40.2zM464.0 1178.4h40.2v4.59h-40.2zM464.0 1281.8h40.2v8.73h-40.2zM464.0 1310.8h40.2v4.59h-40.2zM464.0 1319.1h40.2v4.59h-40.2zM464.0 1356.3h40.2v4.59h-40.2zM464.0 1381.1h40.2v4.59h-40.2zM464.0 1389.4h40.2v4.59h-40.2zM464.0 1430.8h40.2v4.59h-40.2zM464.0 1513.5h40.2v4.59h-40.2zM504.2 1070.8h40.2v4.59h-40.2zM504.2 1145.3h40.2v8.73h-40.2zM504.2 1170.1h40.2v4.59h-40.2zM504.2 1203.2h40.2v4.59h-40.2zM504.2 1319.1h40.2v4.59h-40.2zM504.2 1331.5h40.2v4.59h-40.2zM504.2 1360.4h40.2v4.59h-40.2zM504.2 1372.8h40.2v4.59h-40.2zM544.4 789.5h40.2v4.59h-40.2zM544.4 814.3h40.2v4.59h-40.2zM544.4 1000.5h40.2v4.59h-40.2zM544.4 1062.5h40.2v4.59h-40.2zM544.4 1074.9h40.2v4.59h-40.2zM544.4 1083.2h40.2v4.59h-40.2zM544.4 1149.4h40.2v8.73h-40.2zM544.4 1203.2h40.2v8.73h-40.2zM544.4 1331.5h40.2v4.59h-40.2zM544.4 1364.6h40.2v4.59h-40.2zM544.4 1389.4h40.2v4.59h-40.2zM544.4 1418.4h40.2v4.59h-40.2zM544.4 1497.0h40.2v4.59h-40.2zM544.4 1521.8h40.2v4.59h-40.2zM544.4 1534.2h40.2v4.59h-40.2zM544.4 1559.0h40.2v8.73h-40.2zM544.4 1625.2h40.2v4.59h-40.2zM544.4 1641.8h40.2v4.59h-40.2zM544.4 1741.1h40.2v8.73h-40.2zM544.4 1765.9h40.2v8.73h-40.2zM544.4 1794.9h40.2v4.59h-40.2zM544.4 1803.2h40.2v4.59h-40.2zM544.4 1844.5h40.2v4.59h-40.2zM544.4 1852.8h40.2v4.59h-40.2zM584.5 930.1h40.2v4.59h-40.2zM584.5 963.2h40.2v4.59h-40.2zM584.5 975.6h40.2v4.59h-40.2zM584.5 983.9h40.2v4.59h-40.2zM584.5 1037.7h40.2v4.59h-40.2zM584.5 1079.1h40.2v4.59h-40.2zM584.5 1091.5h40.2v8.73h-40.2zM584.5 1108.0h40.2v4.59h-40.2zM584.5 1124.6h40.2v4.59h-40.2zM584.5 1153.6h40.2v4.59h-40.2zM584.5 1273.5h40.2v4.59h-40.2zM584.5 1335.6h40.2v4.59h-40.2zM584.5 1364.6h40.2v8.73h-40.2zM584.5 1463.9h40.2v4.59h-40.2zM584.5 1583.9h40.2v12.86h-40.2zM584.5 1621.1h40.2v4.59h-40.2zM584.5 1654.2h40.2v4.59h-40.2zM584.5 1679.0h40.2v8.73h-40.2zM584.5 1745.2h40.2v8.73h-40.2zM584.5 1782.5h40.2v4.59h-40.2zM584.5 1807.3h40.2v8.73h-40.2zM584.5 1823.8h40.2v4.59h-40.2zM584.5 1832.1h40.2v4.59h-40.2zM584.5 1861.1h40.2v4.59h-40.2zM584.5 1873.5h40.2v8.73h-40.2zM624.7 797.7h40.2v4.59h-40.2zM624.7 826.7h40.2v4.59h-40.2zM624.7 835.0h40.2v8.73h-40.2zM624.7 1066.7h40.2v8.73h-40.2zM624.7 1116.3h40.2v4.59h-40.2zM624.7 1137.0h40.2v8.73h-40.2zM624.7 1269.4h40.2v4.59h-40.2zM624.7 1319.1h40.2v4.59h-40.2zM624.7 1331.5h40.2v4.59h-40.2zM624.7 1397.7h40.2v4.59h-40.2zM624.7 1410.1h40.2v4.59h-40.2zM624.7 1463.9h40.2v8.73h-40.2zM624.7 1559.0h40.2v4.59h-40.2zM624.7 1575.6h40.2v4.59h-40.2zM624.7 1625.2h40.2v4.59h-40.2zM624.7 1645.9h40.2v4.59h-40.2zM624.7 1712.1h40.2v8.73h-40.2zM624.7 1852.8h40.2v4.59h-40.2zM624.7 1914.9h40.2v4.59h-40.2zM624.7 1931.4h40.2v4.59h-40.2zM624.7 1939.7h40.2v4.59h-40.2zM624.7 1960.4h40.2v4.59h-40.2zM624.7 1981.1h40.2v4.59h-40.2zM664.9 801.9h40.2v4.59h-40.2zM664.9 814.3h40.2v8.73h-40.2zM664.9 876.3h40.2v4.59h-40.2zM664.9 892.9h40.2v8.73h-40.2zM664.9 909.4h40.2v4.59h-40.2zM664.9 1244.6h40.2v4.59h-40.2zM664.9 1265.3h40.2v4.59h-40.2zM664.9 1724.5h40.2v4.59h-40.2zM705.0 822.6h40.2v4.59h-40.2zM745.2 830.8h40.2v4.59h-40.2zM745.2 872.2h40.2v4.59h-40.2zM745.2 901.2h40.2v4.59h-40.2zM745.2 913.6h40.2v4.59h-40.2zM745.2 975.6h40.2v4.59h-40.2z"/>
<path fill="#e8deef" d="M142.6 1600.4h40.2v4.59h-40.2zM142.6 1629.4h40.2v4.59h-40.2zM182.8 1873.5h40.2v8.73h-40.2zM222.9 843.2h40.2v4.59h-40.2zM222.9 909.4h40.2v8.73h-40.2zM222.9 1505.3h40.2v4.59h-40.2zM222.9 1650.1h40.2v4.59h-40.2zM222.9 1828.0h40.2v4.59h-40.2zM222.9 1852.8h40.2v4.59h-40.2zM222.9 1861.1h40.2v4.59h-40.2zM263.1 1103.9h40.2v4.59h-40.2zM263.1 1112.2h40.2v8.73h-40.2zM263.1 1137.0h40.2v4.59h-40.2zM263.1 1166.0h40.2v4.59h-40.2zM263.1 1203.2h40.2v4.59h-40.2zM263.1 1583.9h40.2v4.59h-40.2zM263.1 1625.2h40.2v4.59h-40.2zM263.1 1662.5h40.2v8.73h-40.2zM263.1 1674.9h40.2v4.59h-40.2zM263.1 1836.3h40.2v8.73h-40.2zM263.1 1898.3h40.2v4.59h-40.2zM303.3 1302.5h40.2v4.59h-40.2zM303.3 1397.7h40.2v4.59h-40.2zM303.3 1434.9h40.2v4.59h-40.2zM303.3 1546.6h40.2v4.59h-40.2zM303.3 1708.0h40.2v4.59h-40.2zM303.3 1720.4h40.2v4.59h-40.2zM303.3 1873.5h40.2v4.59h-40.2zM303.3 1890.0h40.2v4.59h-40.2zM303.3 1906.6h40.2v4.59h-40.2zM303.3 1923.1h40.2v17.00h-40.2zM303.3 1948.0h40.2v4.59h-40.2zM303.3 1956.2h40.2v4.59h-40.2zM303.3 1968.7h40.2v4.59h-40.2zM343.5 897.0h40.2v4.59h-40.2zM343.5 1116.3h40.2v4.59h-40.2zM343.5 1157.7h40.2v4.59h-40.2zM343.5 1430.8h40.2v4.59h-40.2zM343.5 1625.2h40.2v4.59h-40.2zM343.5 1645.9h40.2v8.73h-40.2zM343.5 1786.6h40.2v4.59h-40.2zM343.5 1823.8h40.2v4.59h-40.2zM343.5 1902.5h40.2v4.59h-40.2zM343.5 1939.7h40.2v4.59h-40.2zM343.5 1956.2h40.2v4.59h-40.2zM343.5 1981.1h40.2v8.73h-40.2zM383.6 797.7h40.2v4.59h-40.2zM383.6 810.1h40.2v4.59h-40.2zM383.6 851.5h40.2v4.59h-40.2zM383.6 880.5h40.2v4.59h-40.2zM383.6 897.0h40.2v4.59h-40.2zM383.6 905.3h40.2v4.59h-40.2zM383.6 934.3h40.2v4.59h-40.2zM383.6 1046.0h40.2v4.59h-40.2zM383.6 1074.9h40.2v4.59h-40.2zM383.6 1087.4h40.2v8.73h-40.2zM383.6 1116.3h40.2v4.59h-40.2zM383.6 1132.9h40.2v4.59h-40.2zM383.6 1190.8h40.2v4.59h-40.2zM383.6 1199.1h40.2v12.86h-40.2zM383.6 1691.4h40.2v4.59h-40.2zM423.8 868.1h40.2v4.59h-40.2zM423.8 876.3h40.2v8.73h-40.2zM423.8 950.8h40.2v4.59h-40.2zM423.8 1116.3h40.2v4.59h-40.2zM423.8 1124.6h40.2v4.59h-40.2zM423.8 1153.6h40.2v4.59h-40.2zM423.8 1166.0h40.2v12.86h-40.2zM423.8 1223.9h40.2v4.59h-40.2zM423.8 1232.2h40.2v8.73h-40.2zM423.8 1244.6h40.2v4.59h-40.2zM423.8 1368.7h40.2v8.73h-40.2zM423.8 1443.2h40.2v4.59h-40.2zM423.8 1463.9h40.2v4.59h-40.2zM423.8 1683.2h40.2v4.59h-40.2zM464.0 835.0h40.2v4.59h-40.2zM464.0 843.2h40.2v4.59h-40.2zM464.0 884.6h40.2v4.59h-40.2zM464.0 926.0h40.2v4.59h-40.2zM464.0 946.7h40.2v4.59h-40.2zM464.0 979.8h40.2v4.59h-40.2zM464.0 988.1h40.2v4.59h-40.2zM464.0 1046.0h40.2v4.59h-40.2zM464.0 1083.2h40.2v4.59h-40.2zM464.0 1128.7h40.2v4.59h-40.2zM464.0 1257.0h40.2v4.59h-40.2zM464.0 1290.1h40.2v4.59h-40.2zM464.0 1327.3h40.2v4.59h-40.2zM464.0 1352.2h40.2v4.59h-40.2zM464.0 1410.1h40.2v4.59h-40.2zM504.2 851.5h40.2v4.59h-40.2zM504.2 913.6h40.2v4.59h-40.2zM504.2 934.3h40.2v4.59h-40.2zM504.2 1178.4h40.2v4.59h-40.2zM504.2 1314.9h40.2v4.59h-40.2zM504.2 1323.2h40.2v4.59h-40.2zM504.2 1377.0h40.2v4.59h-40.2zM544.4 797.7h40.2v8.73h-40.2zM544.4 818.4h40.2v4.59h-40.2zM544.4 926.0h40.2v4.59h-40.2zM544.4 1070.8h40.2v4.59h-40.2zM544.4 1079.1h40.2v4.59h-40.2zM544.4 1132.9h40.2v4.59h-40.2zM544.4 1161.8h40.2v4.59h-40.2zM544.4 1199.1h40.2v4.59h-40.2zM544.4 1327.3h40.2v4.59h-40.2zM544.4 1339.7h40.2v4.59h-40.2zM544.4 1463.9h40.2v21.14h-40.2zM544.4 1550.8h40.2v4.59h-40.2zM544.4 1604.6h40.2v4.59h-40.2zM544.4 1629.4h40.2v4.59h-40.2zM544.4 1674.9h40.2v4.59h-40.2zM544.4 1774.2h40.2v4.59h-40.2zM544.4 1807.3h40.2v4.59h-40.2zM584.5 909.4h40.2v4.59h-40.2zM584.5 917.7h40.2v4.59h-40.2zM584.5 955.0h40.2v4.59h-40.2zM584.5 1012.9h40.2v4.59h-40.2zM584.5 1099.8h40.2v8.73h-40.2zM584.5 1149.4h40.2v4.59h-40.2zM584.5 1339.7h40.2v4.59h-40.2zM584.5 1348.0h40.2v8.73h-40.2zM584.5 1360.4h40.2v4.59h-40.2zM584.5 1608.7h40.2v8.73h-40.2zM584.5 1629.4h40.2v4.59h-40.2zM584.5 1658.3h40.2v4.59h-40.2zM584.5 1666.6h40.2v4.59h-40.2zM584.5 1708.0h40.2v12.86h-40.2zM584.5 1753.5h40.2v12.86h-40.2zM584.5 1778.3h40.2v4.59h-40.2zM584.5 1869.4h40.2v4.59h-40.2zM584.5 1906.6h40.2v4.59h-40.2zM584.5 1960.4h40.2v4.59h-40.2zM624.7 876.3h40.2v4.59h-40.2zM624.7 913.6h40.2v4.59h-40.2zM624.7 921.9h40.2v4.59h-40.2zM624.7 942.5h40.2v4.59h-40.2zM624.7 1017.0h40.2v4.59h-40.2zM624.7 1025.3h40.2v4.59h-40.2zM624.7 1128.7h40.2v4.59h-40.2zM624.7 1157.7h40.2v4.59h-40.2zM624.7 1261.1h40.2v8.73h-40.2zM624.7 1298.4h40.2v8.73h-40.2zM624.7 1348.0h40.2v4.59h-40.2zM624.7 1393.5h40.2v4.59h-40.2zM624.7 1401.8h40.2v8.73h-40.2zM624.7 1414.2h40.2v4.59h-40.2zM624.7 1422.5h40.2v4.59h-40.2zM624.7 1534.2h40.2v4.59h-40.2zM624.7 1550.8h40.2v4.59h-40.2zM624.7 1567.3h40.2v8.73h-40.2zM624.7 1579.7h40.2v4.59h-40.2zM624.7 1629.4h40.2v4.59h-40.2zM624.7 1641.8h40.2v4.59h-40.2zM624.7 1658.3h40.2v4.59h-40.2zM624.7 1687.3h40.2v4.59h-40.2zM624.7 1695.6h40.2v4.59h-40.2zM624.7 1708.0h40.2v4.59h-40.2zM624.7 1753.5h40.2v4.59h-40.2zM624.7 1790.7h40.2v4.59h-40.2zM624.7 1935.6h40.2v4.59h-40.2zM664.9 855.7h40.2v4.59h-40.2zM664.9 868.1h40.2v4.59h-40.2zM664.9 905.3h40.2v4.59h-40.2zM664.9 1017.0h40.2v4.59h-40.2zM664.9 1058.4h40.2v4.59h-40.2zM664.9 1087.4h40.2v4.59h-40.2zM664.9 1223.9h40.2v8.73h-40.2zM664.9 1261.1h40.2v4.59h-40.2zM664.9 1339.7h40.2v4.59h-40.2zM664.9 1550.8h40.2v4.59h-40.2zM705.0 905.3h40.2v4.59h-40.2zM705.0 926.0h40.2v4.59h-40.2zM705.0 950.8h40.2v4.59h-40.2zM705.0 1025.3h40.2v4.59h-40.2zM705.0 1588.0h40.2v4.59h-40.2zM745.2 835.0h40.2v12.86h-40.2zM745.2 888.8h40.2v12.86h-40.2zM745.2 934.3h40.2v4.59h-40.2zM745.2 942.5h40.2v8.73h-40.2zM745.2 996.3h40.2v4.59h-40.2zM745.2 1008.7h40.2v4.59h-40.2zM745.2 1017.0h40.2v4.59h-40.2zM745.2 1074.9h40.2v4.59h-40.2zM745.2 1083.2h40.2v8.73h-40.2zM745.2 1174.2h40.2v4.59h-40.2zM745.2 1248.7h40.2v4.59h-40.2z"/>
<path fill="#d7c8ee" d="M142.6 1625.2h40.2v4.59h-40.2zM142.6 1666.6h40.2v4.59h-40.2zM142.6 1807.3h40.2v4.59h-40.2zM142.6 1976.9h40.2v4.59h-40.2zM182.8 1298.4h40.2v4.59h-40.2zM182.8 1869.4h40.2v4.59h-40.2zM222.9 1836.3h40.2v4.59h-40.2zM222.9 1844.5h40.2v4.59h-40.2zM222.9 1890.0h40.2v4.59h-40.2zM222.9 1919.0h40.2v4.59h-40.2zM222.9 1939.7h40.2v4.59h-40.2zM263.1 1108.0h40.2v4.59h-40.2zM263.1 1476.3h40.2v4.59h-40.2zM263.1 1621.1h40.2v4.59h-40.2zM263.1 1885.9h40.2v4.59h-40.2zM263.1 1902.5h40.2v4.59h-40.2zM263.1 1948.0h40.2v12.86h-40.2zM303.3 1037.7h40.2v4.59h-40.2zM303.3 1679.0h40.2v4.59h-40.2zM303.3 1687.3h40.2v4.59h-40.2zM303.3 1703.9h40.2v4.59h-40.2zM303.3 1724.5h40.2v4.59h-40.2zM303.3 1881.8h40.2v4.59h-40.2zM303.3 1898.3h40.2v4.59h-40.2zM303.3 1910.7h40.2v4.59h-40.2zM303.3 1952.1h40.2v4.59h-40.2zM343.5 1161.8h40.2v4.59h-40.2zM343.5 1778.3h40.2v4.59h-40.2zM343.5 1828.0h40.2v4.59h-40.2zM343.5 1836.3h40.2v4.59h-40.2zM343.5 1890.0h40.2v4.59h-40.2zM343.5 1898.3h40.2v4.59h-40.2zM343.5 1914.9h40.2v4.59h-40.2zM383.6 859.8h40.2v4.59h-40.2zM383.6 876.3h40.2v4.59h-40.2zM383.6 884.6h40.2v4.59h-40.2zM383.6 892.9h40.2v4.59h-40.2zM383.6 921.9h40.2v4.59h-40.2zM383.6 938.4h40.2v4.59h-40.2zM383.6 967.4h40.2v4.59h-40.2zM383.6 975.6h40.2v4.59h-40.2zM383.6 1037.7h40.2v4.59h-40.2zM383.6 1153.6h40.2v4.59h-40.2zM383.6 1161.8h40.2v4.59h-40.2zM383.6 1389.4h40.2v4.59h-40.2zM423.8 1070.8h40.2v4.59h-40.2zM423.8 1120.5h40.2v4.59h-40.2zM423.8 1161.8h40.2v4.59h-40.2zM423.8 1273.5h40.2v4.59h-40.2zM423.8 1430.8h40.2v4.59h-40.2zM423.8 1439.1h40.2v4.59h-40.2zM423.8 1468.0h40.2v4.59h-40.2zM464.0 839.1h40.2v4.59h-40.2zM464.0 859.8h40.2v8.73h-40.2zM464.0 921.9h40.2v4.59h-40.2zM464.0 950.8h40.2v4.59h-40.2zM464.0 963.2h40.2v4.59h-40.2zM464.0 1050.1h40.2v8.73h-40.2zM464.0 1074.9h40.2v4.59h-40.2zM464.0 1091.5h40.2v4.59h-40.2zM464.0 1099.8h40.2v4.59h-40.2zM464.0 1120.5h40.2v4.59h-40.2zM464.0 1145.3h40.2v8.73h-40.2zM464.0 1161.8h40.2v4.59h-40.2zM464.0 1174.2h40.2v4.59h-40.2zM464.0 1248.7h40.2v8.73h-40.2zM464.0 1306.6h40.2v4.59h-40.2zM504.2 843.2h40.2v4.59h-40.2zM504.2 938.4h40.2v4.59h-40.2zM504.2 1021.2h40.2v4.59h-40.2zM504.2 1029.4h40.2v4.59h-40.2zM504.2 1083.2h40.2v4.59h-40.2zM504.2 1120.5h40.2v4.59h-40.2zM504.2 1153.6h40.2v8.73h-40.2zM504.2 1182.5h40.2v4.59h-40.2zM504.2 1194.9h40.2v4.59h-40.2zM504.2 1215.6h40.2v4.59h-40.2zM504.2 1286.0h40.2v4.59h-40.2zM504.2 1335.6h40.2v4.59h-40.2zM544.4 793.6h40.2v4.59h-40.2zM544.4 917.7h40.2v4.59h-40.2zM544.4 959.1h40.2v8.73h-40.2zM544.4 979.8h40.2v8.73h-40.2zM544.4 1066.7h40.2v4.59h-40.2zM544.4 1091.5h40.2v4.59h-40.2zM544.4 1112.2h40.2v4.59h-40.2zM544.4 1124.6h40.2v8.73h-40.2zM544.4 1141.1h40.2v4.59h-40.2zM544.4 1157.7h40.2v4.59h-40.2zM544.4 1335.6h40.2v4.59h-40.2zM544.4 1575.6h40.2v8.73h-40.2zM544.4 1588.0h40.2v4.59h-40.2zM544.4 1600.4h40.2v4.59h-40.2zM544.4 1687.3h40.2v4.59h-40.2zM544.4 1799.0h40.2v4.59h-40.2zM544.4 1811.4h40.2v4.59h-40.2zM544.4 1832.1h40.2v4.59h-40.2zM584.5 789.5h40.2v8.73h-40.2zM584.5 959.1h40.2v4.59h-40.2zM584.5 967.4h40.2v8.73h-40.2zM584.5 1050.1h40.2v4.59h-40.2zM584.5 1070.8h40.2v4.59h-40.2zM584.5 1112.2h40.2v8.73h-40.2zM584.5 1310.8h40.2v4.59h-40.2zM584.5 1331.5h40.2v4.59h-40.2zM584.5 1468.0h40.2v4.59h-40.2zM584.5 1600.4h40.2v8.73h-40.2zM584.5 1633.5h40.2v12.86h-40.2zM584.5 1732.8h40.2v8.73h-40.2zM584.5 1848.7h40.2v4.59h-40.2zM584.5 1898.3h40.2v4.59h-40.2zM624.7 868.1h40.2v4.59h-40.2zM624.7 946.7h40.2v12.86h-40.2zM624.7 1041.8h40.2v4.59h-40.2zM624.7 1145.3h40.2v4.59h-40.2zM624.7 1153.6h40.2v4.59h-40.2zM624.7 1194.9h40.2v4.59h-40.2zM624.7 1252.9h40.2v4.59h-40.2zM624.7 1306.6h40.2v4.59h-40.2zM624.7 1327.3h40.2v4.59h-40.2zM624.7 1335.6h40.2v4.59h-40.2zM624.7 1372.8h40.2v4.59h-40.2zM624.7 1443.2h40.2v4.59h-40.2zM624.7 1538.4h40.2v4.59h-40.2zM624.7 1633.5h40.2v4.59h-40.2zM624.7 1654.2h40.2v4.59h-40.2zM624.7 1666.6h40.2v8.73h-40.2zM624.7 1757.6h40.2v4.59h-40.2zM664.9 822.6h40.2v4.59h-40.2zM664.9 830.8h40.2v4.59h-40.2zM664.9 880.5h40.2v4.59h-40.2zM664.9 934.3h40.2v4.59h-40.2zM664.9 1021.2h40.2v4.59h-40.2zM664.9 1029.4h40.2v4.59h-40.2zM664.9 1046.0h40.2v4.59h-40.2zM664.9 1066.7h40.2v4.59h-40.2zM664.9 1083.2h40.2v4.59h-40.2zM664.9 1286.0h40.2v4.59h-40.2zM664.9 1509.4h40.2v4.59h-40.2zM664.9 1525.9h40.2v12.86h-40.2zM664.9 1559.0h40.2v8.73h-40.2zM664.9 1592.1h40.2v4.59h-40.2zM705.0 835.0h40.2v4.59h-40.2zM705.0 888.8h40.2v4.59h-40.2zM705.0 921.9h40.2v4.59h-40.2zM705.0 967.4h40.2v4.59h-40.2zM705.0 988.1h40.2v4.59h-40.2zM705.0 1012.9h40.2v4.59h-40.2zM705.0 1033.6h40.2v4.59h-40.2zM705.0 1480.4h40.2v4.59h-40.2zM705.0 1592.1h40.2v4.59h-40.2zM745.2 793.6h40.2v4.59h-40.2zM745.2 847.4h40.2v12.86h-40.2zM745.2 930.1h40.2v4.59h-40.2zM745.2 1012.9h40.2v4.59h-40.2zM745.2 1058.4h40.2v4.59h-40.2zM745.2 1252.9h40.2v4.59h-40.2z"/>
<path fill="#c2abe8" d="M142.6 1695.6h40.2v4.59h-40.2zM142.6 1803.2h40.2v4.59h-40.2zM142.6 1885.9h40.2v8.73h-40.2zM142.6 1910.7h40.2v4.59h-40.2zM142.6 1972.8h40.2v4.59h-40.2zM142.6 1981.1h40.2v4.59h-40.2zM182.8 1612.8h40.2v4.59h-40.2zM182.8 1654.2h40.2v4.59h-40.2zM182.8 1931.4h40.2v4.59h-40.2zM222.9 1823.8h40.2v4.59h-40.2zM222.9 1832.1h40.2v4.59h-40.2zM222.9 1840.4h40.2v4.59h-40.2zM222.9 1935.6h40.2v4.59h-40.2zM222.9 1943.8h40.2v4.59h-40.2zM263.1 1650.1h40.2v4.59h-40.2zM263.1 1670.8h40.2v4.59h-40.2zM263.1 1877.6h40.2v4.59h-40.2zM263.1 1923.1h40.2v4.59h-40.2zM303.3 1658.3h40.2v4.59h-40.2zM303.3 1877.6h40.2v4.59h-40.2zM303.3 1894.2h40.2v4.59h-40.2zM303.3 1902.5h40.2v4.59h-40.2zM303.3 1914.9h40.2v4.59h-40.2zM343.5 1443.2h40.2v8.73h-40.2zM343.5 1790.7h40.2v4.59h-40.2zM343.5 1881.8h40.2v8.73h-40.2zM383.6 793.6h40.2v4.59h-40.2zM383.6 801.9h40.2v4.59h-40.2zM383.6 822.6h40.2v4.59h-40.2zM383.6 830.8h40.2v4.59h-40.2zM383.6 839.1h40.2v4.59h-40.2zM383.6 847.4h40.2v4.59h-40.2zM383.6 901.2h40.2v4.59h-40.2zM383.6 955.0h40.2v4.59h-40.2zM383.6 963.2h40.2v4.59h-40.2zM383.6 1472.2h40.2v4.59h-40.2zM423.8 806.0h40.2v8.73h-40.2zM423.8 851.5h40.2v4.59h-40.2zM423.8 1182.5h40.2v4.59h-40.2zM423.8 1190.8h40.2v4.59h-40.2zM423.8 1377.0h40.2v4.59h-40.2zM423.8 1447.3h40.2v4.59h-40.2zM464.0 880.5h40.2v4.59h-40.2zM464.0 934.3h40.2v4.59h-40.2zM464.0 1033.6h40.2v4.59h-40.2zM464.0 1058.4h40.2v4.59h-40.2zM464.0 1079.1h40.2v4.59h-40.2zM464.0 1095.6h40.2v4.59h-40.2zM464.0 1103.9h40.2v4.59h-40.2zM464.0 1443.2h40.2v4.59h-40.2zM504.2 822.6h40.2v4.59h-40.2zM504.2 839.1h40.2v4.59h-40.2zM504.2 855.7h40.2v4.59h-40.2zM504.2 905.3h40.2v8.73h-40.2zM504.2 1033.6h40.2v4.59h-40.2zM504.2 1046.0h40.2v4.59h-40.2zM504.2 1062.5h40.2v4.59h-40.2zM504.2 1074.9h40.2v4.59h-40.2zM504.2 1087.4h40.2v4.59h-40.2zM504.2 1099.8h40.2v4.59h-40.2zM504.2 1108.0h40.2v4.59h-40.2zM504.2 1116.3h40.2v4.59h-40.2zM504.2 1190.8h40.2v4.59h-40.2zM504.2 1199.1h40.2v4.59h-40.2zM504.2 1273.5h40.2v4.59h-40.2zM544.4 863.9h40.2v4.59h-40.2zM544.4 880.5h40.2v4.59h-40.2zM544.4 921.9h40.2v4.59h-40.2zM544.4 996.3h40.2v4.59h-40.2zM544.4 1095.6h40.2v8.73h-40.2zM544.4 1166.0h40.2v4.59h-40.2zM544.4 1583.9h40.2v4.59h-40.2zM544.4 1592.1h40.2v4.59h-40.2zM544.4 1617.0h40.2v4.59h-40.2zM544.4 1670.8h40.2v4.59h-40.2zM544.4 1712.1h40.2v8.73h-40.2zM544.4 1724.5h40.2v4.59h-40.2zM544.4 1732.8h40.2v4.59h-40.2zM584.5 979.8h40.2v4.59h-40.2zM584.5 988.1h40.2v8.73h-40.2zM584.5 1008.7h40.2v4.59h-40.2zM584.5 1017.0h40.2v4.59h-40.2zM584.5 1046.0h40.2v4.59h-40.2zM584.5 1066.7h40.2v4.59h-40.2zM584.5 1132.9h40.2v4.59h-40.2zM584.5 1261.1h40.2v8.73h-40.2zM584.5 1306.6h40.2v4.59h-40.2zM584.5 1314.9h40.2v4.59h-40.2zM584.5 1343.9h40.2v4.59h-40.2zM584.5 1356.3h40.2v4.59h-40.2zM584.5 1617.0h40.2v4.59h-40.2zM584.5 1674.9h40.2v4.59h-40.2zM624.7 789.5h40.2v4.59h-40.2zM624.7 843.2h40.2v4.59h-40.2zM624.7 888.8h40.2v4.59h-40.2zM624.7 926.0h40.2v4.59h-40.2zM624.7 938.4h40.2v4.59h-40.2zM624.7 959.1h40.2v4.59h-40.2zM624.7 1029.4h40.2v4.59h-40.2zM624.7 1161.8h40.2v4.59h-40.2zM624.7 1236.3h40.2v4.59h-40.2zM624.7 1244.6h40.2v4.59h-40.2zM624.7 1257.0h40.2v4.59h-40.2zM624.7 1273.5h40.2v4.59h-40.2zM624.7 1286.0h40.2v4.59h-40.2zM624.7 1310.8h40.2v4.59h-40.2zM624.7 1343.9h40.2v4.59h-40.2zM624.7 1368.7h40.2v4.59h-40.2zM624.7 1385.3h40.2v4.59h-40.2zM624.7 1517.7h40.2v4.59h-40.2zM624.7 1542.5h40.2v8.73h-40.2zM624.7 1563.2h40.2v4.59h-40.2zM624.7 1612.8h40.2v8.73h-40.2zM624.7 1637.7h40.2v4.59h-40.2zM624.7 1650.1h40.2v4.59h-40.2zM624.7 1662.5h40.2v4.59h-40.2zM664.9 806.0h40.2v8.73h-40.2zM664.9 835.0h40.2v4.59h-40.2zM664.9 872.2h40.2v4.59h-40.2zM664.9 938.4h40.2v4.59h-40.2zM664.9 1008.7h40.2v4.59h-40.2zM664.9 1025.3h40.2v4.59h-40.2zM664.9 1033.6h40.2v8.73h-40.2zM664.9 1050.1h40.2v4.59h-40.2zM664.9 1070.8h40.2v4.59h-40.2zM664.9 1128.7h40.2v8.73h-40.2zM664.9 1240.4h40.2v4.59h-40.2zM664.9 1269.4h40.2v4.59h-40.2zM664.9 1290.1h40.2v4.59h-40.2zM664.9 1310.8h40.2v8.73h-40.2zM664.9 1377.0h40.2v4.59h-40.2zM664.9 1385.3h40.2v8.73h-40.2zM664.9 1397.7h40.2v8.73h-40.2zM664.9 1488.7h40.2v12.86h-40.2zM664.9 1505.3h40.2v4.59h-40.2zM664.9 1538.4h40.2v4.59h-40.2zM664.9 1546.6h40.2v4.59h-40.2zM664.9 1554.9h40.2v4.59h-40.2zM664.9 1588.0h40.2v4.59h-40.2zM705.0 789.5h40.2v4.59h-40.2zM705.0 843.2h40.2v8.73h-40.2zM705.0 855.7h40.2v4.59h-40.2zM705.0 868.1h40.2v4.59h-40.2zM705.0 884.6h40.2v4.59h-40.2zM705.0 892.9h40.2v8.73h-40.2zM705.0 909.4h40.2v4.59h-40.2zM705.0 946.7h40.2v4.59h-40.2zM705.0 963.2h40.2v4.59h-40.2zM705.0 975.6h40.2v12.86h-40.2zM705.0 992.2h40.2v4.59h-40.2zM705.0 1021.2h40.2v4.59h-40.2zM705.0 1029.4h40.2v4.59h-40.2zM705.0 1041.8h40.2v4.59h-40.2zM705.0 1484.6h40.2v4.59h-40.2zM705.0 1501.1h40.2v4.59h-40.2zM745.2 859.8h40.2v4.59h-40.2zM745.2 967.4h40.2v4.59h-40.2zM745.2 1000.5h40.2v4.59h-40.2zM745.2 1021.2h40.2v4.59h-40.2zM745.2 1041.8h40.2v4.59h-40.2zM745.2 1050.1h40.2v8.73h-40.2zM745.2 1079.1h40.2v4.59h-40.2zM745.2 1128.7h40.2v4.59h-40.2zM745.2 1166.0h40.2v4.59h-40.2zM745.2 1178.4h40.2v4.59h-40.2zM745.2 1331.5h40.2v4.59h-40.2zM745.2 1360.4h40.2v4.59h-40.2zM745.2 1418.4h40.2v8.73h-40.2zM745.2 1579.7h40.2v4.59h-40.2z"/>
<path fill="#ac8ee2" d="M142.6 1621.1h40.2v4.59h-40.2zM142.6 1708.0h40.2v4.59h-40.2zM142.6 1728.7h40.2v4.59h-40.2zM142.6 1770.1h40.2v8.73h-40.2zM142.6 1799.0h40.2v4.59h-40.2zM142.6 1881.8h40.2v4.59h-40.2zM142.6 1894.2h40.2v4.59h-40.2zM142.6 1914.9h40.2v4.59h-40.2zM182.8 1621.1h40.2v4.59h-40.2zM182.8 1633.5h40.2v4.59h-40.2zM182.8 1650.1h40.2v4.59h-40.2zM182.8 1670.8h40.2v8.73h-40.2zM222.9 839.1h40.2v4.59h-40.2zM222.9 1885.9h40.2v4.59h-40.2zM222.9 1910.7h40.2v4.59h-40.2zM222.9 1927.3h40.2v8.73h-40.2zM263.1 1600.4h40.2v4.59h-40.2zM263.1 1811.4h40.2v8.73h-40.2zM263.1 1919.0h40.2v4.59h-40.2zM303.3 1621.1h40.2v4.59h-40.2zM303.3 1654.2h40.2v4.59h-40.2zM303.3 1662.5h40.2v4.59h-40.2zM303.3 1716.3h40.2v4.59h-40.2zM343.5 1612.8h40.2v4.59h-40.2zM343.5 1637.7h40.2v4.59h-40.2zM343.5 1679.0h40.2v4.59h-40.2zM343.5 1695.6h40.2v4.59h-40.2zM343.5 1712.1h40.2v4.59h-40.2zM343.5 1761.8h40.2v4.59h-40.2zM343.5 1894.2h40.2v4.59h-40.2zM383.6 818.4h40.2v4.59h-40.2zM383.6 855.7h40.2v4.59h-40.2zM383.6 959.1h40.2v4.59h-40.2zM383.6 1029.4h40.2v4.59h-40.2zM383.6 1083.2h40.2v4.59h-40.2zM383.6 1468.0h40.2v4.59h-40.2zM423.8 843.2h40.2v4.59h-40.2zM423.8 872.2h40.2v4.59h-40.2zM423.8 892.9h40.2v4.59h-40.2zM423.8 1079.1h40.2v4.59h-40.2zM423.8 1178.4h40.2v4.59h-40.2zM423.8 1434.9h40.2v4.59h-40.2zM423.8 1472.2h40.2v4.59h-40.2zM464.0 1000.5h40.2v4.59h-40.2zM464.0 1070.8h40.2v4.59h-40.2zM464.0 1087.4h40.2v4.59h-40.2zM464.0 1116.3h40.2v4.59h-40.2zM464.0 1137.0h40.2v4.59h-40.2zM504.2 818.4h40.2v4.59h-40.2zM504.2 859.8h40.2v4.59h-40.2zM504.2 942.5h40.2v4.59h-40.2zM504.2 959.1h40.2v4.59h-40.2zM504.2 983.9h40.2v4.59h-40.2zM504.2 1066.7h40.2v4.59h-40.2zM504.2 1112.2h40.2v4.59h-40.2zM504.2 1132.9h40.2v4.59h-40.2zM504.2 1141.1h40.2v4.59h-40.2zM504.2 1186.7h40.2v4.59h-40.2zM544.4 843.2h40.2v4.59h-40.2zM544.4 888.8h40.2v4.59h-40.2zM544.4 1017.0h40.2v4.59h-40.2zM544.4 1058.4h40.2v4.59h-40.2zM544.4 1108.0h40.2v4.59h-40.2zM544.4 1120.5h40.2v4.59h-40.2zM544.4 1571.5h40.2v4.59h-40.2zM544.4 1596.3h40.2v4.59h-40.2zM544.4 1695.6h40.2v4.59h-40.2zM544.4 1728.7h40.2v4.59h-40.2zM584.5 913.6h40.2v4.59h-40.2zM584.5 996.3h40.2v8.73h-40.2zM584.5 1062.5h40.2v4.59h-40.2zM584.5 1269.4h40.2v4.59h-40.2zM584.5 1302.5h40.2v4.59h-40.2zM584.5 1319.1h40.2v4.59h-40.2zM584.5 1327.3h40.2v4.59h-40.2zM584.5 1492.8h40.2v4.59h-40.2zM624.7 793.6h40.2v4.59h-40.2zM624.7 855.7h40.2v8.73h-40.2zM624.7 880.5h40.2v4.59h-40.2zM624.7 892.9h40.2v8.73h-40.2zM624.7 934.3h40.2v4.59h-40.2zM624.7 1037.7h40.2v4.59h-40.2zM624.7 1166.0h40.2v4.59h-40.2zM624.7 1215.6h40.2v8.73h-40.2zM624.7 1248.7h40.2v4.59h-40.2zM624.7 1277.7h40.2v4.59h-40.2zM624.7 1339.7h40.2v4.59h-40.2zM624.7 1356.3h40.2v8.73h-40.2zM624.7 1521.8h40.2v12.86h-40.2zM624.7 1583.9h40.2v4.59h-40.2zM624.7 1592.1h40.2v4.59h-40.2zM664.9 839.1h40.2v8.73h-40.2zM664.9 851.5h40.2v4.59h-40.2zM664.9 917.7h40.2v4.59h-40.2zM664.9 926.0h40.2v4.59h-40.2zM664.9 959.1h40.2v4.59h-40.2zM664.9 1012.9h40.2v4.59h-40.2zM664.9 1041.8h40.2v4.59h-40.2zM664.9 1054.3h40.2v4.59h-40.2zM664.9 1062.5h40.2v4.59h-40.2zM664.9 1074.9h40.2v4.59h-40.2zM664.9 1108.0h40.2v4.59h-40.2zM664.9 1116.3h40.2v12.86h-40.2zM664.9 1141.1h40.2v4.59h-40.2zM664.9 1194.9h40.2v4.59h-40.2zM664.9 1203.2h40.2v4.59h-40.2zM664.9 1219.8h40.2v4.59h-40.2zM664.9 1236.3h40.2v4.59h-40.2zM664.9 1273.5h40.2v8.73h-40.2zM664.9 1306.6h40.2v4.59h-40.2zM664.9 1319.1h40.2v8.73h-40.2zM664.9 1348.0h40.2v4.59h-40.2zM664.9 1368.7h40.2v4.59h-40.2zM664.9 1381.1h40.2v4.59h-40.2zM664.9 1393.5h40.2v4.59h-40.2zM664.9 1406.0h40.2v4.59h-40.2zM664.9 1434.9h40.2v8.73h-40.2zM664.9 1476.3h40.2v4.59h-40.2zM664.9 1484.6h40.2v4.59h-40.2zM664.9 1513.5h40.2v4.59h-40.2zM664.9 1542.5h40.2v4.59h-40.2zM664.9 1583.9h40.2v4.59h-40.2zM705.0 793.6h40.2v4.59h-40.2zM705.0 859.8h40.2v4.59h-40.2zM705.0 872.2h40.2v4.59h-40.2zM705.0 913.6h40.2v4.59h-40.2zM705.0 930.1h40.2v8.73h-40.2zM705.0 942.5h40.2v4.59h-40.2zM705.0 955.0h40.2v8.73h-40.2zM705.0 971.5h40.2v4.59h-40.2zM705.0 1017.0h40.2v4.59h-40.2zM705.0 1037.7h40.2v4.59h-40.2zM705.0 1070.8h40.2v4.59h-40.2zM705.0 1281.8h40.2v4.59h-40.2zM705.0 1339.7h40.2v4.59h-40.2zM705.0 1372.8h40.2v4.59h-40.2zM705.0 1463.9h40.2v4.59h-40.2zM705.0 1472.2h40.2v4.59h-40.2zM705.0 1509.4h40.2v4.59h-40.2zM745.2 818.4h40.2v12.86h-40.2zM745.2 1025.3h40.2v4.59h-40.2zM745.2 1046.0h40.2v4.59h-40.2zM745.2 1066.7h40.2v8.73h-40.2zM745.2 1132.9h40.2v4.59h-40.2zM745.2 1145.3h40.2v4.59h-40.2zM745.2 1153.6h40.2v4.59h-40.2zM745.2 1203.2h40.2v8.73h-40.2zM745.2 1281.8h40.2v4.59h-40.2zM745.2 1389.4h40.2v4.59h-40.2zM745.2 1463.9h40.2v4.59h-40.2zM745.2 1472.2h40.2v4.59h-40.2zM745.2 1575.6h40.2v4.59h-40.2z"/>
<path fill="#9372de" d="M142.6 1633.5h40.2v4.59h-40.2zM142.6 1641.8h40.2v4.59h-40.2zM142.6 1674.9h40.2v4.59h-40.2zM142.6 1703.9h40.2v4.59h-40.2zM142.6 1712.1h40.2v4.59h-40.2zM142.6 1902.5h40.2v8.73h-40.2zM142.6 1985.2h40.2v4.59h-40.2zM182.8 1617.0h40.2v4.59h-40.2zM182.8 1625.2h40.2v8.73h-40.2zM182.8 1658.3h40.2v4.59h-40.2zM182.8 1679.0h40.2v4.59h-40.2zM182.8 1703.9h40.2v4.59h-40.2zM182.8 1919.0h40.2v4.59h-40.2zM182.8 1935.6h40.2v4.59h-40.2zM222.9 1894.2h40.2v4.59h-40.2zM222.9 1914.9h40.2v4.59h-40.2zM222.9 1923.1h40.2v4.59h-40.2zM222.9 1956.2h40.2v4.59h-40.2zM263.1 1865.2h40.2v4.59h-40.2zM263.1 1873.5h40.2v4.59h-40.2zM263.1 1894.2h40.2v4.59h-40.2zM303.3 1617.0h40.2v4.59h-40.2zM303.3 1625.2h40.2v4.59h-40.2zM303.3 1645.9h40.2v8.73h-40.2zM303.3 1683.2h40.2v4.59h-40.2zM303.3 1712.1h40.2v4.59h-40.2zM343.5 1621.1h40.2v4.59h-40.2zM343.5 1629.4h40.2v8.73h-40.2zM343.5 1641.8h40.2v4.59h-40.2zM343.5 1687.3h40.2v4.59h-40.2zM343.5 1716.3h40.2v4.59h-40.2zM343.5 1724.5h40.2v4.59h-40.2zM343.5 1737.0h40.2v8.73h-40.2zM343.5 1765.9h40.2v4.59h-40.2zM343.5 1774.2h40.2v4.59h-40.2zM343.5 1794.9h40.2v8.73h-40.2zM343.5 1848.7h40.2v8.73h-40.2zM343.5 1877.6h40.2v4.59h-40.2zM383.6 826.7h40.2v4.59h-40.2zM423.8 818.4h40.2v8.73h-40.2zM423.8 847.4h40.2v4.59h-40.2zM423.8 888.8h40.2v4.59h-40.2zM423.8 909.4h40.2v4.59h-40.2zM423.8 1074.9h40.2v4.59h-40.2zM423.8 1265.3h40.2v4.59h-40.2zM464.0 806.0h40.2v4.59h-40.2zM464.0 814.3h40.2v4.59h-40.2zM464.0 830.8h40.2v4.59h-40.2zM464.0 1124.6h40.2v4.59h-40.2zM464.0 1153.6h40.2v8.73h-40.2zM504.2 830.8h40.2v8.73h-40.2zM504.2 863.9h40.2v4.59h-40.2zM504.2 884.6h40.2v4.59h-40.2zM504.2 901.2h40.2v4.59h-40.2zM504.2 917.7h40.2v12.86h-40.2zM504.2 1000.5h40.2v4.59h-40.2zM504.2 1012.9h40.2v4.59h-40.2zM504.2 1025.3h40.2v4.59h-40.2zM504.2 1037.7h40.2v8.73h-40.2zM504.2 1050.1h40.2v4.59h-40.2zM504.2 1079.1h40.2v4.59h-40.2zM504.2 1095.6h40.2v4.59h-40.2zM504.2 1124.6h40.2v8.73h-40.2zM504.2 1166.0h40.2v4.59h-40.2zM504.2 1381.1h40.2v4.59h-40.2zM544.4 830.8h40.2v12.86h-40.2zM544.4 847.4h40.2v4.59h-40.2zM544.4 859.8h40.2v4.59h-40.2zM544.4 905.3h40.2v4.59h-40.2zM544.4 975.6h40.2v4.59h-40.2zM544.4 1004.6h40.2v4.59h-40.2zM544.4 1012.9h40.2v4.59h-40.2zM544.4 1025.3h40.2v17.00h-40.2zM544.4 1103.9h40.2v4.59h-40.2zM544.4 1145.3h40.2v4.59h-40.2zM544.4 1650.1h40.2v4.59h-40.2zM544.4 1679.0h40.2v4.59h-40.2zM544.4 1691.4h40.2v4.59h-40.2zM544.4 1699.7h40.2v8.73h-40.2zM544.4 1720.4h40.2v4.59h-40.2zM584.5 801.9h40.2v4.59h-40.2zM584.5 921.9h40.2v4.59h-40.2zM584.5 1004.6h40.2v4.59h-40.2zM584.5 1054.3h40.2v8.73h-40.2zM584.5 1323.2h40.2v4.59h-40.2zM584.5 1472.2h40.2v4.59h-40.2zM584.5 1497.0h40.2v4.59h-40.2zM624.7 872.2h40.2v4.59h-40.2zM624.7 917.7h40.2v4.59h-40.2zM624.7 930.1h40.2v4.59h-40.2zM624.7 1182.5h40.2v4.59h-40.2zM624.7 1203.2h40.2v12.86h-40.2zM624.7 1240.4h40.2v4.59h-40.2zM624.7 1281.8h40.2v4.59h-40.2zM624.7 1352.2h40.2v4.59h-40.2zM624.7 1364.6h40.2v4.59h-40.2zM624.7 1377.0h40.2v4.59h-40.2zM624.7 1430.8h40.2v4.59h-40.2zM624.7 1513.5h40.2v4.59h-40.2zM664.9 942.5h40.2v4.59h-40.2zM664.9 950.8h40.2v4.59h-40.2zM664.9 963.2h40.2v4.59h-40.2zM664.9 975.6h40.2v21.14h-40.2zM664.9 1000.5h40.2v8.73h-40.2zM664.9 1079.1h40.2v4.59h-40.2zM664.9 1137.0h40.2v4.59h-40.2zM664.9 1166.0h40.2v4.59h-40.2zM664.9 1178.4h40.2v4.59h-40.2zM664.9 1190.8h40.2v4.59h-40.2zM664.9 1211.5h40.2v4.59h-40.2zM664.9 1281.8h40.2v4.59h-40.2zM664.9 1327.3h40.2v4.59h-40.2zM664.9 1343.9h40.2v4.59h-40.2zM664.9 1352.2h40.2v8.73h-40.2zM664.9 1372.8h40.2v4.59h-40.2zM664.9 1468.0h40.2v4.59h-40.2zM664.9 1480.4h40.2v4.59h-40.2zM664.9 1517.7h40.2v4.59h-40.2zM664.9 1567.3h40.2v4.59h-40.2zM664.9 1579.7h40.2v4.59h-40.2zM705.0 830.8h40.2v4.59h-40.2zM705.0 839.1h40.2v4.59h-40.2zM705.0 851.5h40.2v4.59h-40.2zM705.0 863.9h40.2v4.59h-40.2zM705.0 880.5h40.2v4.59h-40.2zM705.0 901.2h40.2v4.59h-40.2zM705.0 996.3h40.2v4.59h-40.2zM705.0 1008.7h40.2v4.59h-40.2zM705.0 1046.0h40.2v4.59h-40.2zM705.0 1062.5h40.2v4.59h-40.2zM705.0 1083.2h40.2v8.73h-40.2zM705.0 1223.9h40.2v8.73h-40.2zM705.0 1257.0h40.2v4.59h-40.2zM705.0 1269.4h40.2v12.86h-40.2zM705.0 1286.0h40.2v4.59h-40.2zM705.0 1335.6h40.2v4.59h-40.2zM705.0 1381.1h40.2v4.59h-40.2zM705.0 1459.7h40.2v4.59h-40.2zM705.0 1476.3h40.2v4.59h-40.2zM705.0 1492.8h40.2v8.73h-40.2zM705.0 1505.3h40.2v4.59h-40.2zM705.0 1513.5h40.2v8.73h-40.2zM705.0 1554.9h40.2v4.59h-40.2zM745.2 1029.4h40.2v12.86h-40.2zM745.2 1116.3h40.2v8.73h-40.2zM745.2 1137.0h40.2v8.73h-40.2zM745.2 1170.1h40.2v4.59h-40.2zM745.2 1182.5h40.2v4.59h-40.2zM745.2 1194.9h40.2v4.59h-40.2zM745.2 1335.6h40.2v4.59h-40.2zM745.2 1343.9h40.2v4.59h-40.2zM745.2 1356.3h40.2v4.59h-40.2zM745.2 1364.6h40.2v8.73h-40.2zM745.2 1430.8h40.2v4.59h-40.2zM745.2 1468.0h40.2v4.59h-40.2zM745.2 1476.3h40.2v8.73h-40.2zM745.2 1571.5h40.2v4.59h-40.2z"/>
<path fill="#7a56da" d="M142.6 1617.0h40.2v4.59h-40.2zM142.6 1637.7h40.2v4.59h-40.2zM142.6 1662.5h40.2v4.59h-40.2zM142.6 1737.0h40.2v4.59h-40.2zM142.6 1898.3h40.2v4.59h-40.2zM182.8 1645.9h40.2v4.59h-40.2zM182.8 1666.6h40.2v4.59h-40.2zM182.8 1683.2h40.2v8.73h-40.2zM182.8 1716.3h40.2v12.86h-40.2zM182.8 1898.3h40.2v4.59h-40.2zM182.8 1939.7h40.2v4.59h-40.2zM182.8 1960.4h40.2v4.59h-40.2zM182.8 1981.1h40.2v8.73h-40.2zM222.9 1898.3h40.2v8.73h-40.2zM222.9 1952.1h40.2v4.59h-40.2zM303.3 1629.4h40.2v4.59h-40.2zM303.3 1637.7h40.2v4.59h-40.2zM343.5 1617.0h40.2v4.59h-40.2zM343.5 1654.2h40.2v4.59h-40.2zM343.5 1666.6h40.2v8.73h-40.2zM343.5 1691.4h40.2v4.59h-40.2zM343.5 1699.7h40.2v8.73h-40.2zM343.5 1728.7h40.2v4.59h-40.2zM343.5 1803.2h40.2v4.59h-40.2zM383.6 835.0h40.2v4.59h-40.2zM383.6 843.2h40.2v4.59h-40.2zM383.6 868.1h40.2v4.59h-40.2zM423.8 814.3h40.2v4.59h-40.2zM423.8 826.7h40.2v4.59h-40.2zM423.8 897.0h40.2v4.59h-40.2zM423.8 905.3h40.2v4.59h-40.2zM423.8 913.6h40.2v4.59h-40.2zM423.8 1066.7h40.2v4.59h-40.2zM423.8 1083.2h40.2v4.59h-40.2zM423.8 1186.7h40.2v4.59h-40.2zM423.8 1269.4h40.2v4.59h-40.2zM464.0 801.9h40.2v4.59h-40.2zM464.0 818.4h40.2v4.59h-40.2zM464.0 1066.7h40.2v4.59h-40.2zM464.0 1112.2h40.2v4.59h-40.2zM504.2 806.0h40.2v4.59h-40.2zM504.2 892.9h40.2v4.59h-40.2zM504.2 963.2h40.2v4.59h-40.2zM504.2 975.6h40.2v4.59h-40.2zM504.2 988.1h40.2v4.59h-40.2zM504.2 1008.7h40.2v4.59h-40.2zM504.2 1017.0h40.2v4.59h-40.2zM504.2 1054.3h40.2v4.59h-40.2zM504.2 1091.5h40.2v4.59h-40.2zM504.2 1137.0h40.2v4.59h-40.2zM544.4 851.5h40.2v4.59h-40.2zM544.4 868.1h40.2v4.59h-40.2zM544.4 876.3h40.2v4.59h-40.2zM544.4 897.0h40.2v8.73h-40.2zM544.4 913.6h40.2v4.59h-40.2zM544.4 955.0h40.2v4.59h-40.2zM544.4 967.4h40.2v4.59h-40.2zM544.4 992.2h40.2v4.59h-40.2zM544.4 1008.7h40.2v4.59h-40.2zM544.4 1021.2h40.2v4.59h-40.2zM544.4 1645.9h40.2v4.59h-40.2zM544.4 1654.2h40.2v4.59h-40.2zM544.4 1683.2h40.2v4.59h-40.2zM584.5 797.7h40.2v4.59h-40.2zM584.5 942.5h40.2v12.86h-40.2zM584.5 1128.7h40.2v4.59h-40.2zM584.5 1596.3h40.2v4.59h-40.2zM624.7 847.4h40.2v4.59h-40.2zM624.7 1174.2h40.2v4.59h-40.2zM624.7 1190.8h40.2v4.59h-40.2zM624.7 1223.9h40.2v12.86h-40.2zM624.7 1600.4h40.2v4.59h-40.2zM664.9 847.4h40.2v4.59h-40.2zM664.9 921.9h40.2v4.59h-40.2zM664.9 930.1h40.2v4.59h-40.2zM664.9 946.7h40.2v4.59h-40.2zM664.9 955.0h40.2v4.59h-40.2zM664.9 967.4h40.2v8.73h-40.2zM664.9 996.3h40.2v4.59h-40.2zM664.9 1112.2h40.2v4.59h-40.2zM664.9 1145.3h40.2v4.59h-40.2zM664.9 1157.7h40.2v8.73h-40.2zM664.9 1174.2h40.2v4.59h-40.2zM664.9 1199.1h40.2v4.59h-40.2zM664.9 1207.3h40.2v4.59h-40.2zM664.9 1232.2h40.2v4.59h-40.2zM664.9 1298.4h40.2v4.59h-40.2zM664.9 1335.6h40.2v4.59h-40.2zM664.9 1410.1h40.2v8.73h-40.2zM664.9 1422.5h40.2v8.73h-40.2zM664.9 1443.2h40.2v4.59h-40.2zM664.9 1472.2h40.2v4.59h-40.2zM705.0 876.3h40.2v4.59h-40.2zM705.0 917.7h40.2v4.59h-40.2zM705.0 938.4h40.2v4.59h-40.2zM705.0 1000.5h40.2v4.59h-40.2zM705.0 1074.9h40.2v4.59h-40.2zM705.0 1108.0h40.2v4.59h-40.2zM705.0 1132.9h40.2v4.59h-40.2zM705.0 1141.1h40.2v4.59h-40.2zM705.0 1161.8h40.2v4.59h-40.2zM705.0 1174.2h40.2v4.59h-40.2zM705.0 1182.5h40.2v4.59h-40.2zM705.0 1190.8h40.2v4.59h-40.2zM705.0 1215.6h40.2v8.73h-40.2zM705.0 1240.4h40.2v4.59h-40.2zM705.0 1265.3h40.2v4.59h-40.2zM705.0 1294.2h40.2v4.59h-40.2zM705.0 1302.5h40.2v4.59h-40.2zM705.0 1385.3h40.2v4.59h-40.2zM705.0 1468.0h40.2v4.59h-40.2zM705.0 1488.7h40.2v4.59h-40.2zM745.2 955.0h40.2v8.73h-40.2zM745.2 1062.5h40.2v4.59h-40.2zM745.2 1124.6h40.2v4.59h-40.2zM745.2 1161.8h40.2v4.59h-40.2zM745.2 1199.1h40.2v4.59h-40.2zM745.2 1265.3h40.2v4.59h-40.2zM745.2 1273.5h40.2v4.59h-40.2zM745.2 1286.0h40.2v4.59h-40.2zM745.2 1302.5h40.2v12.86h-40.2zM745.2 1348.0h40.2v4.59h-40.2zM745.2 1385.3h40.2v4.59h-40.2zM745.2 1426.6h40.2v4.59h-40.2zM745.2 1484.6h40.2v4.59h-40.2zM745.2 1492.8h40.2v8.73h-40.2zM745.2 1530.1h40.2v8.73h-40.2z"/>
<path fill="#5a40d6" d="M142.6 1612.8h40.2v4.59h-40.2zM142.6 1670.8h40.2v4.59h-40.2zM142.6 1699.7h40.2v4.59h-40.2zM142.6 1732.8h40.2v4.59h-40.2zM142.6 1741.1h40.2v4.59h-40.2zM142.6 1786.6h40.2v12.86h-40.2zM182.8 1637.7h40.2v8.73h-40.2zM182.8 1695.6h40.2v8.73h-40.2zM182.8 1708.0h40.2v8.73h-40.2zM182.8 1910.7h40.2v4.59h-40.2zM182.8 1927.3h40.2v4.59h-40.2zM182.8 1956.2h40.2v4.59h-40.2zM182.8 1972.8h40.2v8.73h-40.2zM303.3 1608.7h40.2v8.73h-40.2zM303.3 1633.5h40.2v4.59h-40.2zM303.3 1641.8h40.2v4.59h-40.2zM343.5 1674.9h40.2v4.59h-40.2zM343.5 1708.0h40.2v4.59h-40.2zM343.5 1732.8h40.2v4.59h-40.2zM343.5 1757.6h40.2v4.59h-40.2zM343.5 1807.3h40.2v8.73h-40.2zM383.6 863.9h40.2v4.59h-40.2zM383.6 872.2h40.2v4.59h-40.2zM423.8 901.2h40.2v4.59h-40.2zM423.8 1062.5h40.2v4.59h-40.2zM464.0 810.1h40.2v4.59h-40.2zM464.0 1108.0h40.2v4.59h-40.2zM504.2 810.1h40.2v4.59h-40.2zM504.2 880.5h40.2v4.59h-40.2zM504.2 888.8h40.2v4.59h-40.2zM504.2 897.0h40.2v4.59h-40.2zM504.2 946.7h40.2v8.73h-40.2zM504.2 971.5h40.2v4.59h-40.2zM504.2 996.3h40.2v4.59h-40.2zM504.2 1004.6h40.2v4.59h-40.2zM504.2 1058.4h40.2v4.59h-40.2zM504.2 1103.9h40.2v4.59h-40.2zM544.4 855.7h40.2v4.59h-40.2zM544.4 872.2h40.2v4.59h-40.2zM544.4 884.6h40.2v4.59h-40.2zM544.4 892.9h40.2v4.59h-40.2zM544.4 909.4h40.2v4.59h-40.2zM544.4 930.1h40.2v4.59h-40.2zM544.4 942.5h40.2v4.59h-40.2zM544.4 1041.8h40.2v8.73h-40.2zM544.4 1662.5h40.2v8.73h-40.2zM544.4 1708.0h40.2v4.59h-40.2zM624.7 851.5h40.2v4.59h-40.2zM624.7 863.9h40.2v4.59h-40.2zM624.7 1170.1h40.2v4.59h-40.2zM624.7 1178.4h40.2v4.59h-40.2zM624.7 1186.7h40.2v4.59h-40.2zM624.7 1199.1h40.2v4.59h-40.2zM624.7 1381.1h40.2v4.59h-40.2zM624.7 1434.9h40.2v4.59h-40.2zM624.7 1509.4h40.2v4.59h-40.2zM624.7 1604.6h40.2v4.59h-40.2zM664.9 1149.4h40.2v4.59h-40.2zM664.9 1170.1h40.2v4.59h-40.2zM664.9 1182.5h40.2v4.59h-40.2zM664.9 1215.6h40.2v4.59h-40.2zM664.9 1331.5h40.2v4.59h-40.2zM664.9 1360.4h40.2v8.73h-40.2zM664.9 1430.8h40.2v4.59h-40.2zM664.9 1451.5h40.2v4.59h-40.2zM664.9 1521.8h40.2v4.59h-40.2zM664.9 1571.5h40.2v8.73h-40.2zM705.0 1004.6h40.2v4.59h-40.2zM705.0 1079.1h40.2v4.59h-40.2zM705.0 1112.2h40.2v12.86h-40.2zM705.0 1128.7h40.2v4.59h-40.2zM705.0 1137.0h40.2v4.59h-40.2zM705.0 1145.3h40.2v4.59h-40.2zM705.0 1157.7h40.2v4.59h-40.2zM705.0 1170.1h40.2v4.59h-40.2zM705.0 1178.4h40.2v4.59h-40.2zM705.0 1248.7h40.2v8.73h-40.2zM705.0 1261.1h40.2v4.59h-40.2zM705.0 1290.1h40.2v4.59h-40.2zM705.0 1306.6h40.2v12.86h-40.2zM705.0 1377.0h40.2v4.59h-40.2zM705.0 1389.4h40.2v4.59h-40.2zM705.0 1439.1h40.2v4.59h-40.2zM705.0 1455.6h40.2v4.59h-40.2zM745.2 950.8h40.2v4.59h-40.2zM745.2 1091.5h40.2v8.73h-40.2zM745.2 1103.9h40.2v4.59h-40.2zM745.2 1112.2h40.2v4.59h-40.2zM745.2 1149.4h40.2v4.59h-40.2zM745.2 1157.7h40.2v4.59h-40.2zM745.2 1211.5h40.2v4.59h-40.2zM745.2 1232.2h40.2v4.59h-40.2zM745.2 1277.7h40.2v4.59h-40.2zM745.2 1294.2h40.2v4.59h-40.2zM745.2 1314.9h40.2v8.73h-40.2zM745.2 1393.5h40.2v4.59h-40.2zM745.2 1434.9h40.2v8.73h-40.2zM745.2 1459.7h40.2v4.59h-40.2zM745.2 1488.7h40.2v4.59h-40.2z"/>
<path fill="#3130d1" d="M142.6 1650.1h40.2v8.73h-40.2zM142.6 1683.2h40.2v4.59h-40.2zM142.6 1716.3h40.2v4.59h-40.2zM142.6 1749.4h40.2v4.59h-40.2zM142.6 1765.9h40.2v4.59h-40.2zM142.6 1865.2h40.2v8.73h-40.2zM142.6 1877.6h40.2v4.59h-40.2zM142.6 1927.3h40.2v17.00h-40.2zM182.8 1691.4h40.2v4.59h-40.2zM182.8 1881.8h40.2v8.73h-40.2zM182.8 1906.6h40.2v4.59h-40.2zM182.8 1923.1h40.2v4.59h-40.2zM182.8 1968.7h40.2v4.59h-40.2zM222.9 1976.9h40.2v8.73h-40.2zM263.1 1869.4h40.2v4.59h-40.2zM303.3 1819.7h40.2v4.59h-40.2zM343.5 1600.4h40.2v12.86h-40.2zM343.5 1683.2h40.2v4.59h-40.2zM343.5 1745.2h40.2v12.86h-40.2zM343.5 1815.6h40.2v4.59h-40.2zM423.8 1248.7h40.2v4.59h-40.2zM464.0 797.7h40.2v4.59h-40.2zM464.0 826.7h40.2v4.59h-40.2zM464.0 1062.5h40.2v4.59h-40.2zM504.2 814.3h40.2v4.59h-40.2zM504.2 826.7h40.2v4.59h-40.2zM504.2 930.1h40.2v4.59h-40.2zM504.2 955.0h40.2v4.59h-40.2zM504.2 967.4h40.2v4.59h-40.2zM504.2 979.8h40.2v4.59h-40.2zM544.4 988.1h40.2v4.59h-40.2zM544.4 1050.1h40.2v4.59h-40.2zM544.4 1116.3h40.2v4.59h-40.2zM544.4 1658.3h40.2v4.59h-40.2zM584.5 1281.8h40.2v4.59h-40.2zM584.5 1290.1h40.2v4.59h-40.2zM624.7 1488.7h40.2v4.59h-40.2zM624.7 1501.1h40.2v8.73h-40.2zM624.7 1588.0h40.2v4.59h-40.2zM664.9 1153.6h40.2v4.59h-40.2zM664.9 1186.7h40.2v4.59h-40.2zM664.9 1302.5h40.2v4.59h-40.2zM664.9 1447.3h40.2v4.59h-40.2zM664.9 1459.7h40.2v4.59h-40.2zM664.9 1501.1h40.2v4.59h-40.2zM705.0 1066.7h40.2v4.59h-40.2zM705.0 1124.6h40.2v4.59h-40.2zM705.0 1149.4h40.2v8.73h-40.2zM705.0 1166.0h40.2v4.59h-40.2zM705.0 1186.7h40.2v4.59h-40.2zM705.0 1194.9h40.2v4.59h-40.2zM705.0 1203.2h40.2v4.59h-40.2zM705.0 1232.2h40.2v8.73h-40.2zM705.0 1244.6h40.2v4.59h-40.2zM705.0 1298.4h40.2v4.59h-40.2zM705.0 1319.1h40.2v8.73h-40.2zM705.0 1343.9h40.2v17.00h-40.2zM705.0 1364.6h40.2v4.59h-40.2zM705.0 1393.5h40.2v4.59h-40.2zM705.0 1401.8h40.2v29.41h-40.2zM705.0 1434.9h40.2v4.59h-40.2zM705.0 1443.2h40.2v4.59h-40.2zM705.0 1451.5h40.2v4.59h-40.2zM705.0 1521.8h40.2v8.73h-40.2zM705.0 1546.6h40.2v8.73h-40.2zM705.0 1563.2h40.2v8.73h-40.2zM745.2 963.2h40.2v4.59h-40.2zM745.2 1099.8h40.2v4.59h-40.2zM745.2 1108.0h40.2v4.59h-40.2zM745.2 1186.7h40.2v8.73h-40.2zM745.2 1215.6h40.2v17.00h-40.2zM745.2 1236.3h40.2v12.86h-40.2zM745.2 1257.0h40.2v8.73h-40.2zM745.2 1269.4h40.2v4.59h-40.2zM745.2 1327.3h40.2v4.59h-40.2zM745.2 1352.2h40.2v4.59h-40.2zM745.2 1372.8h40.2v4.59h-40.2zM745.2 1410.1h40.2v8.73h-40.2zM745.2 1447.3h40.2v8.73h-40.2zM745.2 1546.6h40.2v4.59h-40.2zM745.2 1554.9h40.2v17.00h-40.2zM745.2 1583.9h40.2v12.86h-40.2z"/>
<path fill="#0820cd" d="M142.6 1645.9h40.2v4.59h-40.2zM142.6 1658.3h40.2v4.59h-40.2zM142.6 1679.0h40.2v4.59h-40.2zM142.6 1687.3h40.2v8.73h-40.2zM142.6 1720.4h40.2v8.73h-40.2zM142.6 1745.2h40.2v4.59h-40.2zM142.6 1753.5h40.2v12.86h-40.2zM142.6 1778.3h40.2v8.73h-40.2zM142.6 1873.5h40.2v4.59h-40.2zM142.6 1919.0h40.2v8.73h-40.2zM142.6 1943.8h40.2v29.41h-40.2zM182.8 1662.5h40.2v4.59h-40.2zM182.8 1728.7h40.2v136.99h-40.2zM182.8 1890.0h40.2v8.73h-40.2zM182.8 1902.5h40.2v4.59h-40.2zM182.8 1914.9h40.2v4.59h-40.2zM182.8 1964.5h40.2v4.59h-40.2zM222.9 1948.0h40.2v4.59h-40.2zM222.9 1985.2h40.2v4.59h-40.2zM303.3 1600.4h40.2v8.73h-40.2zM303.3 1919.0h40.2v4.59h-40.2zM343.5 1658.3h40.2v8.73h-40.2zM343.5 1720.4h40.2v4.59h-40.2zM343.5 1770.1h40.2v4.59h-40.2zM343.5 1856.9h40.2v8.73h-40.2zM383.6 1273.5h40.2v8.73h-40.2zM423.8 1252.9h40.2v12.86h-40.2zM464.0 789.5h40.2v8.73h-40.2zM464.0 822.6h40.2v4.59h-40.2zM464.0 1244.6h40.2v4.59h-40.2zM504.2 868.1h40.2v12.86h-40.2zM504.2 992.2h40.2v4.59h-40.2zM544.4 934.3h40.2v8.73h-40.2zM544.4 946.7h40.2v8.73h-40.2zM544.4 971.5h40.2v4.59h-40.2zM544.4 1054.3h40.2v4.59h-40.2zM584.5 1286.0h40.2v4.59h-40.2zM584.5 1294.2h40.2v4.59h-40.2zM624.7 1476.3h40.2v12.86h-40.2zM624.7 1492.8h40.2v8.73h-40.2zM624.7 1596.3h40.2v4.59h-40.2zM624.7 1608.7h40.2v4.59h-40.2zM664.9 1294.2h40.2v4.59h-40.2zM664.9 1418.4h40.2v4.59h-40.2zM664.9 1455.6h40.2v4.59h-40.2zM664.9 1463.9h40.2v4.59h-40.2zM705.0 797.7h40.2v8.73h-40.2zM705.0 1050.1h40.2v12.86h-40.2zM705.0 1199.1h40.2v4.59h-40.2zM705.0 1207.3h40.2v8.73h-40.2zM705.0 1327.3h40.2v8.73h-40.2zM705.0 1360.4h40.2v4.59h-40.2zM705.0 1368.7h40.2v4.59h-40.2zM705.0 1397.7h40.2v4.59h-40.2zM705.0 1430.8h40.2v4.59h-40.2zM705.0 1447.3h40.2v4.59h-40.2zM705.0 1530.1h40.2v17.00h-40.2zM705.0 1559.0h40.2v4.59h-40.2zM705.0 1571.5h40.2v17.00h-40.2zM745.2 971.5h40.2v4.59h-40.2zM745.2 1290.1h40.2v4.59h-40.2zM745.2 1298.4h40.2v4.59h-40.2zM745.2 1323.2h40.2v4.59h-40.2zM745.2 1339.7h40.2v4.59h-40.2zM745.2 1377.0h40.2v8.73h-40.2zM745.2 1397.7h40.2v12.86h-40.2zM745.2 1443.2h40.2v4.59h-40.2zM745.2 1455.6h40.2v4.59h-40.2zM745.2 1501.1h40.2v29.41h-40.2zM745.2 1538.4h40.2v8.73h-40.2zM745.2 1550.8h40.2v4.59h-40.2zM745.2 1596.3h40.2v8.73h-40.2z"/>
<path d="M182.8 789.6V1989.5M222.9 789.6V1989.5M263.1 789.6V1989.5M303.3 789.6V1989.5M343.5 789.6V1989.5M383.6 789.6V1989.5M423.8 789.6V1989.5M464.0 789.6V1989.5M504.2 789.6V1989.5M544.4 789.6V1989.5M584.5 789.6V1989.5M624.7 789.6V1989.5M664.9 789.6V1989.5M705.0 789.6V1989.5M745.2 789.6V1989.5" stroke="#d9cdbd" stroke-width="0.6" stroke-opacity="0.6" fill="none"/>
</g>
<rect x="142.6" y="786.4" width="243.7" height="2.4" fill="#138a7c"/>
<rect x="386.3" y="786.4" width="399" height="2.4" fill="#4fd6d0"/>
<rect x="142.6" y="783" width="643" height="2.6" fill="#8a9a3a" opacity="0.55"/>
<rect x="146.4" y="746" width="640" height="35" fill="#fff"/>
<rect x="147.4" y="747" width="38" height="33.5" fill="#00b050"/>
<rect x="187.4" y="747" width="38" height="33.5" fill="#ff9100"/>
<rect x="227.4" y="747" width="38" height="33.5" fill="#ff9100"/>
<rect x="267.4" y="747" width="38" height="33.5" fill="#00b050"/>
<rect x="307.4" y="747" width="38" height="33.5" fill="#00b050"/>
<rect x="347.4" y="747" width="38" height="33.5" fill="#ff9100"/>
<rect x="387.4" y="747" width="38" height="33.5" fill="#fe0000"/>
<rect x="427.4" y="747" width="38" height="33.5" fill="#fe0000"/>
<rect x="467.4" y="747" width="38" height="33.5" fill="#fe0000"/>
<rect x="507.4" y="747" width="38" height="33.5" fill="#fe0000"/>
<rect x="547.4" y="747" width="38" height="33.5" fill="#fe0000"/>
<rect x="587.4" y="747" width="38" height="33.5" fill="#fe0000"/>
<rect x="627.4" y="747" width="38" height="33.5" fill="#fe0000"/>
<rect x="667.4" y="747" width="38" height="33.5" fill="#fe0000"/>
<rect x="707.4" y="747" width="38" height="33.5" fill="#fe0000"/>
<rect x="747.4" y="747" width="38" height="33.5" fill="#fe0000"/>
<rect x="145.4" y="746.5" width="642" height="34.5" fill="none" stroke="#000" stroke-width="3.6"/>
<line x1="386.6" y1="745" x2="386.6" y2="782.5" stroke="#000" stroke-width="3.6" />
<path d="M250 745 V741.5 H418 M418 741.5 H645 V745" stroke="#ddd" stroke-width="1" fill="none" />
<path d="M143.6 739 V719 H381.2 V739 M246 719 V701" stroke="#000" stroke-width="5" fill="none" />
<path d="M390.3 739 V727 Q390.3 719 398.5 719 H539 Q547 719 547.3 701 Q547.6 719 556 719 H770 Q778.3 719 778.3 727 V739" stroke="#000" stroke-width="5" fill="none" stroke-linejoin="round"/>
<path d="M786 792.0H790.7V798.9H786M786 801.8H791.0V810.2H786M786 813.7H788.3V824.9H786M786 829.7H792.2V834.1H786M786 835.9H789.2V843.1H786M786 846.1H790.4V861.4H786M786 868.0H790.4V881.6H786M786 887.4H788.8V898.8H786M786 903.6H792.3V914.9H786M786 919.8H791.7V929.9H786M786 934.2H788.3V945.9H786M786 950.9H791.0V963.6H786M786 969.0H788.2V976.6H786M786 979.9H790.4V993.8H786M786 999.7H792.4V1012.0H786M786 1017.2H792.6V1029.4H786M786 1034.6H792.0V1043.3H786M786 1047.0H792.7V1056.1H786M786 1060.1H788.5V1074.1H786M786 1080.1H789.1V1085.9H786M786 1088.3H790.2V1103.3H786M786 1109.8H789.5V1121.0H786M786 1125.8H789.9V1135.7H786M786 1139.9H790.9V1148.0H786M786 1151.5H792.5V1162.3H786M786 1166.9H792.6V1178.7H786M786 1183.8H793.0V1197.6H786M786 1203.5H788.8V1215.2H786M786 1220.2H792.8V1234.1H786M786 1240.0H790.8V1254.3H786M786 1260.5H789.1V1272.7H786M786 1277.9H790.9V1291.4H786M786 1297.2H788.3V1304.6H786M786 1307.7H792.9V1321.5H786M786 1327.4H792.0V1332.6H786M786 1334.8H788.8V1343.6H786M786 1347.4H791.8V1354.9H786M786 1358.1H788.2V1372.1H786M786 1378.1H788.2V1389.1H786M786 1393.9H789.7V1406.1H786M786 1411.4H792.9V1425.5H786M786 1431.5H793.0V1441.3H786M786 1445.6H788.4V1453.2H786M786 1456.5H788.2V1467.4H786M786 1472.1H790.0V1478.5H786M786 1481.3H788.8V1492.3H786M786 1497.0H792.3V1501.7H786M786 1503.7H792.8V1511.4H786M786 1514.7H789.9V1529.0H786M786 1535.1H790.6V1544.4H786M786 1548.5H791.0V1559.9H786M786 1564.8H791.1V1575.2H786M786 1579.7H790.5V1594.4H786M786 1600.8H791.6V1609.8H786M786 1613.7H789.5V1620.5H786M786 1623.5H790.6V1638.6H786M786 1645.1H788.1V1655.4H786M786 1659.9H790.9V1668.7H786M786 1672.5H791.1V1676.9H786M786 1678.8H788.3V1690.1H786M786 1695.0H790.3V1706.2H786M786 1711.0H789.8V1722.8H786M786 1727.9H791.7V1740.0H786M786 1745.2H788.3V1749.6H786M786 1751.5H792.8V1763.3H786M786 1768.3H790.3V1775.4H786M786 1778.4H789.6V1789.2H786M786 1793.8H789.6V1802.1H786M786 1805.7H791.0V1814.0H786M786 1817.6H789.9V1825.1H786M786 1828.4H788.1V1841.2H786M786 1846.7H791.7V1857.3H786M786 1861.8H789.1V1869.5H786M786 1872.8H789.2V1886.0H786M786 1891.7H790.2V1898.0H786M786 1900.7H788.5V1912.7H786M786 1917.8H789.7V1925.6H786M786 1929.0H790.2V1942.5H786M786 1948.3H788.8V1962.1H786M786 1968.0H791.3V1976.0H786M786 1979.4H790.3V1993.5H786" stroke="#c9c9c9" stroke-width="0.8" fill="none" />
<path d="M796 800 V1590 M799 1000 V1980 M796 1600 V1985" stroke="#cfcfcf" stroke-width="1" fill="none" />
<defs><linearGradient id="zg" x1="0" y1="0" x2="0" y2="1"><stop offset="0" stop-color="#2a14c8"/><stop offset="0.25" stop-color="#9578dc"/><stop offset="0.5" stop-color="#fffdf4"/><stop offset="0.75" stop-color="#fdd290"/><stop offset="1" stop-color="#ffa000"/></linearGradient></defs>
<rect x="70.2" y="1894" width="18.5" height="91" fill="url(#zg)"/>
<path d="M70.2 1896.5 h3.5 M85.2 1896.5 h3.5" stroke="#fff" stroke-width="1" fill="none" />
<path d="M70.2 1917.5 h3.5 M85.2 1917.5 h3.5" stroke="#fff" stroke-width="1" fill="none" />
<path d="M70.2 1939.5 h3.5 M85.2 1939.5 h3.5" stroke="#fff" stroke-width="1" fill="none" />
<path d="M70.2 1961 h3.5 M85.2 1961 h3.5" stroke="#fff" stroke-width="1" fill="none" />
<path d="M70.2 1982.5 h3.5 M85.2 1982.5 h3.5" stroke="#fff" stroke-width="1" fill="none" />
<text x="70.2" y="1889.2" font-size="12" font-weight="bold" style="font-family:&quot;DejaVu Sans&quot;,sans-serif" textLength="55.3" lengthAdjust="spacingAndGlyphs">z-score</text>
<text x="91.5" y="1903" font-size="12.5">2</text>
<text x="91.5" y="1924.7" font-size="12.5">1</text>
<text x="91.5" y="1945" font-size="12.5">0</text>
<text x="91.5" y="1967" font-size="12.5">-1</text>
<text x="91.5" y="1987.7" font-size="12.5">-2</text>
<ellipse cx="1418" cy="742.5" rx="197" ry="122.5" fill="#f0fafd"/>
<ellipse cx="1265.6" cy="933.4" rx="71.4" ry="56" fill="#f0fafd"/>
<ellipse cx="1085.8" cy="1013.2" rx="165.8" ry="78.8" fill="#f0fafd"/>
<ellipse cx="1788.7" cy="882" rx="59" ry="57.3" fill="#f0fafd"/>
<ellipse cx="1540.3" cy="984" rx="88.7" ry="58" fill="#f0fafd"/>
<ellipse cx="1773.7" cy="1096.3" rx="119" ry="84.3" fill="#f0fafd"/>
<ellipse cx="1109.3" cy="1208.2" rx="65.6" ry="64.8" fill="#f0fafd"/>
<ellipse cx="1359.7" cy="1150.8" rx="78.3" ry="81" fill="#f0fafd"/>
<ellipse cx="1556.4" cy="1230.5" rx="63.3" ry="62.4" fill="#f0fafd"/>
<ellipse cx="1418" cy="742.5" rx="197" ry="122.5" fill="none" stroke="#2a2a2a" stroke-width="1.5"/>
<ellipse cx="1265.6" cy="933.4" rx="71.4" ry="56" fill="none" stroke="#2a2a2a" stroke-width="1.5"/>
<ellipse cx="1085.8" cy="1013.2" rx="165.8" ry="78.8" fill="none" stroke="#2a2a2a" stroke-width="1.5"/>
<ellipse cx="1788.7" cy="882" rx="59" ry="57.3" fill="none" stroke="#2a2a2a" stroke-width="1.5"/>
<ellipse cx="1540.3" cy="984" rx="88.7" ry="58" fill="none" stroke="#2a2a2a" stroke-width="1.5"/>
<ellipse cx="1773.7" cy="1096.3" rx="119" ry="84.3" fill="none" stroke="#2a2a2a" stroke-width="1.5"/>
<ellipse cx="1109.3" cy="1208.2" rx="65.6" ry="64.8" fill="none" stroke="#2a2a2a" stroke-width="1.5"/>
<ellipse cx="1359.7" cy="1150.8" rx="78.3" ry="81" fill="none" stroke="#2a2a2a" stroke-width="1.5"/>
<ellipse cx="1556.4" cy="1230.5" rx="63.3" ry="62.4" fill="none" stroke="#2a2a2a" stroke-width="1.5"/>
<text x="1325.5" y="558.8" font-size="37" font-weight="bold" textLength="215" lengthAdjust="spacing">Responders</text>
<path d="M1329.7 658L1360.8 693.6M1329.7 658L1304 700.5M1329.7 658L1331.4 729.9M1439.2 667L1360.8 693.6M1439.2 667L1462.4 706.7M1439.2 667L1416.8 718.5M1439.2 667L1436.8 748.2M1360.8 693.6L1304 700.5M1360.8 693.6L1416.8 718.5M1360.8 693.6L1331.4 729.9M1360.8 693.6L1387.4 780.7M1360.8 693.6L1359.7 787.6M1360.8 693.6L1392.9 807.6M1304 700.5L1277.5 709.8M1304 700.5L1331.4 729.9M1304 700.5L1300.3 735.4M1304 700.5L1304 755.4M1277.5 709.8L1300.3 735.4M1277.5 709.8L1304 755.4M1462.4 706.7L1416.8 718.5M1462.4 706.7L1500 724.7M1462.4 706.7L1530.7 724.7M1416.8 718.5L1401.2 744.4M1416.8 718.5L1436.8 748.2M1416.8 718.5L1413.3 767.2M1416.8 718.5L1457 775.5M1416.8 718.5L1387.4 780.7M1416.8 718.5L1392.9 807.6M1331.4 729.9L1300.3 735.4M1331.4 729.9L1401.2 744.4M1331.4 729.9L1304 755.4M1331.4 729.9L1349.7 766.2M1331.4 729.9L1413.3 767.2M1331.4 729.9L1387.4 780.7M1331.4 729.9L1410.9 792.8M1331.4 729.9L1392.9 807.6M1300.3 735.4L1304 755.4M1500 724.7L1457 775.5M1500 724.7L1478.7 800.7M1500 724.7L1553.1 697.7M1500 724.7L1530.7 724.7M1500 724.7L1509.9 747.1M1500 724.7L1559 766.2M1401.2 744.4L1436.8 748.2M1401.2 744.4L1304 755.4M1401.2 744.4L1413.3 767.2M1401.2 744.4L1387.4 780.7M1401.2 744.4L1359.7 787.6M1401.2 744.4L1392.9 807.6M1401.2 744.4L1449.6 827.7M1436.8 748.2L1413.3 767.2M1436.8 748.2L1457 775.5M1436.8 748.2L1478.7 800.7M1436.8 748.2L1449.6 827.7M1436.8 748.2L1509.9 747.1M1436.8 748.2L1559 766.2M1304 755.4L1349.7 766.2M1304 755.4L1413.3 767.2M1304 755.4L1387.4 780.7M1304 755.4L1359.7 787.6M1304 755.4L1410.9 792.8M1304 755.4L1392.9 807.6M1349.7 766.2L1387.4 780.7M1349.7 766.2L1359.7 787.6M1413.3 767.2L1457 775.5M1413.3 767.2L1387.4 780.7M1413.3 767.2L1410.9 792.8M1413.3 767.2L1449.6 827.7M1457 775.5L1478.7 800.7M1457 775.5L1392.9 807.6M1457 775.5L1449.6 827.7M1457 775.5L1530.7 724.7M1387.4 780.7L1359.7 787.6M1387.4 780.7L1410.9 792.8M1387.4 780.7L1392.9 807.6M1359.7 787.6L1410.9 792.8M1359.7 787.6L1392.9 807.6M1410.9 792.8L1392.9 807.6M1410.9 792.8L1449.6 827.7M1478.7 800.7L1449.6 827.7M1478.7 800.7L1530.7 724.7M1478.7 800.7L1509.9 747.1M1553.1 697.7L1530.7 724.7M1553.1 697.7L1509.9 747.1M1553.1 697.7L1559 766.2M1530.7 724.7L1509.9 747.1M1530.7 724.7L1559 766.2M1509.9 747.1L1559 766.2" stroke="#a6cfe3" stroke-width="1.2" stroke-opacity="0.8" fill="none"/>
<circle cx="1329.7" cy="658" r="6" fill="#b2182b"/>
<circle cx="1439.2" cy="667" r="9.7" fill="#b2182b"/>
<circle cx="1360.8" cy="693.6" r="7.3" fill="#b2182b"/>
<circle cx="1304" cy="700.5" r="6" fill="#b2182b"/>
<circle cx="1277.5" cy="709.8" r="5.5" fill="#b2182b"/>
<circle cx="1462.4" cy="706.7" r="7.5" fill="#b2182b"/>
<circle cx="1416.8" cy="718.5" r="8.5" fill="#b2182b"/>
<circle cx="1331.4" cy="729.9" r="6.5" fill="#b2182b"/>
<circle cx="1300.3" cy="735.4" r="5" fill="#b2182b"/>
<circle cx="1500" cy="724.7" r="6" fill="#b2182b"/>
<circle cx="1401.2" cy="744.4" r="5.5" fill="#b2182b"/>
<circle cx="1436.8" cy="748.2" r="7" fill="#b2182b"/>
<circle cx="1304" cy="755.4" r="6" fill="#b2182b"/>
<circle cx="1349.7" cy="766.2" r="6" fill="#b2182b"/>
<circle cx="1413.3" cy="767.2" r="5.5" fill="#b2182b"/>
<circle cx="1457" cy="775.5" r="6" fill="#b2182b"/>
<circle cx="1387.4" cy="780.7" r="7.5" fill="#b2182b"/>
<circle cx="1359.7" cy="787.6" r="6" fill="#b2182b"/>
<circle cx="1410.9" cy="792.8" r="5.5" fill="#b2182b"/>
<circle cx="1478.7" cy="800.7" r="5.5" fill="#b2182b"/>
<circle cx="1392.9" cy="807.6" r="5.5" fill="#b2182b"/>
<circle cx="1449.6" cy="827.7" r="6" fill="#b2182b"/>
<circle cx="1553.1" cy="697.7" r="6" fill="#b2182b"/>
<circle cx="1530.7" cy="724.7" r="9" fill="#b2182b"/>
<circle cx="1509.9" cy="747.1" r="5" fill="#b2182b"/>
<circle cx="1559" cy="766.2" r="7.5" fill="#b2182b"/>
<path d="M1237.1 915.2L1254.2 911.3M1237.1 915.2L1245.2 926.8M1237.1 915.2L1248.4 954.5M1254.2 911.3L1245.2 926.8M1254.2 911.3L1278.4 922.3M1245.2 926.8L1278.4 922.3M1245.2 926.8L1248.4 954.5M1278.4 922.3L1281 935.2M1278.4 922.3L1294.5 954.5M1281 935.2L1248.4 954.5M1281 935.2L1294.5 954.5" stroke="#a6cfe3" stroke-width="1.2" stroke-opacity="0.8" fill="none"/>
<circle cx="1237.1" cy="915.2" r="7" fill="#b2182b"/>
<circle cx="1254.2" cy="911.3" r="6" fill="#b2182b"/>
<circle cx="1245.2" cy="926.8" r="7.5" fill="#b2182b"/>
<circle cx="1278.4" cy="922.3" r="5.5" fill="#b2182b"/>
<circle cx="1281" cy="935.2" r="9.5" fill="#b2182b"/>
<circle cx="1248.4" cy="954.5" r="10" fill="#b2182b"/>
<circle cx="1294.5" cy="954.5" r="13.5" fill="#b2182b"/>
<path d="M1071 961.9L1110.6 956.5M1071 961.9L1119.4 976.1M1071 961.9L1082.6 985.8M1071 961.9L1006.5 1000.3M1071 961.9L1040.3 999.4M1071 961.9L1094.5 1012.3M1110.6 956.5L1119.4 976.1M1110.6 956.5L1141 974.2M1110.6 956.5L1082.6 985.8M1110.6 956.5L1040.3 999.4M1110.6 956.5L1120 1001M1119.4 976.1L1141 974.2M1119.4 976.1L1082.6 985.8M1119.4 976.1L1120 1001M1119.4 976.1L1094.5 1012.3M1119.4 976.1L1157.7 1032.3M1141 974.2L1082.6 985.8M1141 974.2L1120 1001M1141 974.2L1215.2 998.4M1141 974.2L1094.5 1012.3M1141 974.2L1166.1 1011.9M1082.6 985.8L1040.3 999.4M1082.6 985.8L1120 1001M1082.6 985.8L1094.5 1012.3M1082.6 985.8L1071 1019M981.6 1004.5L1006.5 1000.3M981.6 1004.5L1040.3 999.4M981.6 1004.5L958 1033.2M981.6 1004.5L1027.4 1029.4M981.6 1004.5L988 1044.2M981.6 1004.5L1045.5 1069M1006.5 1000.3L1040.3 999.4M1006.5 1000.3L1049 1017.4M1006.5 1000.3L958 1033.2M1006.5 1000.3L1027.4 1029.4M1006.5 1000.3L988 1044.2M1006.5 1000.3L1060.3 1045.8M1040.3 999.4L1049 1017.4M1040.3 999.4L1071 1019M1040.3 999.4L958 1033.2M1040.3 999.4L1027.4 1029.4M1040.3 999.4L1012.3 1055.2M1120 1001L1094.5 1012.3M1120 1001L1166.1 1011.9M1120 1001L1105.5 1028.7M1120 1001L1157.7 1032.3M1215.2 998.4L1166.1 1011.9M1215.2 998.4L1157.7 1032.3M1215.2 998.4L1215.8 1038.7M1215.2 998.4L1193.9 1059.7M1215.2 998.4L1150.6 1071M1094.5 1012.3L1049 1017.4M1094.5 1012.3L1071 1019M1094.5 1012.3L1105.5 1028.7M1094.5 1012.3L1107.4 1048.4M1049 1017.4L1071 1019M1049 1017.4L1027.4 1029.4M1049 1017.4L1105.5 1028.7M1049 1017.4L1060.3 1045.8M1049 1017.4L1107.4 1048.4M1049 1017.4L1012.3 1055.2M1049 1017.4L1045.5 1069M1071 1019L1105.5 1028.7M1071 1019L1060.3 1045.8M1071 1019L1107.4 1048.4M1071 1019L1085.2 1061.3M1166.1 1011.9L1157.7 1032.3M1166.1 1011.9L1215.8 1038.7M1166.1 1011.9L1107.4 1048.4M1166.1 1011.9L1193.9 1059.7M1166.1 1011.9L1150.6 1071M958 1033.2L1027.4 1029.4M958 1033.2L988 1044.2M958 1033.2L1012.3 1055.2M1027.4 1029.4L988 1044.2M1027.4 1029.4L1060.3 1045.8M1027.4 1029.4L1012.3 1055.2M1027.4 1029.4L1045.5 1069M1105.5 1028.7L1157.7 1032.3M1105.5 1028.7L1107.4 1048.4M1105.5 1028.7L1085.2 1061.3M1105.5 1028.7L1193.9 1059.7M1105.5 1028.7L1150.6 1071M1157.7 1032.3L1215.8 1038.7M1157.7 1032.3L1193.9 1059.7M1157.7 1032.3L1150.6 1071M1215.8 1038.7L1193.9 1059.7M1215.8 1038.7L1150.6 1071M988 1044.2L1012.3 1055.2M1060.3 1045.8L1107.4 1048.4M1060.3 1045.8L1012.3 1055.2M1060.3 1045.8L1085.2 1061.3M1060.3 1045.8L1045.5 1069M1107.4 1048.4L1085.2 1061.3M1107.4 1048.4L1045.5 1069M1107.4 1048.4L1150.6 1071M1012.3 1055.2L1045.5 1069M1085.2 1061.3L1045.5 1069M1193.9 1059.7L1150.6 1071" stroke="#a6cfe3" stroke-width="1.2" stroke-opacity="0.8" fill="none"/>
<circle cx="1071" cy="961.9" r="6.5" fill="#b2182b"/>
<circle cx="1110.6" cy="956.5" r="7" fill="#b2182b"/>
<circle cx="1119.4" cy="976.1" r="7.5" fill="#b2182b"/>
<circle cx="1141" cy="974.2" r="9.5" fill="#b2182b"/>
<circle cx="1082.6" cy="985.8" r="6.5" fill="#b2182b"/>
<circle cx="981.6" cy="1004.5" r="5.5" fill="#b2182b"/>
<circle cx="1006.5" cy="1000.3" r="5.5" fill="#b2182b"/>
<circle cx="1040.3" cy="999.4" r="6" fill="#b2182b"/>
<circle cx="1120" cy="1001" r="7" fill="#b2182b"/>
<circle cx="1215.2" cy="998.4" r="10" fill="#b2182b"/>
<circle cx="1094.5" cy="1012.3" r="6.5" fill="#b2182b"/>
<circle cx="1049" cy="1017.4" r="6" fill="#b2182b"/>
<circle cx="1071" cy="1019" r="6" fill="#b2182b"/>
<circle cx="1166.1" cy="1011.9" r="8.5" fill="#b2182b"/>
<circle cx="958" cy="1033.2" r="6" fill="#b2182b"/>
<circle cx="1027.4" cy="1029.4" r="6" fill="#b2182b"/>
<circle cx="1105.5" cy="1028.7" r="7" fill="#b2182b"/>
<circle cx="1157.7" cy="1032.3" r="8" fill="#b2182b"/>
<circle cx="1215.8" cy="1038.7" r="8.5" fill="#b2182b"/>
<circle cx="988" cy="1044.2" r="5.5" fill="#b2182b"/>
<circle cx="1060.3" cy="1045.8" r="6" fill="#b2182b"/>
<circle cx="1107.4" cy="1048.4" r="6.5" fill="#b2182b"/>
<circle cx="1012.3" cy="1055.2" r="5.5" fill="#b2182b"/>
<circle cx="1085.2" cy="1061.3" r="6" fill="#b2182b"/>
<circle cx="1193.9" cy="1059.7" r="8" fill="#b2182b"/>
<circle cx="1045.5" cy="1069" r="5.5" fill="#b2182b"/>
<circle cx="1150.6" cy="1071" r="7" fill="#b2182b"/>
<path d="M1215.2 998.4L1248.4 954.5M1215.2 998.4L1245.2 926.8M1215.2 998.4L1237.1 915.2" stroke="#a6cfe3" stroke-width="1.1" fill="none" stroke-opacity="0.75"/>
<circle cx="1215.2" cy="998.4" r="10" fill="#b2182b"/>
<circle cx="1248.4" cy="954.5" r="10" fill="#b2182b"/>
<circle cx="1245.2" cy="926.8" r="7.5" fill="#b2182b"/>
<circle cx="1237.1" cy="915.2" r="7" fill="#b2182b"/>
<path d="M1766.8 855.5L1793.2 850M1766.8 855.5L1813.9 866.8M1766.8 855.5L1755.2 879.7M1766.8 855.5L1787.4 887.7M1766.8 855.5L1822.6 893.5M1766.8 855.5L1759 907.7M1766.8 855.5L1793.9 914.8M1793.2 850L1813.9 866.8M1793.2 850L1755.2 879.7M1793.2 850L1787.4 887.7M1793.2 850L1822.6 893.5M1793.2 850L1759 907.7M1793.2 850L1793.9 914.8M1813.9 866.8L1755.2 879.7M1813.9 866.8L1787.4 887.7M1813.9 866.8L1822.6 893.5M1813.9 866.8L1793.9 914.8M1755.2 879.7L1787.4 887.7M1755.2 879.7L1759 907.7M1755.2 879.7L1793.9 914.8M1787.4 887.7L1822.6 893.5M1787.4 887.7L1759 907.7M1787.4 887.7L1793.9 914.8M1822.6 893.5L1759 907.7M1822.6 893.5L1793.9 914.8M1759 907.7L1793.9 914.8" stroke="#a6cfe3" stroke-width="1.2" stroke-opacity="0.8" fill="none"/>
<circle cx="1766.8" cy="855.5" r="6.5" fill="#b2182b"/>
<circle cx="1793.2" cy="850" r="7.5" fill="#b2182b"/>
<circle cx="1813.9" cy="866.8" r="7" fill="#b2182b"/>
<circle cx="1755.2" cy="879.7" r="9.5" fill="#b2182b"/>
<circle cx="1787.4" cy="887.7" r="8" fill="#b2182b"/>
<circle cx="1822.6" cy="893.5" r="7" fill="#b2182b"/>
<circle cx="1759" cy="907.7" r="9" fill="#b2182b"/>
<circle cx="1793.9" cy="914.8" r="7.5" fill="#b2182b"/>
<path d="M1569.4 946.8L1540.3 955.8M1569.4 946.8L1565.8 992.6M1540.3 955.8L1565.8 992.6M1481 970L1517.7 991.3M1599.4 970L1565.8 992.6M1539.4 985.2L1517.7 991.3" stroke="#a6cfe3" stroke-width="1.2" stroke-opacity="0.8" fill="none"/>
<circle cx="1569.4" cy="946.8" r="9" fill="#b2182b"/>
<circle cx="1540.3" cy="955.8" r="7" fill="#b2182b"/>
<circle cx="1481" cy="970" r="5.5" fill="#b2182b"/>
<circle cx="1599.4" cy="970" r="6" fill="#b2182b"/>
<circle cx="1539.4" cy="985.2" r="5.5" fill="#b2182b"/>
<circle cx="1517.7" cy="991.3" r="6.5" fill="#b2182b"/>
<circle cx="1565.8" cy="992.6" r="8" fill="#b2182b"/>
<circle cx="1529.4" cy="1006.5" r="5.5" fill="#b2182b"/>
<circle cx="1500.6" cy="1020.6" r="6" fill="#b2182b"/>
<circle cx="1532.9" cy="1020.3" r="5.5" fill="#b2182b"/>
<path d="M1782.9 1039.4L1771.6 1055.2M1782.9 1039.4L1791 1067.7M1782.9 1039.4L1801.6 1090.3M1782.9 1039.4L1769.4 1110.3M1771.6 1055.2L1791 1067.7M1771.6 1055.2L1743.5 1080.3M1771.6 1055.2L1801.6 1090.3M1771.6 1055.2L1839.4 1153.2M1691.9 1058.7L1743.5 1080.3M1691.9 1058.7L1746.8 1105.5M1691.9 1058.7L1712.6 1125.2M1691.9 1058.7L1767.7 1143.2M1791 1067.7L1855.8 1075.5M1791 1067.7L1743.5 1080.3M1791 1067.7L1801.6 1090.3M1791 1067.7L1746.8 1105.5M1855.8 1075.5L1801.6 1090.3M1855.8 1075.5L1801 1112.9M1855.8 1075.5L1767.7 1143.2M1743.5 1080.3L1746.8 1105.5M1743.5 1080.3L1769.4 1110.3M1743.5 1080.3L1712.6 1125.2M1801.6 1090.3L1769.4 1110.3M1801.6 1090.3L1801 1112.9M1801.6 1090.3L1839.4 1153.2M1746.8 1105.5L1769.4 1110.3M1746.8 1105.5L1801 1112.9M1746.8 1105.5L1712.6 1125.2M1746.8 1105.5L1767.7 1143.2M1769.4 1110.3L1801 1112.9M1769.4 1110.3L1712.6 1125.2M1769.4 1110.3L1767.7 1143.2M1801 1112.9L1767.7 1143.2M1801 1112.9L1839.4 1153.2M1712.6 1125.2L1767.7 1143.2M1767.7 1143.2L1839.4 1153.2" stroke="#a6cfe3" stroke-width="1.2" stroke-opacity="0.8" fill="none"/>
<circle cx="1782.9" cy="1039.4" r="6.5" fill="#b2182b"/>
<circle cx="1771.6" cy="1055.2" r="8.5" fill="#b2182b"/>
<circle cx="1691.9" cy="1058.7" r="5.5" fill="#b2182b"/>
<circle cx="1791" cy="1067.7" r="5.5" fill="#b2182b"/>
<circle cx="1855.8" cy="1075.5" r="11" fill="#b2182b"/>
<circle cx="1743.5" cy="1080.3" r="7" fill="#b2182b"/>
<circle cx="1801.6" cy="1090.3" r="8.5" fill="#b2182b"/>
<circle cx="1746.8" cy="1105.5" r="6.5" fill="#b2182b"/>
<circle cx="1769.4" cy="1110.3" r="7" fill="#b2182b"/>
<circle cx="1801" cy="1112.9" r="7" fill="#b2182b"/>
<circle cx="1712.6" cy="1125.2" r="8.5" fill="#b2182b"/>
<circle cx="1767.7" cy="1143.2" r="7.5" fill="#b2182b"/>
<circle cx="1839.4" cy="1153.2" r="9" fill="#b2182b"/>
<path d="M1088.2 1162.8L1062.7 1200.4M1088.2 1162.8L1101.5 1195.1M1088.2 1162.8L1127.4 1254.8M1062.7 1200.4L1101.5 1195.1M1062.7 1200.4L1098.9 1228.2M1101.5 1195.1L1129.3 1194M1101.5 1195.1L1098.9 1228.2M1129.3 1194L1155.9 1222.5M1155.9 1222.5L1127.4 1254.8M1098.9 1228.2L1127.4 1254.8" stroke="#a6cfe3" stroke-width="1.2" stroke-opacity="0.8" fill="none"/>
<circle cx="1088.2" cy="1162.8" r="6" fill="#b2182b"/>
<circle cx="1062.7" cy="1200.4" r="7" fill="#b2182b"/>
<circle cx="1101.5" cy="1195.1" r="8.5" fill="#b2182b"/>
<circle cx="1129.3" cy="1194" r="9" fill="#b2182b"/>
<circle cx="1155.9" cy="1222.5" r="9" fill="#b2182b"/>
<circle cx="1098.9" cy="1228.2" r="6.5" fill="#b2182b"/>
<circle cx="1127.4" cy="1254.8" r="7.5" fill="#b2182b"/>
<path d="M1377.9 1101.6L1406 1124.4M1377.9 1101.6L1364.2 1135.8M1377.9 1101.6L1401.1 1169.3M1327.3 1111.1L1364.2 1135.8M1327.3 1111.1L1339.1 1154.1M1327.3 1111.1L1370.7 1173.1M1406 1124.4L1364.2 1135.8M1406 1124.4L1401.1 1169.3M1364.2 1135.8L1339.1 1154.1M1364.2 1135.8L1401.1 1169.3M1364.2 1135.8L1355.9 1200.4M1339.1 1154.1L1370.7 1173.1M1339.1 1154.1L1312.9 1190.6M1401.1 1169.3L1370.7 1173.1M1401.1 1169.3L1401.1 1191.3M1370.7 1173.1L1401.1 1191.3M1370.7 1173.1L1355.9 1200.4M1312.9 1190.6L1355.9 1200.4" stroke="#a6cfe3" stroke-width="1.2" stroke-opacity="0.8" fill="none"/>
<circle cx="1377.9" cy="1101.6" r="11" fill="#b2182b"/>
<circle cx="1327.3" cy="1111.1" r="7" fill="#b2182b"/>
<circle cx="1406" cy="1124.4" r="8.5" fill="#b2182b"/>
<circle cx="1364.2" cy="1135.8" r="7.5" fill="#b2182b"/>
<circle cx="1339.1" cy="1154.1" r="7.5" fill="#b2182b"/>
<circle cx="1401.1" cy="1169.3" r="7" fill="#b2182b"/>
<circle cx="1370.7" cy="1173.1" r="6" fill="#b2182b"/>
<circle cx="1312.9" cy="1190.6" r="8" fill="#b2182b"/>
<circle cx="1401.1" cy="1191.3" r="7.5" fill="#b2182b"/>
<circle cx="1355.9" cy="1200.4" r="6.5" fill="#b2182b"/>
<path d="M1523.9 1199.7L1552 1195.9M1523.9 1199.7L1576.7 1192.8M1523.9 1199.7L1531.5 1215.6M1523.9 1199.7L1570.3 1220.6M1523.9 1199.7L1520.1 1240.4M1523.9 1199.7L1552.8 1233.9M1523.9 1199.7L1531.5 1258.6M1552 1195.9L1576.7 1192.8M1552 1195.9L1531.5 1215.6M1552 1195.9L1570.3 1220.6M1552 1195.9L1593.9 1220.2M1552 1195.9L1520.1 1240.4M1552 1195.9L1552.8 1233.9M1552 1195.9L1556.6 1257.8M1576.7 1192.8L1531.5 1215.6M1576.7 1192.8L1570.3 1220.6M1576.7 1192.8L1593.9 1220.2M1576.7 1192.8L1552.8 1233.9M1576.7 1192.8L1584.7 1250.2M1576.7 1192.8L1556.6 1257.8M1576.7 1192.8L1531.5 1258.6M1531.5 1215.6L1570.3 1220.6M1531.5 1215.6L1593.9 1220.2M1531.5 1215.6L1520.1 1240.4M1531.5 1215.6L1552.8 1233.9M1531.5 1215.6L1556.6 1257.8M1531.5 1215.6L1531.5 1258.6M1531.5 1215.6L1551.3 1266.2M1570.3 1220.6L1593.9 1220.2M1570.3 1220.6L1520.1 1240.4M1570.3 1220.6L1552.8 1233.9M1570.3 1220.6L1584.7 1250.2M1570.3 1220.6L1556.6 1257.8M1570.3 1220.6L1531.5 1258.6M1570.3 1220.6L1551.3 1266.2M1593.9 1220.2L1520.1 1240.4M1593.9 1220.2L1552.8 1233.9M1593.9 1220.2L1584.7 1250.2M1593.9 1220.2L1556.6 1257.8M1520.1 1240.4L1552.8 1233.9M1520.1 1240.4L1584.7 1250.2M1520.1 1240.4L1556.6 1257.8M1520.1 1240.4L1531.5 1258.6M1520.1 1240.4L1551.3 1266.2M1552.8 1233.9L1584.7 1250.2M1552.8 1233.9L1556.6 1257.8M1552.8 1233.9L1531.5 1258.6M1552.8 1233.9L1551.3 1266.2M1584.7 1250.2L1556.6 1257.8M1584.7 1250.2L1531.5 1258.6M1584.7 1250.2L1551.3 1266.2M1556.6 1257.8L1531.5 1258.6M1556.6 1257.8L1551.3 1266.2M1531.5 1258.6L1551.3 1266.2" stroke="#a6cfe3" stroke-width="1.2" stroke-opacity="0.8" fill="none"/>
<circle cx="1523.9" cy="1199.7" r="9.5" fill="#b2182b"/>
<circle cx="1552" cy="1195.9" r="8.5" fill="#b2182b"/>
<circle cx="1576.7" cy="1192.8" r="11.5" fill="#b2182b"/>
<circle cx="1531.5" cy="1215.6" r="9" fill="#b2182b"/>
<circle cx="1570.3" cy="1220.6" r="10" fill="#b2182b"/>
<circle cx="1593.9" cy="1220.2" r="7" fill="#b2182b"/>
<circle cx="1520.1" cy="1240.4" r="12" fill="#b2182b"/>
<circle cx="1552.8" cy="1233.9" r="9" fill="#b2182b"/>
<circle cx="1584.7" cy="1250.2" r="8" fill="#b2182b"/>
<circle cx="1556.6" cy="1257.8" r="9.5" fill="#b2182b"/>
<circle cx="1531.5" cy="1258.6" r="6.5" fill="#b2182b"/>
<circle cx="1551.3" cy="1266.2" r="5.5" fill="#b2182b"/>
<text x="1286.4" y="613.4" font-size="26" textLength="248" lengthAdjust="spacing">Mitochondrial Activity</text>
<text x="1128" y="870" font-size="26" textLength="258" lengthAdjust="spacing">Myeloid Differentiation</text>
<text x="972.6" y="899.7" font-size="26" textLength="226.8" lengthAdjust="spacing">CD4-positive T Cell</text>
<text x="1038.7" y="927.4" font-size="26" textLength="83.3" lengthAdjust="spacing">Activity</text>
<text x="1258" y="1062.6" font-size="26" textLength="189.7" lengthAdjust="spacing">B Cell Activation</text>
<text x="988.7" y="1137" font-size="26" textLength="267" lengthAdjust="spacing">Leukocyte Chemotaxis</text>
<text x="1675.5" y="763.4" font-size="26" textLength="240.2" lengthAdjust="spacing">Ubiquitin-Dependent</text>
<text x="1687.6" y="791" font-size="26" textLength="199.8" lengthAdjust="spacing">Protein Catabolic</text>
<text x="1747.4" y="818" font-size="26" textLength="95" lengthAdjust="spacing">Process</text>
<text x="1408" y="891" font-size="26" textLength="301" lengthAdjust="spacing">PERK-mediated Unfolded</text>
<text x="1444.2" y="918.4" font-size="26" textLength="209.7" lengthAdjust="spacing">Protein Response</text>
<text x="1659.7" y="977" font-size="26" textLength="238.7" lengthAdjust="spacing">Cytosolic Ribosomal</text>
<text x="1725.8" y="1004.5" font-size="26" textLength="83.2" lengthAdjust="spacing">Activity</text>
<text x="1473.2" y="1132.3" font-size="26" textLength="166.2" lengthAdjust="spacing">Actin Filament</text>
<text x="1473.2" y="1160.3" font-size="26" textLength="171.3" lengthAdjust="spacing">Polymerization</text>
<ellipse cx="1164.8" cy="1604.2" rx="99.4" ry="108.4" fill="#f3f3fd"/>
<ellipse cx="1453.3" cy="1633.1" rx="102" ry="113.4" fill="#f3f3fd"/>
<ellipse cx="1715.3" cy="1713.8" rx="95" ry="84.2" fill="#f3f3fd"/>
<ellipse cx="1160.5" cy="1825.5" rx="57" ry="92" fill="#f3f3fd" transform="rotate(-4 1160.5 1825.5)"/>
<ellipse cx="1385.7" cy="1827.8" rx="57.5" ry="49.3" fill="#f3f3fd"/>
<ellipse cx="1368.7" cy="1987.6" rx="98.7" ry="70.9" fill="#f3f3fd"/>
<ellipse cx="1747.4" cy="1931" rx="83.2" ry="85.4" fill="#f3f3fd"/>
<ellipse cx="1164.8" cy="1604.2" rx="99.4" ry="108.4" fill="none" stroke="#2a2a2a" stroke-width="1.5"/>
<ellipse cx="1453.3" cy="1633.1" rx="102" ry="113.4" fill="none" stroke="#2a2a2a" stroke-width="1.5"/>
<ellipse cx="1715.3" cy="1713.8" rx="95" ry="84.2" fill="none" stroke="#2a2a2a" stroke-width="1.5"/>
<ellipse cx="1160.5" cy="1825.5" rx="57" ry="92" fill="none" stroke="#2a2a2a" stroke-width="1.5" transform="rotate(-4 1160.5 1825.5)"/>
<ellipse cx="1385.7" cy="1827.8" rx="57.5" ry="49.3" fill="none" stroke="#2a2a2a" stroke-width="1.5"/>
<ellipse cx="1368.7" cy="1987.6" rx="98.7" ry="70.9" fill="none" stroke="#2a2a2a" stroke-width="1.5"/>
<ellipse cx="1747.4" cy="1931" rx="83.2" ry="85.4" fill="none" stroke="#2a2a2a" stroke-width="1.5"/>
<text x="1313.3" y="1422.2" font-size="37" font-weight="bold" textLength="289.5" lengthAdjust="spacing">Non-responders</text>
<path d="M1128.3 1523.2L1156 1529.4M1128.3 1523.2L1117.3 1547M1128.3 1523.2L1176.7 1549.4M1128.3 1523.2L1145.6 1565M1128.3 1523.2L1091.4 1579.8M1128.3 1523.2L1171.9 1608.9M1156 1529.4L1117.3 1547M1156 1529.4L1176.7 1549.4M1156 1529.4L1207.8 1550.8M1156 1529.4L1145.6 1565M1156 1529.4L1091.4 1579.8M1156 1529.4L1213 1590.6M1117.3 1547L1207.8 1550.8M1117.3 1547L1145.6 1565M1117.3 1547L1091.4 1579.8M1117.3 1547L1140.1 1596.8M1176.7 1549.4L1207.8 1550.8M1176.7 1549.4L1145.6 1565M1176.7 1549.4L1213 1590.6M1207.8 1550.8L1145.6 1565M1207.8 1550.8L1213 1590.6M1145.6 1565L1091.4 1579.8M1145.6 1565L1140.1 1596.8M1145.6 1565L1099.3 1622M1145.6 1565L1134.9 1633.1M1091.4 1579.8L1140.1 1596.8M1091.4 1579.8L1099.3 1622M1213 1590.6L1171.9 1608.9M1213 1590.6L1238.6 1625.5M1213 1590.6L1196.1 1641.7M1140.1 1596.8L1171.9 1608.9M1140.1 1596.8L1099.3 1622M1140.1 1596.8L1134.9 1633.1M1171.9 1608.9L1238.6 1625.5M1171.9 1608.9L1134.9 1633.1M1171.9 1608.9L1196.1 1641.7M1171.9 1608.9L1164.6 1656.2M1099.3 1622L1134.9 1633.1M1099.3 1622L1101.7 1653.5M1238.6 1625.5L1196.1 1641.7M1238.6 1625.5L1164.6 1656.2M1238.6 1625.5L1155.3 1685.6M1134.9 1633.1L1101.7 1653.5M1134.9 1633.1L1164.6 1656.2M1134.9 1633.1L1124.2 1666.6M1134.9 1633.1L1155.3 1685.6M1196.1 1641.7L1164.6 1656.2M1196.1 1641.7L1155.3 1685.6M1101.7 1653.5L1124.2 1666.6M1101.7 1653.5L1155.3 1685.6M1164.6 1656.2L1124.2 1666.6M1164.6 1656.2L1155.3 1685.6M1124.2 1666.6L1155.3 1685.6" stroke="#a6cfe3" stroke-width="1.3" stroke-opacity="0.8" fill="none"/>
<circle cx="1128.3" cy="1523.2" r="7.5" fill="#2166ac"/>
<circle cx="1156" cy="1529.4" r="5.5" fill="#2166ac"/>
<circle cx="1117.3" cy="1547" r="5.5" fill="#2166ac"/>
<circle cx="1176.7" cy="1549.4" r="6" fill="#2166ac"/>
<circle cx="1207.8" cy="1550.8" r="6" fill="#2166ac"/>
<circle cx="1145.6" cy="1565" r="9.5" fill="#2166ac"/>
<circle cx="1091.4" cy="1579.8" r="6" fill="#2166ac"/>
<circle cx="1213" cy="1590.6" r="6" fill="#2166ac"/>
<circle cx="1140.1" cy="1596.8" r="8.5" fill="#2166ac"/>
<circle cx="1171.9" cy="1608.9" r="11" fill="#2166ac"/>
<circle cx="1099.3" cy="1622" r="7.5" fill="#2166ac"/>
<circle cx="1238.6" cy="1625.5" r="5.5" fill="#2166ac"/>
<circle cx="1134.9" cy="1633.1" r="5.5" fill="#2166ac"/>
<circle cx="1196.1" cy="1641.7" r="7" fill="#2166ac"/>
<circle cx="1101.7" cy="1653.5" r="5.5" fill="#2166ac"/>
<circle cx="1164.6" cy="1656.2" r="6.5" fill="#2166ac"/>
<circle cx="1124.2" cy="1666.6" r="6.5" fill="#2166ac"/>
<circle cx="1155.3" cy="1685.6" r="5.5" fill="#2166ac"/>
<path d="M1445 1548L1410 1556M1445 1548L1418.4 1569.5M1445 1548L1474.3 1569.1M1445 1548L1443.6 1585.4M1410 1556L1418.4 1569.5M1410 1556L1378.3 1584.7M1410 1556L1443.6 1585.4M1418.4 1569.5L1474.3 1569.1M1418.4 1569.5L1378.3 1584.7M1418.4 1569.5L1443.6 1585.4M1474.3 1569.1L1443.6 1585.4M1474.3 1569.1L1475.4 1615.4M1378.3 1584.7L1413.2 1626.9M1443.6 1585.4L1475.4 1615.4M1443.6 1585.4L1413.2 1626.9M1443.6 1585.4L1529.7 1637.9M1475.4 1615.4L1520.7 1613M1475.4 1615.4L1438.7 1633.1M1475.4 1615.4L1529.7 1637.9M1475.4 1615.4L1470.9 1652.1M1475.4 1615.4L1495.4 1671.1M1520.7 1613L1529.7 1637.9M1520.7 1613L1470.9 1652.1M1520.7 1613L1464.7 1670.8M1413.2 1626.9L1438.7 1633.1M1413.2 1626.9L1420.1 1658.7M1438.7 1633.1L1470.9 1652.1M1438.7 1633.1L1420.1 1658.7M1438.7 1633.1L1464.7 1670.8M1438.7 1633.1L1495.4 1671.1M1529.7 1637.9L1495.4 1671.1M1470.9 1652.1L1464.7 1670.8M1470.9 1652.1L1495.4 1671.1M1470.9 1652.1L1450.8 1719.5M1420.1 1658.7L1464.7 1670.8M1420.1 1658.7L1404.5 1705M1464.7 1670.8L1495.4 1671.1M1464.7 1670.8L1404.5 1705M1464.7 1670.8L1450.8 1719.5M1495.4 1671.1L1450.8 1719.5M1404.5 1705L1450.8 1719.5" stroke="#a6cfe3" stroke-width="1.3" stroke-opacity="0.8" fill="none"/>
<circle cx="1445" cy="1548" r="7.5" fill="#2166ac"/>
<circle cx="1410" cy="1556" r="5.5" fill="#2166ac"/>
<circle cx="1418.4" cy="1569.5" r="5.5" fill="#2166ac"/>
<circle cx="1474.3" cy="1569.1" r="5.5" fill="#2166ac"/>
<circle cx="1378.3" cy="1584.7" r="6.5" fill="#2166ac"/>
<circle cx="1443.6" cy="1585.4" r="9" fill="#2166ac"/>
<circle cx="1475.4" cy="1615.4" r="8" fill="#2166ac"/>
<circle cx="1520.7" cy="1613" r="6" fill="#2166ac"/>
<circle cx="1413.2" cy="1626.9" r="5.5" fill="#2166ac"/>
<circle cx="1438.7" cy="1633.1" r="8.5" fill="#2166ac"/>
<circle cx="1529.7" cy="1637.9" r="6.5" fill="#2166ac"/>
<circle cx="1470.9" cy="1652.1" r="7.5" fill="#2166ac"/>
<circle cx="1420.1" cy="1658.7" r="6" fill="#2166ac"/>
<circle cx="1464.7" cy="1670.8" r="5.5" fill="#2166ac"/>
<circle cx="1495.4" cy="1671.1" r="6.5" fill="#2166ac"/>
<circle cx="1404.5" cy="1705" r="7" fill="#2166ac"/>
<circle cx="1450.8" cy="1719.5" r="6" fill="#2166ac"/>
<path d="M1657.5 1676.6L1699.3 1663.5M1657.5 1676.6L1699 1682.8M1657.5 1676.6L1697.6 1707.7M1657.5 1676.6L1695.5 1734.7M1699.3 1663.5L1765.7 1664.5M1699.3 1663.5L1699 1682.8M1699.3 1663.5L1750.8 1692.9M1699.3 1663.5L1697.6 1707.7M1699.3 1663.5L1707.6 1746.5M1765.7 1664.5L1699 1682.8M1765.7 1664.5L1750.8 1692.9M1765.7 1664.5L1745.7 1723.6M1765.7 1664.5L1749.4 1764.7M1699 1682.8L1750.8 1692.9M1699 1682.8L1697.6 1707.7M1699 1682.8L1695.5 1734.7M1699 1682.8L1749.4 1764.7M1750.8 1692.9L1697.6 1707.7M1750.8 1692.9L1745.7 1723.6M1750.8 1692.9L1695.5 1734.7M1750.8 1692.9L1772.6 1752.3M1697.6 1707.7L1695.5 1734.7M1697.6 1707.7L1707.6 1746.5M1745.7 1723.6L1695.5 1734.7M1745.7 1723.6L1707.6 1746.5M1745.7 1723.6L1772.6 1752.3M1745.7 1723.6L1749.4 1764.7M1695.5 1734.7L1707.6 1746.5M1695.5 1734.7L1749.4 1764.7M1707.6 1746.5L1772.6 1752.3M1707.6 1746.5L1749.4 1764.7M1772.6 1752.3L1749.4 1764.7" stroke="#a6cfe3" stroke-width="1.5" stroke-opacity="0.8" fill="none"/>
<circle cx="1657.5" cy="1676.6" r="9" fill="#2166ac"/>
<circle cx="1699.3" cy="1663.5" r="6.5" fill="#2166ac"/>
<circle cx="1765.7" cy="1664.5" r="8" fill="#2166ac"/>
<circle cx="1699" cy="1682.8" r="7.5" fill="#2166ac"/>
<circle cx="1750.8" cy="1692.9" r="6" fill="#2166ac"/>
<circle cx="1697.6" cy="1707.7" r="6" fill="#2166ac"/>
<circle cx="1745.7" cy="1723.6" r="7" fill="#2166ac"/>
<circle cx="1695.5" cy="1734.7" r="7.5" fill="#2166ac"/>
<circle cx="1707.6" cy="1746.5" r="6" fill="#2166ac"/>
<circle cx="1772.6" cy="1752.3" r="6" fill="#2166ac"/>
<circle cx="1749.4" cy="1764.7" r="6" fill="#2166ac"/>
<path d="M1142.9 1769.9L1177.1 1790.3M1142.9 1769.9L1156.3 1808.6M1142.9 1769.9L1161.5 1820M1142.9 1769.9L1128.7 1830.4M1142.9 1769.9L1163.2 1836.2M1177.1 1790.3L1156.3 1808.6M1177.1 1790.3L1161.5 1820M1177.1 1790.3L1128.7 1830.4M1177.1 1790.3L1163.2 1836.2M1156.3 1808.6L1161.5 1820M1156.3 1808.6L1128.7 1830.4M1156.3 1808.6L1163.2 1836.2M1156.3 1808.6L1134.9 1865.3M1156.3 1808.6L1191.9 1870.1M1156.3 1808.6L1162.6 1880.8M1161.5 1820L1128.7 1830.4M1161.5 1820L1163.2 1836.2M1161.5 1820L1134.9 1865.3M1161.5 1820L1191.9 1870.1M1161.5 1820L1162.6 1880.8M1128.7 1830.4L1163.2 1836.2M1128.7 1830.4L1134.9 1865.3M1128.7 1830.4L1162.6 1880.8M1163.2 1836.2L1134.9 1865.3M1163.2 1836.2L1191.9 1870.1M1163.2 1836.2L1162.6 1880.8M1134.9 1865.3L1191.9 1870.1M1134.9 1865.3L1162.6 1880.8M1191.9 1870.1L1162.6 1880.8" stroke="#a6cfe3" stroke-width="1.5" stroke-opacity="0.8" fill="none"/>
<circle cx="1142.9" cy="1769.9" r="6.5" fill="#2166ac"/>
<circle cx="1177.1" cy="1790.3" r="6" fill="#2166ac"/>
<circle cx="1156.3" cy="1808.6" r="5.5" fill="#2166ac"/>
<circle cx="1161.5" cy="1820" r="7" fill="#2166ac"/>
<circle cx="1128.7" cy="1830.4" r="6" fill="#2166ac"/>
<circle cx="1163.2" cy="1836.2" r="6" fill="#2166ac"/>
<circle cx="1134.9" cy="1865.3" r="7.5" fill="#2166ac"/>
<circle cx="1191.9" cy="1870.1" r="8" fill="#2166ac"/>
<circle cx="1162.6" cy="1880.8" r="7" fill="#2166ac"/>
<path d="M1392.1 1803.1L1370.3 1819.3M1392.1 1803.1L1388.6 1834.5M1392.1 1803.1L1415.2 1842.1M1370.3 1819.3L1388.6 1834.5M1370.3 1819.3L1356.5 1851.8M1388.6 1834.5L1415.2 1842.1M1388.6 1834.5L1356.5 1851.8" stroke="#a6cfe3" stroke-width="1.6" stroke-opacity="0.8" fill="none"/>
<circle cx="1392.1" cy="1803.1" r="6" fill="#2166ac"/>
<circle cx="1370.3" cy="1819.3" r="6.5" fill="#2166ac"/>
<circle cx="1388.6" cy="1834.5" r="10" fill="#2166ac"/>
<circle cx="1415.2" cy="1842.1" r="6.5" fill="#2166ac"/>
<circle cx="1356.5" cy="1851.8" r="6.5" fill="#2166ac"/>
<path d="M1405.9 1946.2L1365.5 1968.3M1405.9 1946.2L1428.7 1996.6M1405.9 1946.2L1363.7 2012.5M1365.5 1968.3L1320.9 1983.1M1365.5 1968.3L1363.7 2012.5M1320.9 1983.1L1428.7 1996.6M1320.9 1983.1L1363.7 2012.5M1320.9 1983.1L1308.4 2029.1M1428.7 1996.6L1363.7 2012.5M1363.7 2012.5L1308.4 2029.1" stroke="#a6cfe3" stroke-width="1.5" stroke-opacity="0.8" fill="none"/>
<circle cx="1405.9" cy="1946.2" r="7" fill="#2166ac"/>
<circle cx="1365.5" cy="1968.3" r="9" fill="#2166ac"/>
<circle cx="1320.9" cy="1983.1" r="5.5" fill="#2166ac"/>
<circle cx="1428.7" cy="1996.6" r="6" fill="#2166ac"/>
<circle cx="1363.7" cy="2012.5" r="6" fill="#2166ac"/>
<circle cx="1308.4" cy="2029.1" r="6.5" fill="#2166ac"/>
<path d="M1771.3 1884.2L1702.2 1913.3M1771.3 1884.2L1758.6 1913.3M1771.3 1884.2L1792.3 1941.5M1702.2 1913.3L1758.6 1913.3M1702.2 1913.3L1743.4 1957.1M1758.6 1913.3L1792.3 1941.5M1758.6 1913.3L1743.4 1957.1M1758.6 1913.3L1780 1977.2M1792.3 1941.5L1743.4 1957.1M1792.3 1941.5L1780 1977.2M1743.4 1957.1L1780 1977.2" stroke="#a6cfe3" stroke-width="1.8" stroke-opacity="0.8" fill="none"/>
<circle cx="1771.3" cy="1884.2" r="6.5" fill="#2166ac"/>
<circle cx="1702.2" cy="1913.3" r="16" fill="#2166ac"/>
<circle cx="1758.6" cy="1913.3" r="14.5" fill="#2166ac"/>
<circle cx="1792.3" cy="1941.5" r="16" fill="#2166ac"/>
<circle cx="1743.4" cy="1957.1" r="7.5" fill="#2166ac"/>
<circle cx="1780" cy="1977.2" r="15" fill="#2166ac"/>
<text x="1057.8" y="1489.4" font-size="31" textLength="227.2" lengthAdjust="spacing">DNA Replication</text>
<text x="1302.9" y="1512.9" font-size="31" textLength="344.8" lengthAdjust="spacing">Chromosome Separation</text>
<text x="1557.3" y="1623.5" font-size="31" textLength="333.5" lengthAdjust="spacing">tRNA/rRNA modification</text>
<text x="981.4" y="1727" font-size="31" textLength="377.8" lengthAdjust="spacing">Ligand Gated Ion Channels</text>
<text x="1242.7" y="1771.4" font-size="31" textLength="316.3" lengthAdjust="spacing">Chromatin Remodeling</text>
<text x="1204.4" y="1908.9" font-size="31" textLength="356.4" lengthAdjust="spacing">Sodium-Solute Symporter</text>
<text x="1618.1" y="1839.2" font-size="31" textLength="271.3" lengthAdjust="spacing">Sensory Perception</text>
<rect x="52.4" y="2169.9" width="414.9" height="227.1" fill="#f2f2f2"/>
<rect x="81.5" y="2169.9" width="379.8" height="227.1" fill="#fff"/>
<path d="M81.5 2182.8H461.3M81.5 2199.3H461.3M81.5 2215.2H461.3M81.5 2231.6H461.3M81.5 2247.5H461.3M81.5 2264H461.3M81.5 2280.1H461.3M81.5 2296.6H461.3M81.5 2312.5H461.3M81.5 2329H461.3M134.8 2169.9V2331.1M188.7 2169.9V2331.1M242.6 2169.9V2331.1M296.5 2169.9V2331.1M350.4 2169.9V2331.1M404.3 2169.9V2331.1M458.3 2169.9V2331.1" stroke="#d4d4d4" stroke-width="0.9" fill="none" stroke-dasharray="1.5 1.5"/>
<line x1="81.5" y1="2312.5" x2="461.3" y2="2312.5" stroke="#9a9a9a" stroke-width="1" />
<path d="M81.5 2169.9V2331.1 M461.3 2169.9V2397 M81.5 2169.9H461.3 M81.5 2331.1H461.3 M81.5 2383.5H461.3" stroke="#b5b5b5" stroke-width="1" fill="none" />
<line x1="81.5" y1="2169.9" x2="81.5" y2="2331.1" stroke="#777" stroke-width="1" />
<text x="74.5" y="2186.1" font-size="9.3" text-anchor="end" fill="#333">0.40</text>
<line x1="79" y1="2182.8" x2="81.5" y2="2182.8" stroke="#777" stroke-width="0.8" />
<text x="74.5" y="2202.6" font-size="9.3" text-anchor="end" fill="#333">0.35</text>
<line x1="79" y1="2199.3" x2="81.5" y2="2199.3" stroke="#777" stroke-width="0.8" />
<text x="74.5" y="2218.5" font-size="9.3" text-anchor="end" fill="#333">0.30</text>
<line x1="79" y1="2215.2" x2="81.5" y2="2215.2" stroke="#777" stroke-width="0.8" />
<text x="74.5" y="2234.9" font-size="9.3" text-anchor="end" fill="#333">0.25</text>
<line x1="79" y1="2231.6" x2="81.5" y2="2231.6" stroke="#777" stroke-width="0.8" />
<text x="74.5" y="2250.8" font-size="9.3" text-anchor="end" fill="#333">0.20</text>
<line x1="79" y1="2247.5" x2="81.5" y2="2247.5" stroke="#777" stroke-width="0.8" />
<text x="74.5" y="2267.3" font-size="9.3" text-anchor="end" fill="#333">0.15</text>
<line x1="79" y1="2264" x2="81.5" y2="2264" stroke="#777" stroke-width="0.8" />
<text x="74.5" y="2283.4" font-size="9.3" text-anchor="end" fill="#333">0.10</text>
<line x1="79" y1="2280.1" x2="81.5" y2="2280.1" stroke="#777" stroke-width="0.8" />
<text x="74.5" y="2299.9" font-size="9.3" text-anchor="end" fill="#333">0.05</text>
<line x1="79" y1="2296.6" x2="81.5" y2="2296.6" stroke="#777" stroke-width="0.8" />
<text x="74.5" y="2315.8" font-size="9.3" text-anchor="end" fill="#333">0.00</text>
<line x1="79" y1="2312.5" x2="81.5" y2="2312.5" stroke="#777" stroke-width="0.8" />
<text x="74.5" y="2332.3" font-size="9.3" text-anchor="end" fill="#333">-0.05</text>
<line x1="79" y1="2329" x2="81.5" y2="2329" stroke="#777" stroke-width="0.8" />
<path d="M81.5 2332.1V2383.5M82.4 2332.1V2383.5M83.3 2332.1V2383.5M84.2 2332.1V2383.5M85.1 2332.1V2383.5M86 2332.1V2383.5M86.9 2332.1V2383.5M87.8 2332.1V2383.5M89 2332.1V2383.5M90.2 2332.1V2383.5M91.4 2332.1V2383.5M92.6 2332.1V2383.5M93.8 2332.1V2383.5M95.3 2332.1V2383.5M96.5 2332.1V2383.5M97.9 2332.1V2383.5M103.3 2332.1V2383.5M107.2 2332.1V2383.5M108.4 2332.1V2383.5M110.2 2332.1V2383.5M117.7 2332.1V2383.5M119.2 2332.1V2383.5M121.3 2332.1V2383.5M125.2 2332.1V2383.5M126.4 2332.1V2383.5M130.3 2332.1V2383.5M134.8 2332.1V2383.5M136.3 2332.1V2383.5M137.8 2332.1V2383.5M142.3 2332.1V2383.5M143.8 2332.1V2383.5M146.8 2332.1V2383.5M148.3 2332.1V2383.5M152.8 2332.1V2383.5M163.2 2332.1V2383.5M164.7 2332.1V2383.5M171.6 2332.1V2383.5M180.6 2332.1V2383.5M185.1 2332.1V2383.5M186.3 2332.1V2383.5M196.8 2332.1V2383.5M200.1 2332.1V2383.5M208.2 2332.1V2383.5M209.7 2332.1V2383.5M211.2 2332.1V2383.5M212.1 2332.1V2383.5M224.7 2332.1V2383.5M227 2332.1V2383.5M233.6 2332.1V2383.5M243.2 2332.1V2383.5M251.6 2332.1V2383.5M257 2332.1V2383.5M259.1 2332.1V2383.5M275.6 2332.1V2383.5M286.7 2332.1V2383.5M300.4 2332.1V2383.5M330.1 2332.1V2383.5M339.1 2332.1V2383.5M349.6 2332.1V2383.5M356.4 2332.1V2383.5M359.4 2332.1V2383.5M361.8 2332.1V2383.5M373.5 2332.1V2383.5M379.8 2332.1V2383.5M385.8 2332.1V2383.5M387.3 2332.1V2383.5M390.3 2332.1V2383.5M419.9 2332.1V2383.5M425.3 2332.1V2383.5M431.9 2332.1V2383.5M438.2 2332.1V2383.5" stroke="#000" stroke-width="1.1" fill="none" stroke-opacity="0.9"/>
<defs><linearGradient id="cg10"><stop offset="0" stop-color="#e23c3c"/><stop offset="1" stop-color="#ff8888"/></linearGradient></defs>
<rect x="81.5" y="2383.5" width="79" height="13.5" fill="url(#cg10)"/>
<defs><linearGradient id="cg11"><stop offset="0" stop-color="#ffb4dc"/><stop offset="1" stop-color="#f8b0e0"/></linearGradient></defs>
<rect x="160.2" y="2383.5" width="22.8" height="13.5" fill="url(#cg11)"/>
<defs><linearGradient id="cg12"><stop offset="0" stop-color="#d4ccff"/><stop offset="1" stop-color="#c8bcff"/></linearGradient></defs>
<rect x="182.7" y="2383.5" width="70.6" height="13.5" fill="url(#cg12)"/>
<defs><linearGradient id="cg13"><stop offset="0" stop-color="#8c8cff"/><stop offset="1" stop-color="#8484fa"/></linearGradient></defs>
<rect x="253" y="2383.5" width="57.3" height="13.5" fill="url(#cg13)"/>
<defs><linearGradient id="cg14"><stop offset="0" stop-color="#6a58ea"/><stop offset="1" stop-color="#6a54e8"/></linearGradient></defs>
<rect x="310" y="2383.5" width="102.1" height="13.5" fill="url(#cg14)"/>
<defs><linearGradient id="cg15"><stop offset="0" stop-color="#2a08d0"/><stop offset="1" stop-color="#3a0ab0"/></linearGradient></defs>
<rect x="411.8" y="2383.5" width="31.1" height="13.5" fill="url(#cg15)"/>
<path d="M81.5 2383.5V2397M82.4 2383.5V2397M83.3 2383.5V2397M84.2 2383.5V2397M85.1 2383.5V2397M86 2383.5V2397M86.9 2383.5V2397M87.8 2383.5V2397M89 2383.5V2397M90.2 2383.5V2397M91.4 2383.5V2397M92.6 2383.5V2397M93.8 2383.5V2397M95.3 2383.5V2397M96.5 2383.5V2397M97.9 2383.5V2397M103.3 2383.5V2397M107.2 2383.5V2397M108.4 2383.5V2397M110.2 2383.5V2397M117.7 2383.5V2397M119.2 2383.5V2397M121.3 2383.5V2397M125.2 2383.5V2397M126.4 2383.5V2397M130.3 2383.5V2397M134.8 2383.5V2397M136.3 2383.5V2397M137.8 2383.5V2397M142.3 2383.5V2397M143.8 2383.5V2397M146.8 2383.5V2397M148.3 2383.5V2397M152.8 2383.5V2397M163.2 2383.5V2397M164.7 2383.5V2397M171.6 2383.5V2397M180.6 2383.5V2397M185.1 2383.5V2397M186.3 2383.5V2397M196.8 2383.5V2397M200.1 2383.5V2397M208.2 2383.5V2397M209.7 2383.5V2397M211.2 2383.5V2397M212.1 2383.5V2397M224.7 2383.5V2397M227 2383.5V2397M233.6 2383.5V2397M243.2 2383.5V2397M251.6 2383.5V2397M257 2383.5V2397M259.1 2383.5V2397M275.6 2383.5V2397M286.7 2383.5V2397M300.4 2383.5V2397M330.1 2383.5V2397M339.1 2383.5V2397M349.6 2383.5V2397M356.4 2383.5V2397M359.4 2383.5V2397M361.8 2383.5V2397M373.5 2383.5V2397M379.8 2383.5V2397M385.8 2383.5V2397M387.3 2383.5V2397M390.3 2383.5V2397M419.9 2383.5V2397M425.3 2383.5V2397M431.9 2383.5V2397M438.2 2383.5V2397" stroke="#000" stroke-width="0.9" fill="none" stroke-opacity="0.13"/>
<polyline points="81.5,2312.5 83,2304.1 83.9,2296.6 85.4,2283.2 86.9,2266.7 88.4,2257.7 89.9,2247.2 91.4,2224.7 92.9,2220.3 94.4,2212.8 95.9,2206.8 97.3,2200.8 100.3,2202.3 103.3,2204.4 106.3,2200.8 108.4,2194.8 110.2,2188.8 113.8,2190.3 116.1,2191.5 118.3,2193.3 120.7,2188.8 122.8,2185.8 125.8,2184.3 128.8,2179.8 131.8,2181.3 134.8,2182.8 138.4,2176.2 142.3,2176.8 144.5,2176.4 146.8,2175.3 149.8,2177.1 152.8,2178.3 154.9,2179.9 157,2181.9 159.1,2183.7 161.2,2185.6 163.2,2187.3 165.5,2189.4 167.7,2190.5 170,2192.3 172.2,2194.8 174.5,2196.2 176.7,2198.3 179,2199.4 181.2,2201.6 183.5,2203.7 185.7,2205.3 187.8,2206.8 189.9,2209.3 192,2211 194.1,2212 196.2,2213.8 198.3,2216.1 200.4,2218.2 202.5,2219.5 204.6,2221.2 206.7,2223.2 209.7,2222.4 212.7,2221.7 214.8,2223.2 216.9,2225.3 219,2227.4 221.1,2229.4 223.2,2231.3 225.7,2231.9 228.1,2232.7 230.6,2233.7 233,2235 235.4,2236.7 237.8,2238 240.2,2239.3 242.6,2241.2 243.2,2239.1 245.3,2241.1 247.4,2242.5 249.5,2244.2 251.6,2245.7 254.1,2245.4 256.6,2246.2 259.1,2245.7 261.2,2247.8 263.4,2249 265.5,2251 267.7,2253.1 269.8,2254.9 271.9,2256.9 274.1,2258.3 277.1,2256.5 279.6,2259.6 282.1,2263.2 284.6,2266.1 287.6,2264 290,2266.2 292.3,2267.9 294.7,2270.2 297.1,2272.5 299.5,2274.2 301,2271.2 303.2,2273.6 305.4,2275.3 307.6,2277.5 309.8,2279 312,2281.3 314.2,2283.9 316.4,2285.6 318.5,2287.5 320.7,2289.9 322.9,2292.1 325.1,2294.1 327.3,2295.9 329.5,2298.1 331,2294.5 333.5,2296.7 336,2298.9 338.5,2301.1 340,2298.1 342.2,2300.3 344.5,2301.9 346.7,2303.7 349,2305.6 350.5,2301.4 353.5,2305 356.4,2308.6 359.4,2303.2 362.4,2298.7 364.8,2300.3 367.2,2302.9 369.6,2305.1 372,2306.7 374.4,2308.6 377.4,2303.2 381,2307.4 382.8,2303.5 384.9,2308 387.9,2302.2 390.9,2296.6 393.1,2298.3 395.3,2300.6 397.5,2303.1 399.6,2304.9 401.8,2306.7 404,2309 406.2,2310.4 408.4,2312.7 410.6,2315.1 412.8,2316.7 415,2318.6 417.2,2320.5 419.4,2322.7 422.3,2316.1 425.3,2320.6 426.8,2314 429.1,2316.6 431.3,2319.1 434.3,2312.2 437.3,2316.1 438.8,2308 441.1,2310.7 443.3,2312.5" fill="none" stroke="#00f000" stroke-width="2.6" stroke-linejoin="round"/>
<text x="203.7" y="2148.4" font-size="37.5" font-weight="bold" textLength="119.2" lengthAdjust="spacing">STAT3</text>
<text transform="translate(291.1 2202.3) scale(1.103 1)" font-size="27" >NES = 2.69</text>
<text transform="translate(256.7 2238.8) scale(1.1 1)" font-size="27" >FWER = 0.000</text>
<text x="38" y="2304" font-size="22.5" text-anchor="middle" font-weight="bold" textLength="190" lengthAdjust="spacing" transform="rotate(-90 38 2304)">Enrichment Score</text>
<text transform="translate(64.4 2462.9) scale(0.934 1)" font-size="28.3" font-weight="bold" fill="#ff0808" letter-spacing="2.2" >Responders</text>
<text transform="translate(259.1 2462.9) scale(0.932 1)" font-size="28.3" font-weight="bold" fill="#1e1ed0" letter-spacing="2.2" >Non-responders</text>
<rect x="561.9" y="2170.2" width="406.4" height="226.8" fill="#f2f2f2"/>
<rect x="589.7" y="2170.2" width="372.9" height="226.8" fill="#fff"/>
<path d="M589.7 2185.8H962.6M589.7 2201.6H962.6M589.7 2217.3H962.6M589.7 2233H962.6M589.7 2248.7H962.6M589.7 2264.4H962.6M589.7 2280.2H962.6M589.7 2295.9H962.6M589.7 2311.6H962.6M589.7 2327.3H962.6M642.8 2170.2V2331M695.2 2170.2V2331M747.6 2170.2V2331M800.6 2170.2V2331M853 2170.2V2331M905.7 2170.2V2331M958.1 2170.2V2331" stroke="#d4d4d4" stroke-width="0.9" fill="none" stroke-dasharray="1.5 1.5"/>
<line x1="589.7" y1="2311.6" x2="962.6" y2="2311.6" stroke="#9a9a9a" stroke-width="1" />
<path d="M589.7 2170.2V2331 M962.6 2170.2V2397 M589.7 2170.2H962.6 M589.7 2331H962.6 M589.7 2383.5H962.6" stroke="#b5b5b5" stroke-width="1" fill="none" />
<line x1="589.7" y1="2170.2" x2="589.7" y2="2331" stroke="#777" stroke-width="1" />
<text x="582.7" y="2189.1" font-size="9.3" text-anchor="end" fill="#333">0.40</text>
<line x1="587.2" y1="2185.8" x2="589.7" y2="2185.8" stroke="#777" stroke-width="0.8" />
<text x="582.7" y="2204.9" font-size="9.3" text-anchor="end" fill="#333">0.35</text>
<line x1="587.2" y1="2201.6" x2="589.7" y2="2201.6" stroke="#777" stroke-width="0.8" />
<text x="582.7" y="2220.6" font-size="9.3" text-anchor="end" fill="#333">0.30</text>
<line x1="587.2" y1="2217.3" x2="589.7" y2="2217.3" stroke="#777" stroke-width="0.8" />
<text x="582.7" y="2236.3" font-size="9.3" text-anchor="end" fill="#333">0.25</text>
<line x1="587.2" y1="2233" x2="589.7" y2="2233" stroke="#777" stroke-width="0.8" />
<text x="582.7" y="2252" font-size="9.3" text-anchor="end" fill="#333">0.20</text>
<line x1="587.2" y1="2248.7" x2="589.7" y2="2248.7" stroke="#777" stroke-width="0.8" />
<text x="582.7" y="2267.7" font-size="9.3" text-anchor="end" fill="#333">0.15</text>
<line x1="587.2" y1="2264.4" x2="589.7" y2="2264.4" stroke="#777" stroke-width="0.8" />
<text x="582.7" y="2283.5" font-size="9.3" text-anchor="end" fill="#333">0.10</text>
<line x1="587.2" y1="2280.2" x2="589.7" y2="2280.2" stroke="#777" stroke-width="0.8" />
<text x="582.7" y="2299.2" font-size="9.3" text-anchor="end" fill="#333">0.05</text>
<line x1="587.2" y1="2295.9" x2="589.7" y2="2295.9" stroke="#777" stroke-width="0.8" />
<text x="582.7" y="2314.9" font-size="9.3" text-anchor="end" fill="#333">0.00</text>
<line x1="587.2" y1="2311.6" x2="589.7" y2="2311.6" stroke="#777" stroke-width="0.8" />
<text x="582.7" y="2330.6" font-size="9.3" text-anchor="end" fill="#333">0.05</text>
<line x1="587.2" y1="2327.3" x2="589.7" y2="2327.3" stroke="#777" stroke-width="0.8" />
<path d="M589.7 2332V2383.5M590.6 2332V2383.5M591.2 2332V2383.5M592.5 2332V2383.5M593 2332V2383.5M594.2 2332V2383.5M595.1 2332V2383.5M595.6 2332V2383.5M596.7 2332V2383.5M597.1 2332V2383.5M598.2 2332V2383.5M598.6 2332V2383.5M599.2 2332V2383.5M600.2 2332V2383.5M601.7 2332V2383.5M602.3 2332V2383.5M603 2332V2383.5M604.3 2332V2383.5M606.1 2332V2383.5M607.3 2332V2383.5M608.2 2332V2383.5M610 2332V2383.5M610.5 2332V2383.5M612.1 2332V2383.5M612.9 2332V2383.5M613.5 2332V2383.5M614.1 2332V2383.5M614.9 2332V2383.5M616.5 2332V2383.5M617.1 2332V2383.5M618.4 2332V2383.5M619.7 2332V2383.5M620.6 2332V2383.5M621.8 2332V2383.5M622.3 2332V2383.5M622.7 2332V2383.5M623.4 2332V2383.5M624.8 2332V2383.5M625.8 2332V2383.5M626.6 2332V2383.5M627.9 2332V2383.5M628.9 2332V2383.5M629.7 2332V2383.5M631.3 2332V2383.5M632.7 2332V2383.5M633.4 2332V2383.5M634.6 2332V2383.5M635.8 2332V2383.5M636.8 2332V2383.5M639.8 2332V2383.5M641.4 2332V2383.5M645.2 2332V2383.5M646.3 2332V2383.5M648.4 2332V2383.5M651.5 2332V2383.5M652.7 2332V2383.5M655 2332V2383.5M655.9 2332V2383.5M658.7 2332V2383.5M661.8 2332V2383.5M664.4 2332V2383.5M667.8 2332V2383.5M669.5 2332V2383.5M672.4 2332V2383.5M675 2332V2383.5M677.5 2332V2383.5M679.7 2332V2383.5M683 2332V2383.5M686.7 2332V2383.5M688.9 2332V2383.5M691.7 2332V2383.5M692.7 2332V2383.5M695.6 2332V2383.5M698.3 2332V2383.5M702.1 2332V2383.5M705.4 2332V2383.5M707 2332V2383.5M709 2332V2383.5M711.8 2332V2383.5M712.7 2332V2383.5M714.9 2332V2383.5M716.2 2332V2383.5M717.4 2332V2383.5M718.3 2332V2383.5M721.4 2332V2383.5M722.6 2332V2383.5M723.6 2332V2383.5M726.5 2332V2383.5M731.4 2332V2383.5M732.9 2332V2383.5M736.1 2332V2383.5M739.6 2332V2383.5M744.6 2332V2383.5M750.6 2332V2383.5M754.3 2332V2383.5M756.1 2332V2383.5M758.3 2332V2383.5M760.3 2332V2383.5M764.1 2332V2383.5M768 2332V2383.5M769.4 2332V2383.5M770.8 2332V2383.5M772.5 2332V2383.5M786.5 2332V2383.5M790.7 2332V2383.5M795.5 2332V2383.5M798.5 2332V2383.5M800 2332V2383.5M803.8 2332V2383.5M807.4 2332V2383.5M819.5 2332V2383.5M830.8 2332V2383.5M839.7 2332V2383.5M847 2332V2383.5M855.2 2332V2383.5M864 2332V2383.5M867 2332V2383.5M877.8 2332V2383.5M887.5 2332V2383.5M898.9 2332V2383.5M904.8 2332V2383.5M908.5 2332V2383.5M912.2 2332V2383.5M914.3 2332V2383.5M921.3 2332V2383.5M923.5 2332V2383.5M925.7 2332V2383.5M928.8 2332V2383.5M931.6 2332V2383.5M935.5 2332V2383.5M937.6 2332V2383.5M939.4 2332V2383.5M942.1 2332V2383.5" stroke="#000" stroke-width="1.1" fill="none" stroke-opacity="0.9"/>
<defs><linearGradient id="cg20"><stop offset="0" stop-color="#e23c3c"/><stop offset="1" stop-color="#ff8888"/></linearGradient></defs>
<rect x="589.7" y="2383.5" width="78.2" height="13.5" fill="url(#cg20)"/>
<defs><linearGradient id="cg21"><stop offset="0" stop-color="#ffb4dc"/><stop offset="1" stop-color="#f8b0e0"/></linearGradient></defs>
<rect x="667.6" y="2383.5" width="21.2" height="13.5" fill="url(#cg21)"/>
<defs><linearGradient id="cg22"><stop offset="0" stop-color="#d4ccff"/><stop offset="1" stop-color="#c8bcff"/></linearGradient></defs>
<rect x="688.5" y="2383.5" width="70.4" height="13.5" fill="url(#cg22)"/>
<defs><linearGradient id="cg23"><stop offset="0" stop-color="#8c8cff"/><stop offset="1" stop-color="#8484fa"/></linearGradient></defs>
<rect x="758.6" y="2383.5" width="55.1" height="13.5" fill="url(#cg23)"/>
<defs><linearGradient id="cg24"><stop offset="0" stop-color="#6a58ea"/><stop offset="1" stop-color="#6a54e8"/></linearGradient></defs>
<rect x="813.4" y="2383.5" width="100" height="13.5" fill="url(#cg24)"/>
<defs><linearGradient id="cg25"><stop offset="0" stop-color="#2a08d0"/><stop offset="1" stop-color="#3a0ab0"/></linearGradient></defs>
<rect x="913.1" y="2383.5" width="30.8" height="13.5" fill="url(#cg25)"/>
<path d="M589.7 2383.5V2397M590.6 2383.5V2397M591.2 2383.5V2397M592.5 2383.5V2397M593 2383.5V2397M594.2 2383.5V2397M595.1 2383.5V2397M595.6 2383.5V2397M596.7 2383.5V2397M597.1 2383.5V2397M598.2 2383.5V2397M598.6 2383.5V2397M599.2 2383.5V2397M600.2 2383.5V2397M601.7 2383.5V2397M602.3 2383.5V2397M603 2383.5V2397M604.3 2383.5V2397M606.1 2383.5V2397M607.3 2383.5V2397M608.2 2383.5V2397M610 2383.5V2397M610.5 2383.5V2397M612.1 2383.5V2397M612.9 2383.5V2397M613.5 2383.5V2397M614.1 2383.5V2397M614.9 2383.5V2397M616.5 2383.5V2397M617.1 2383.5V2397M618.4 2383.5V2397M619.7 2383.5V2397M620.6 2383.5V2397M621.8 2383.5V2397M622.3 2383.5V2397M622.7 2383.5V2397M623.4 2383.5V2397M624.8 2383.5V2397M625.8 2383.5V2397M626.6 2383.5V2397M627.9 2383.5V2397M628.9 2383.5V2397M629.7 2383.5V2397M631.3 2383.5V2397M632.7 2383.5V2397M633.4 2383.5V2397M634.6 2383.5V2397M635.8 2383.5V2397M636.8 2383.5V2397M639.8 2383.5V2397M641.4 2383.5V2397M645.2 2383.5V2397M646.3 2383.5V2397M648.4 2383.5V2397M651.5 2383.5V2397M652.7 2383.5V2397M655 2383.5V2397M655.9 2383.5V2397M658.7 2383.5V2397M661.8 2383.5V2397M664.4 2383.5V2397M667.8 2383.5V2397M669.5 2383.5V2397M672.4 2383.5V2397M675 2383.5V2397M677.5 2383.5V2397M679.7 2383.5V2397M683 2383.5V2397M686.7 2383.5V2397M688.9 2383.5V2397M691.7 2383.5V2397M692.7 2383.5V2397M695.6 2383.5V2397M698.3 2383.5V2397M702.1 2383.5V2397M705.4 2383.5V2397M707 2383.5V2397M709 2383.5V2397M711.8 2383.5V2397M712.7 2383.5V2397M714.9 2383.5V2397M716.2 2383.5V2397M717.4 2383.5V2397M718.3 2383.5V2397M721.4 2383.5V2397M722.6 2383.5V2397M723.6 2383.5V2397M726.5 2383.5V2397M731.4 2383.5V2397M732.9 2383.5V2397M736.1 2383.5V2397M739.6 2383.5V2397M744.6 2383.5V2397M750.6 2383.5V2397M754.3 2383.5V2397M756.1 2383.5V2397M758.3 2383.5V2397M760.3 2383.5V2397M764.1 2383.5V2397M768 2383.5V2397M769.4 2383.5V2397M770.8 2383.5V2397M772.5 2383.5V2397M786.5 2383.5V2397M790.7 2383.5V2397M795.5 2383.5V2397M798.5 2383.5V2397M800 2383.5V2397M803.8 2383.5V2397M807.4 2383.5V2397M819.5 2383.5V2397M830.8 2383.5V2397M839.7 2383.5V2397M847 2383.5V2397M855.2 2383.5V2397M864 2383.5V2397M867 2383.5V2397M877.8 2383.5V2397M887.5 2383.5V2397M898.9 2383.5V2397M904.8 2383.5V2397M908.5 2383.5V2397M912.2 2383.5V2397M914.3 2383.5V2397M921.3 2383.5V2397M923.5 2383.5V2397M925.7 2383.5V2397M928.8 2383.5V2397M931.6 2383.5V2397M935.5 2383.5V2397M937.6 2383.5V2397M939.4 2383.5V2397M942.1 2383.5V2397" stroke="#000" stroke-width="0.9" fill="none" stroke-opacity="0.13"/>
<polyline points="589.7,2305.6 590.3,2281.7 591.8,2263.7 593.3,2248.7 596.3,2238.2 599.3,2230.7 601.4,2227.7 603.2,2215.8 606.8,2212.8 609.8,2208.3 611.3,2200.8 613.6,2198.9 615.8,2196.3 618.8,2193.3 621,2192.9 623.3,2191.8 626.3,2185.8 628.5,2182.4 630.8,2179.8 633,2178.2 635.3,2177.4 637.5,2178.5 639.8,2178.9 642.8,2180.3 645.8,2181.3 648.8,2182.2 651.7,2182.8 654,2184.1 656.2,2185.9 658.5,2187.4 660.7,2188.8 663.7,2189.6 666.7,2190.3 669.1,2191.5 671.5,2193.2 673.9,2194.7 676.3,2196.5 678.7,2197.8 681,2200.1 683.2,2201.9 685.4,2203.4 687.7,2205.3 690.1,2207.3 692.5,2209.3 694.9,2211.1 697.3,2213.2 699.7,2215.8 701.9,2217.2 704.2,2218.6 706.4,2220.1 708.7,2221.7 711.7,2221.7 713.9,2223.6 716.1,2224.8 718.4,2226.3 720.6,2227.7 722.9,2229.2 725.1,2230.8 727.4,2232.7 729.6,2234.6 731.9,2235.2 734.1,2236.4 736.4,2237.8 738.6,2238.2 741.6,2239.9 744.6,2241.2 747.6,2243.2 750.6,2245.7 753.6,2245.8 756.6,2245.1 759.6,2246.1 762.6,2246.6 764.8,2247 767.1,2247.3 769.3,2247.3 771.6,2247.2 773.7,2249.1 775.8,2250.2 778,2252.4 780.1,2254 782.3,2254.8 784.4,2256.9 786.5,2258.3 789.5,2258.9 792.5,2259.2 794,2261.3 796.5,2262.3 799,2263.3 801.5,2264.3 804.5,2265.5 807.5,2266.7 809.9,2268.9 812.3,2270.3 814.7,2272.4 817.1,2273.7 819.5,2275.7 821,2274.2 823.1,2276.6 825.2,2278.7 827.3,2280.4 829.4,2282.6 831.5,2284.7 834.5,2283.2 836.7,2285.6 839,2287.4 841.2,2289.2 843.5,2291.2 844.9,2290 847.2,2293.1 849.4,2296.6 851.7,2295 853.9,2293.6 856.2,2295.3 858.4,2296.6 860.7,2297.8 862.9,2300 865.2,2300.9 867.4,2302.6 870.4,2304.5 873.4,2305.6 876.4,2304.1 879.4,2308 882.4,2307.4 885.4,2307.1 888.4,2308.6 890.6,2310.2 892.9,2311 895.9,2314 898.9,2316.7 901.9,2314.9 904.9,2313.1 907.1,2314.3 909.4,2315.5 912.3,2312.5 914.6,2314.4 916.8,2316.1 919.8,2317.4 922.8,2318.5 925.8,2317.6 928.8,2323 930.3,2311.6 933.3,2314.6 936.3,2309.5 939.3,2313.1 942.3,2314.6 943.8,2310.1" fill="none" stroke="#00f000" stroke-width="2.6" stroke-linejoin="round"/>
<text x="705.7" y="2148.4" font-size="37.5" font-weight="bold" textLength="117.7" lengthAdjust="spacing">STAT5</text>
<text transform="translate(791.9 2202.3) scale(1.103 1)" font-size="27" >NES = 2.92</text>
<text transform="translate(757.5 2238.8) scale(1.102 1)" font-size="27" >FWER = 0.000</text>
<text x="525.5" y="2304" font-size="22.5" text-anchor="middle" font-weight="bold" textLength="190" lengthAdjust="spacing" transform="rotate(-90 525.5 2304)">Enrichment Score</text>
<text transform="translate(585.8 2462.9) scale(0.934 1)" font-size="28.3" font-weight="bold" fill="#ff0808" letter-spacing="2.2" >Responders</text>
<text transform="translate(770 2462.9) scale(0.932 1)" font-size="28.3" font-weight="bold" fill="#1e1ed0" letter-spacing="2.2" >Non-responders</text>
<rect x="1064.9" y="2168.4" width="415.4" height="229.2" fill="#f2f2f2"/>
<rect x="1093.9" y="2168.4" width="379.8" height="229.2" fill="#fff"/>
<path d="M1093.9 2182.2H1473.7M1093.9 2199.9H1473.7M1093.9 2218.7H1473.7M1093.9 2237.3H1473.7M1093.9 2255.3H1473.7M1093.9 2273.5H1473.7M1093.9 2292.1H1473.7M1093.9 2310.4H1473.7M1093.9 2329H1473.7M1147.8 2168.4V2331M1201.8 2168.4V2331M1255.4 2168.4V2331M1309 2168.4V2331M1362.3 2168.4V2331M1415.9 2168.4V2331M1469.8 2168.4V2331" stroke="#d4d4d4" stroke-width="0.9" fill="none" stroke-dasharray="1.5 1.5"/>
<line x1="1093.9" y1="2310.4" x2="1473.7" y2="2310.4" stroke="#9a9a9a" stroke-width="1" />
<path d="M1093.9 2168.4V2331 M1473.7 2168.4V2397.6 M1093.9 2168.4H1473.7 M1093.9 2331H1473.7 M1093.9 2383.5H1473.7" stroke="#b5b5b5" stroke-width="1" fill="none" />
<line x1="1093.9" y1="2168.4" x2="1093.9" y2="2331" stroke="#777" stroke-width="1" />
<text x="1086.9" y="2185.5" font-size="9.3" text-anchor="end" fill="#333">0.35</text>
<line x1="1091.4" y1="2182.2" x2="1093.9" y2="2182.2" stroke="#777" stroke-width="0.8" />
<text x="1086.9" y="2203.2" font-size="9.3" text-anchor="end" fill="#333">0.30</text>
<line x1="1091.4" y1="2199.9" x2="1093.9" y2="2199.9" stroke="#777" stroke-width="0.8" />
<text x="1086.9" y="2222" font-size="9.3" text-anchor="end" fill="#333">0.25</text>
<line x1="1091.4" y1="2218.7" x2="1093.9" y2="2218.7" stroke="#777" stroke-width="0.8" />
<text x="1086.9" y="2240.6" font-size="9.3" text-anchor="end" fill="#333">0.20</text>
<line x1="1091.4" y1="2237.3" x2="1093.9" y2="2237.3" stroke="#777" stroke-width="0.8" />
<text x="1086.9" y="2258.6" font-size="9.3" text-anchor="end" fill="#333">0.15</text>
<line x1="1091.4" y1="2255.3" x2="1093.9" y2="2255.3" stroke="#777" stroke-width="0.8" />
<text x="1086.9" y="2276.8" font-size="9.3" text-anchor="end" fill="#333">0.10</text>
<line x1="1091.4" y1="2273.5" x2="1093.9" y2="2273.5" stroke="#777" stroke-width="0.8" />
<text x="1086.9" y="2295.4" font-size="9.3" text-anchor="end" fill="#333">0.05</text>
<line x1="1091.4" y1="2292.1" x2="1093.9" y2="2292.1" stroke="#777" stroke-width="0.8" />
<text x="1086.9" y="2313.7" font-size="9.3" text-anchor="end" fill="#333">0.00</text>
<line x1="1091.4" y1="2310.4" x2="1093.9" y2="2310.4" stroke="#777" stroke-width="0.8" />
<text x="1086.9" y="2332.3" font-size="9.3" text-anchor="end" fill="#333">0.05</text>
<line x1="1091.4" y1="2329" x2="1093.9" y2="2329" stroke="#777" stroke-width="0.8" />
<path d="M1094.2 2332V2383.5M1095 2332V2383.5M1096.9 2332V2383.5M1097.5 2332V2383.5M1099.1 2332V2383.5M1099.6 2332V2383.5M1100.4 2332V2383.5M1102.4 2332V2383.5M1103.1 2332V2383.5M1104.6 2332V2383.5M1105.7 2332V2383.5M1106.8 2332V2383.5M1108 2332V2383.5M1108.7 2332V2383.5M1110.4 2332V2383.5M1111 2332V2383.5M1111.8 2332V2383.5M1112.2 2332V2383.5M1113.1 2332V2383.5M1114.1 2332V2383.5M1115.9 2332V2383.5M1117 2332V2383.5M1117.6 2332V2383.5M1118.4 2332V2383.5M1120.3 2332V2383.5M1120.9 2332V2383.5M1122.2 2332V2383.5M1123.2 2332V2383.5M1124.7 2332V2383.5M1125.6 2332V2383.5M1127.1 2332V2383.5M1128.3 2332V2383.5M1129.8 2332V2383.5M1131.6 2332V2383.5M1132.9 2332V2383.5M1133.6 2332V2383.5M1133.8 2332V2383.5M1136.6 2332V2383.5M1138.3 2332V2383.5M1139.4 2332V2383.5M1142.1 2332V2383.5M1144.1 2332V2383.5M1146.4 2332V2383.5M1149 2332V2383.5M1150.3 2332V2383.5M1151.7 2332V2383.5M1154.3 2332V2383.5M1155.3 2332V2383.5M1157.6 2332V2383.5M1158.5 2332V2383.5M1160.7 2332V2383.5M1162.9 2332V2383.5M1165.7 2332V2383.5M1168.2 2332V2383.5M1169.7 2332V2383.5M1171.4 2332V2383.5M1172.9 2332V2383.5M1175.7 2332V2383.5M1178.4 2332V2383.5M1179.6 2332V2383.5M1183.8 2332V2383.5M1186.5 2332V2383.5M1190 2332V2383.5M1191.7 2332V2383.5M1193.5 2332V2383.5M1194.5 2332V2383.5M1196.7 2332V2383.5M1198.6 2332V2383.5M1201 2332V2383.5M1203.3 2332V2383.5M1207.2 2332V2383.5M1211.3 2332V2383.5M1212.9 2332V2383.5M1215.3 2332V2383.5M1216.8 2332V2383.5M1220.1 2332V2383.5M1224.5 2332V2383.5M1226.2 2332V2383.5M1229.9 2332V2383.5M1231.9 2332V2383.5M1232.9 2332V2383.5M1241.6 2332V2383.5M1245 2332V2383.5M1247.5 2332V2383.5M1251.4 2332V2383.5M1254.2 2332V2383.5M1257.9 2332V2383.5M1261.9 2332V2383.5M1265.7 2332V2383.5M1270.5 2332V2383.5M1273.6 2332V2383.5M1275.6 2332V2383.5M1277.6 2332V2383.5M1279.7 2332V2383.5M1284.1 2332V2383.5M1298.5 2332V2383.5M1301.5 2332V2383.5M1303.7 2332V2383.5M1306.4 2332V2383.5M1309.9 2332V2383.5M1310.8 2332V2383.5M1311.6 2332V2383.5M1312.7 2332V2383.5M1314.5 2332V2383.5M1316.9 2332V2383.5M1322.5 2332V2383.5M1326.5 2332V2383.5M1334.5 2332V2383.5M1336.3 2332V2383.5M1358.4 2332V2383.5M1361.1 2332V2383.5M1367.5 2332V2383.5M1369.1 2332V2383.5M1376 2332V2383.5M1381.7 2332V2383.5M1388.7 2332V2383.5M1393.5 2332V2383.5M1401.9 2332V2383.5M1417.9 2332V2383.5M1425.8 2332V2383.5M1427.3 2332V2383.5M1431.1 2332V2383.5M1434.5 2332V2383.5M1437.7 2332V2383.5M1439.5 2332V2383.5M1441.2 2332V2383.5M1444.9 2332V2383.5M1448 2332V2383.5M1449.7 2332V2383.5M1452.8 2332V2383.5" stroke="#000" stroke-width="1.1" fill="none" stroke-opacity="0.9"/>
<defs><linearGradient id="cg30"><stop offset="0" stop-color="#e23c3c"/><stop offset="1" stop-color="#ff8888"/></linearGradient></defs>
<rect x="1093.9" y="2383.5" width="79.7" height="14.1" fill="url(#cg30)"/>
<defs><linearGradient id="cg31"><stop offset="0" stop-color="#ffb4dc"/><stop offset="1" stop-color="#f8b0e0"/></linearGradient></defs>
<rect x="1173.3" y="2383.5" width="23.7" height="14.1" fill="url(#cg31)"/>
<defs><linearGradient id="cg32"><stop offset="0" stop-color="#d4ccff"/><stop offset="1" stop-color="#c8bcff"/></linearGradient></defs>
<rect x="1196.7" y="2383.5" width="69.2" height="14.1" fill="url(#cg32)"/>
<defs><linearGradient id="cg33"><stop offset="0" stop-color="#8c8cff"/><stop offset="1" stop-color="#8484fa"/></linearGradient></defs>
<rect x="1265.6" y="2383.5" width="57.2" height="14.1" fill="url(#cg33)"/>
<defs><linearGradient id="cg34"><stop offset="0" stop-color="#6a58ea"/><stop offset="1" stop-color="#6a54e8"/></linearGradient></defs>
<rect x="1322.5" y="2383.5" width="101.5" height="14.1" fill="url(#cg34)"/>
<defs><linearGradient id="cg35"><stop offset="0" stop-color="#2a08d0"/><stop offset="1" stop-color="#3a0ab0"/></linearGradient></defs>
<rect x="1423.7" y="2383.5" width="31.8" height="14.1" fill="url(#cg35)"/>
<path d="M1094.2 2383.5V2397.6M1095 2383.5V2397.6M1096.9 2383.5V2397.6M1097.5 2383.5V2397.6M1099.1 2383.5V2397.6M1099.6 2383.5V2397.6M1100.4 2383.5V2397.6M1102.4 2383.5V2397.6M1103.1 2383.5V2397.6M1104.6 2383.5V2397.6M1105.7 2383.5V2397.6M1106.8 2383.5V2397.6M1108 2383.5V2397.6M1108.7 2383.5V2397.6M1110.4 2383.5V2397.6M1111 2383.5V2397.6M1111.8 2383.5V2397.6M1112.2 2383.5V2397.6M1113.1 2383.5V2397.6M1114.1 2383.5V2397.6M1115.9 2383.5V2397.6M1117 2383.5V2397.6M1117.6 2383.5V2397.6M1118.4 2383.5V2397.6M1120.3 2383.5V2397.6M1120.9 2383.5V2397.6M1122.2 2383.5V2397.6M1123.2 2383.5V2397.6M1124.7 2383.5V2397.6M1125.6 2383.5V2397.6M1127.1 2383.5V2397.6M1128.3 2383.5V2397.6M1129.8 2383.5V2397.6M1131.6 2383.5V2397.6M1132.9 2383.5V2397.6M1133.6 2383.5V2397.6M1133.8 2383.5V2397.6M1136.6 2383.5V2397.6M1138.3 2383.5V2397.6M1139.4 2383.5V2397.6M1142.1 2383.5V2397.6M1144.1 2383.5V2397.6M1146.4 2383.5V2397.6M1149 2383.5V2397.6M1150.3 2383.5V2397.6M1151.7 2383.5V2397.6M1154.3 2383.5V2397.6M1155.3 2383.5V2397.6M1157.6 2383.5V2397.6M1158.5 2383.5V2397.6M1160.7 2383.5V2397.6M1162.9 2383.5V2397.6M1165.7 2383.5V2397.6M1168.2 2383.5V2397.6M1169.7 2383.5V2397.6M1171.4 2383.5V2397.6M1172.9 2383.5V2397.6M1175.7 2383.5V2397.6M1178.4 2383.5V2397.6M1179.6 2383.5V2397.6M1183.8 2383.5V2397.6M1186.5 2383.5V2397.6M1190 2383.5V2397.6M1191.7 2383.5V2397.6M1193.5 2383.5V2397.6M1194.5 2383.5V2397.6M1196.7 2383.5V2397.6M1198.6 2383.5V2397.6M1201 2383.5V2397.6M1203.3 2383.5V2397.6M1207.2 2383.5V2397.6M1211.3 2383.5V2397.6M1212.9 2383.5V2397.6M1215.3 2383.5V2397.6M1216.8 2383.5V2397.6M1220.1 2383.5V2397.6M1224.5 2383.5V2397.6M1226.2 2383.5V2397.6M1229.9 2383.5V2397.6M1231.9 2383.5V2397.6M1232.9 2383.5V2397.6M1241.6 2383.5V2397.6M1245 2383.5V2397.6M1247.5 2383.5V2397.6M1251.4 2383.5V2397.6M1254.2 2383.5V2397.6M1257.9 2383.5V2397.6M1261.9 2383.5V2397.6M1265.7 2383.5V2397.6M1270.5 2383.5V2397.6M1273.6 2383.5V2397.6M1275.6 2383.5V2397.6M1277.6 2383.5V2397.6M1279.7 2383.5V2397.6M1284.1 2383.5V2397.6M1298.5 2383.5V2397.6M1301.5 2383.5V2397.6M1303.7 2383.5V2397.6M1306.4 2383.5V2397.6M1309.9 2383.5V2397.6M1310.8 2383.5V2397.6M1311.6 2383.5V2397.6M1312.7 2383.5V2397.6M1314.5 2383.5V2397.6M1316.9 2383.5V2397.6M1322.5 2383.5V2397.6M1326.5 2383.5V2397.6M1334.5 2383.5V2397.6M1336.3 2383.5V2397.6M1358.4 2383.5V2397.6M1361.1 2383.5V2397.6M1367.5 2383.5V2397.6M1369.1 2383.5V2397.6M1376 2383.5V2397.6M1381.7 2383.5V2397.6M1388.7 2383.5V2397.6M1393.5 2383.5V2397.6M1401.9 2383.5V2397.6M1417.9 2383.5V2397.6M1425.8 2383.5V2397.6M1427.3 2383.5V2397.6M1431.1 2383.5V2397.6M1434.5 2383.5V2397.6M1437.7 2383.5V2397.6M1439.5 2383.5V2397.6M1441.2 2383.5V2397.6M1444.9 2383.5V2397.6M1448 2383.5V2397.6M1449.7 2383.5V2397.6M1452.8 2383.5V2397.6" stroke="#000" stroke-width="0.9" fill="none" stroke-opacity="0.13"/>
<polyline points="1094.2,2305.6 1094.8,2287.6 1095.7,2269.7 1097.2,2251.7 1099.3,2242.7 1101.4,2233.7 1103.8,2224.7 1106.1,2222.3 1108.3,2220.3 1110.4,2211.3 1114.3,2209.2 1117.3,2203.8 1119.5,2199.3 1121.8,2194.8 1124.8,2193.9 1127.8,2193.3 1130,2188.9 1132.3,2184.3 1134.5,2183.7 1136.8,2182.8 1139.8,2177.7 1142,2177.9 1144.3,2178.3 1146.5,2179.6 1148.8,2179.8 1150.9,2179.4 1152.9,2179.2 1155,2179.7 1157.1,2179.1 1159.2,2178.9 1161.5,2180 1163.7,2180.4 1166.7,2183.1 1169.7,2185.8 1172,2187.4 1174.2,2188.5 1176.5,2190.4 1178.7,2191.8 1181,2194.4 1183.2,2196.3 1185.4,2198.8 1187.7,2200.8 1189.8,2203.3 1192,2205.1 1194.1,2208.1 1196.3,2210.3 1198.4,2212.4 1200.5,2214.5 1202.7,2217.3 1204.9,2219.1 1207.2,2220.2 1209.4,2221.9 1211.7,2223.2 1213.9,2224.7 1216.1,2225.7 1218.4,2227 1220.6,2227.7 1223,2229.7 1225.4,2232.2 1227.8,2234 1230.2,2236.5 1232.6,2238.2 1235,2240.7 1237.4,2242.1 1239.8,2244.2 1242.2,2246.4 1244.6,2248.7 1246.9,2251 1249.1,2252.4 1251.3,2254.4 1253.6,2256.2 1256.6,2256.5 1259.6,2257.1 1262.6,2259.6 1265.6,2262.2 1267.8,2262.5 1270.1,2262.8 1272.3,2263.4 1274.6,2263.7 1277.1,2266.1 1279.6,2268.6 1282,2270.6 1284.3,2270.7 1286.5,2270.6 1288.9,2273.5 1291.3,2275.9 1293.7,2278.6 1296.1,2280.8 1298.5,2283.2 1301.5,2278.7 1304.5,2277.6 1307.5,2277.2 1309.8,2278.5 1312,2279.3 1315.9,2273.6 1318.1,2275.2 1320.3,2276.3 1322.5,2277.2 1325.5,2279.8 1328.5,2282.3 1331.5,2284.4 1334.5,2286.1 1337.5,2284.1 1339.7,2286.8 1342,2290 1344.9,2283.2 1347.2,2285.9 1349.4,2288.2 1351.7,2290.4 1353.9,2292.7 1356.2,2296 1358.4,2298.1 1360.7,2298.6 1362.9,2298.1 1366.8,2302.6 1370.4,2298.1 1373.4,2298.5 1376.4,2299.6 1379.4,2302.1 1382.4,2304.1 1385.4,2304 1388.4,2304.1 1391.4,2304.1 1394.4,2304.7 1396.9,2307.1 1399.4,2310.2 1401.9,2312.5 1404.9,2306.2 1407.1,2310 1409.4,2313.1 1412.3,2311.6 1414.6,2313.3 1416.8,2315.9 1419.1,2317.5 1421.3,2320 1423.8,2321.1 1426.3,2321.6 1428.8,2322.7 1431.1,2319.7 1433.3,2316.1 1436.3,2316.5 1439.3,2316.1 1441.8,2313.1 1444.3,2310.6 1446.8,2307.1 1449.3,2308.9 1451.8,2310.7 1454.3,2313.1 1455.2,2308.6" fill="none" stroke="#00f000" stroke-width="2.6" stroke-linejoin="round"/>
<text x="1153.8" y="2148.4" font-size="37.5" font-weight="bold" textLength="231.6" lengthAdjust="spacing">inflammation</text>
<text transform="translate(1298.5 2202.3) scale(1.094 1)" font-size="27" >NES = 2.44</text>
<text transform="translate(1264 2238.8) scale(1.1 1)" font-size="27" >FWER = 0.000</text>
<text x="1048" y="2304" font-size="22.5" text-anchor="middle" font-weight="bold" textLength="190" lengthAdjust="spacing" transform="rotate(-90 1048 2304)">Enrichment Score</text>
<text transform="translate(1090.9 2460.5) scale(0.934 1)" font-size="28.3" font-weight="bold" fill="#ff0808" letter-spacing="2.2" >Responders</text>
<text transform="translate(1276.7 2460.5) scale(0.932 1)" font-size="28.3" font-weight="bold" fill="#1e1ed0" letter-spacing="2.2" >Non-responders</text>
<rect x="1537.8" y="2167.8" width="429.8" height="229.2" fill="#f2f2f2"/>
<rect x="1562.7" y="2167.8" width="398.6" height="229.2" fill="#fff"/>
<path d="M1562.7 2195.4H1961.3M1562.7 2223.8H1961.3M1562.7 2252.3H1961.3M1562.7 2280.8H1961.3M1562.7 2309.2H1961.3M1618.7 2167.8V2329M1675.3 2167.8V2329M1731.6 2167.8V2329M1788.5 2167.8V2329M1844.8 2167.8V2329M1900.8 2167.8V2329M1957.7 2167.8V2329" stroke="#d4d4d4" stroke-width="0.9" fill="none" stroke-dasharray="1.5 1.5"/>
<line x1="1562.7" y1="2309.2" x2="1961.3" y2="2309.2" stroke="#9a9a9a" stroke-width="1" />
<path d="M1562.7 2167.8V2329 M1961.3 2167.8V2397 M1562.7 2167.8H1961.3 M1562.7 2329H1961.3 M1562.7 2382.5H1961.3" stroke="#b5b5b5" stroke-width="1" fill="none" />
<line x1="1562.7" y1="2167.8" x2="1562.7" y2="2329" stroke="#777" stroke-width="1" />
<text x="1555.7" y="2198.7" font-size="9.3" text-anchor="end" fill="#333">0.4</text>
<line x1="1560.2" y1="2195.4" x2="1562.7" y2="2195.4" stroke="#777" stroke-width="0.8" />
<text x="1555.7" y="2227.1" font-size="9.3" text-anchor="end" fill="#333">0.3</text>
<line x1="1560.2" y1="2223.8" x2="1562.7" y2="2223.8" stroke="#777" stroke-width="0.8" />
<text x="1555.7" y="2255.6" font-size="9.3" text-anchor="end" fill="#333">0.2</text>
<line x1="1560.2" y1="2252.3" x2="1562.7" y2="2252.3" stroke="#777" stroke-width="0.8" />
<text x="1555.7" y="2284.1" font-size="9.3" text-anchor="end" fill="#333">0.1</text>
<line x1="1560.2" y1="2280.8" x2="1562.7" y2="2280.8" stroke="#777" stroke-width="0.8" />
<text x="1555.7" y="2312.5" font-size="9.3" text-anchor="end" fill="#333">0.0</text>
<line x1="1560.2" y1="2309.2" x2="1562.7" y2="2309.2" stroke="#777" stroke-width="0.8" />
<path d="M1562.7 2330V2382.5M1563.8 2330V2382.5M1564.8 2330V2382.5M1565.4 2330V2382.5M1567.2 2330V2382.5M1567.6 2330V2382.5M1568.8 2330V2382.5M1570.7 2330V2382.5M1571.2 2330V2382.5M1572.5 2330V2382.5M1573.9 2330V2382.5M1574.4 2330V2382.5M1575.4 2330V2382.5M1576.9 2330V2382.5M1578 2330V2382.5M1579.6 2330V2382.5M1580.2 2330V2382.5M1581 2330V2382.5M1581.6 2330V2382.5M1582.8 2330V2382.5M1584.7 2330V2382.5M1586 2330V2382.5M1587.6 2330V2382.5M1588.6 2330V2382.5M1590.2 2330V2382.5M1590.8 2330V2382.5M1591.7 2330V2382.5M1593.2 2330V2382.5M1594.7 2330V2382.5M1595.8 2330V2382.5M1596.3 2330V2382.5M1599.8 2330V2382.5M1601 2330V2382.5M1602.3 2330V2382.5M1604.9 2330V2382.5M1606.1 2330V2382.5M1608.9 2330V2382.5M1611.7 2330V2382.5M1614.8 2330V2382.5M1617.1 2330V2382.5M1619.8 2330V2382.5M1620.8 2330V2382.5M1623.3 2330V2382.5M1627.4 2330V2382.5M1628.8 2330V2382.5M1631.8 2330V2382.5M1633.2 2330V2382.5M1636.2 2330V2382.5M1640.4 2330V2382.5M1642 2330V2382.5M1643 2330V2382.5M1644.3 2330V2382.5M1647.1 2330V2382.5M1648.1 2330V2382.5M1649.4 2330V2382.5M1652.1 2330V2382.5M1656.3 2330V2382.5M1658.8 2330V2382.5M1667.2 2330V2382.5M1669.2 2330V2382.5M1670 2330V2382.5M1671.8 2330V2382.5M1672.8 2330V2382.5M1674.7 2330V2382.5M1680.7 2330V2382.5M1682.1 2330V2382.5M1685.7 2330V2382.5M1689.4 2330V2382.5M1691.3 2330V2382.5M1693.6 2330V2382.5M1699 2330V2382.5M1704.5 2330V2382.5M1706.2 2330V2382.5M1710.4 2330V2382.5M1715.7 2330V2382.5M1717.9 2330V2382.5M1721.7 2330V2382.5M1723.1 2330V2382.5M1725.8 2330V2382.5M1733.1 2330V2382.5M1737.9 2330V2382.5M1743.7 2330V2382.5M1745.7 2330V2382.5M1749.1 2330V2382.5M1760.1 2330V2382.5M1766.7 2330V2382.5M1772.3 2330V2382.5M1777.6 2330V2382.5M1787.3 2330V2382.5M1793.9 2330V2382.5M1796.1 2330V2382.5M1815.5 2330V2382.5M1819.4 2330V2382.5M1823.9 2330V2382.5M1827.1 2330V2382.5M1831.7 2330V2382.5M1835.5 2330V2382.5M1837.9 2330V2382.5M1843.7 2330V2382.5M1846.1 2330V2382.5M1852.9 2330V2382.5M1869.4 2330V2382.5M1873.5 2330V2382.5M1877.7 2330V2382.5M1880.7 2330V2382.5M1897.9 2330V2382.5M1903.6 2330V2382.5M1914.8 2330V2382.5M1922.5 2330V2382.5M1933.8 2330V2382.5M1936.8 2330V2382.5M1938.4 2330V2382.5M1940 2330V2382.5" stroke="#000" stroke-width="1.1" fill="none" stroke-opacity="0.9"/>
<defs><linearGradient id="cg40"><stop offset="0" stop-color="#e23c3c"/><stop offset="1" stop-color="#ff8888"/></linearGradient></defs>
<rect x="1562.7" y="2382.5" width="83.2" height="14.5" fill="url(#cg40)"/>
<defs><linearGradient id="cg41"><stop offset="0" stop-color="#ffb4dc"/><stop offset="1" stop-color="#f8b0e0"/></linearGradient></defs>
<rect x="1645.6" y="2382.5" width="23.4" height="14.5" fill="url(#cg41)"/>
<defs><linearGradient id="cg42"><stop offset="0" stop-color="#d4ccff"/><stop offset="1" stop-color="#c8bcff"/></linearGradient></defs>
<rect x="1668.7" y="2382.5" width="74.3" height="14.5" fill="url(#cg42)"/>
<defs><linearGradient id="cg43"><stop offset="0" stop-color="#8c8cff"/><stop offset="1" stop-color="#8484fa"/></linearGradient></defs>
<rect x="1742.7" y="2382.5" width="60.5" height="14.5" fill="url(#cg43)"/>
<defs><linearGradient id="cg44"><stop offset="0" stop-color="#6a58ea"/><stop offset="1" stop-color="#6a54e8"/></linearGradient></defs>
<rect x="1802.9" y="2382.5" width="106.3" height="14.5" fill="url(#cg44)"/>
<defs><linearGradient id="cg45"><stop offset="0" stop-color="#2a08d0"/><stop offset="1" stop-color="#3a0ab0"/></linearGradient></defs>
<rect x="1908.9" y="2382.5" width="32.7" height="14.5" fill="url(#cg45)"/>
<path d="M1562.7 2382.5V2397M1563.8 2382.5V2397M1564.8 2382.5V2397M1565.4 2382.5V2397M1567.2 2382.5V2397M1567.6 2382.5V2397M1568.8 2382.5V2397M1570.7 2382.5V2397M1571.2 2382.5V2397M1572.5 2382.5V2397M1573.9 2382.5V2397M1574.4 2382.5V2397M1575.4 2382.5V2397M1576.9 2382.5V2397M1578 2382.5V2397M1579.6 2382.5V2397M1580.2 2382.5V2397M1581 2382.5V2397M1581.6 2382.5V2397M1582.8 2382.5V2397M1584.7 2382.5V2397M1586 2382.5V2397M1587.6 2382.5V2397M1588.6 2382.5V2397M1590.2 2382.5V2397M1590.8 2382.5V2397M1591.7 2382.5V2397M1593.2 2382.5V2397M1594.7 2382.5V2397M1595.8 2382.5V2397M1596.3 2382.5V2397M1599.8 2382.5V2397M1601 2382.5V2397M1602.3 2382.5V2397M1604.9 2382.5V2397M1606.1 2382.5V2397M1608.9 2382.5V2397M1611.7 2382.5V2397M1614.8 2382.5V2397M1617.1 2382.5V2397M1619.8 2382.5V2397M1620.8 2382.5V2397M1623.3 2382.5V2397M1627.4 2382.5V2397M1628.8 2382.5V2397M1631.8 2382.5V2397M1633.2 2382.5V2397M1636.2 2382.5V2397M1640.4 2382.5V2397M1642 2382.5V2397M1643 2382.5V2397M1644.3 2382.5V2397M1647.1 2382.5V2397M1648.1 2382.5V2397M1649.4 2382.5V2397M1652.1 2382.5V2397M1656.3 2382.5V2397M1658.8 2382.5V2397M1667.2 2382.5V2397M1669.2 2382.5V2397M1670 2382.5V2397M1671.8 2382.5V2397M1672.8 2382.5V2397M1674.7 2382.5V2397M1680.7 2382.5V2397M1682.1 2382.5V2397M1685.7 2382.5V2397M1689.4 2382.5V2397M1691.3 2382.5V2397M1693.6 2382.5V2397M1699 2382.5V2397M1704.5 2382.5V2397M1706.2 2382.5V2397M1710.4 2382.5V2397M1715.7 2382.5V2397M1717.9 2382.5V2397M1721.7 2382.5V2397M1723.1 2382.5V2397M1725.8 2382.5V2397M1733.1 2382.5V2397M1737.9 2382.5V2397M1743.7 2382.5V2397M1745.7 2382.5V2397M1749.1 2382.5V2397M1760.1 2382.5V2397M1766.7 2382.5V2397M1772.3 2382.5V2397M1777.6 2382.5V2397M1787.3 2382.5V2397M1793.9 2382.5V2397M1796.1 2382.5V2397M1815.5 2382.5V2397M1819.4 2382.5V2397M1823.9 2382.5V2397M1827.1 2382.5V2397M1831.7 2382.5V2397M1835.5 2382.5V2397M1837.9 2382.5V2397M1843.7 2382.5V2397M1846.1 2382.5V2397M1852.9 2382.5V2397M1869.4 2382.5V2397M1873.5 2382.5V2397M1877.7 2382.5V2397M1880.7 2382.5V2397M1897.9 2382.5V2397M1903.6 2382.5V2397M1914.8 2382.5V2397M1922.5 2382.5V2397M1933.8 2382.5V2397M1936.8 2382.5V2397M1938.4 2382.5V2397M1940 2382.5V2397" stroke="#000" stroke-width="0.9" fill="none" stroke-opacity="0.13"/>
<polyline points="1562.7,2308.6 1563.9,2290.6 1565.4,2275.7 1567.5,2266.7 1569.9,2257.7 1572.3,2245.7 1574.4,2232.2 1576.5,2223.2 1579.4,2215.8 1582.4,2205.3 1586.3,2200.8 1590.2,2194.8 1593.8,2184.3 1596.8,2181.3 1599.8,2182.8 1602.8,2178.3 1605.8,2175.3 1608.8,2175.8 1611.8,2176.8 1614,2177.6 1616.3,2179 1618.5,2179.9 1620.8,2181.3 1623,2180.5 1625.3,2180.4 1627.5,2181.5 1629.8,2182.8 1632.8,2184.7 1635.8,2185.8 1638.8,2185.2 1641,2186.7 1643.2,2188 1645.5,2188.8 1647.7,2190.3 1650.7,2191.8 1653.7,2193.3 1656,2194.6 1658.2,2196 1660.5,2197.4 1662.7,2199.3 1665.1,2200.8 1667.5,2203.3 1669.9,2205 1672.3,2206.7 1674.7,2208.3 1676.8,2210 1679,2211 1681.1,2212.6 1683.3,2214.4 1685.4,2216 1687.5,2217.6 1689.7,2218.8 1692.1,2220.2 1694.5,2220.5 1696.9,2222.1 1699.3,2223.2 1701.7,2224.1 1703.9,2225.4 1706.1,2226.4 1708.4,2227.9 1710.6,2229.2 1713.6,2229.3 1716.6,2230.1 1718.9,2231.6 1721.1,2232.6 1723.4,2233.3 1725.6,2234.3 1727.9,2235.5 1730.1,2237.4 1732.4,2238.4 1734.6,2239.7 1736.9,2240.8 1739.1,2241.5 1741.3,2242 1743.6,2242.7 1745.8,2244 1748.1,2245.5 1750.3,2246.7 1752.6,2248.1 1754.8,2249.5 1757.1,2251.2 1759.3,2253.3 1761.6,2254.7 1764.6,2255 1767.6,2256.2 1770,2257.2 1772.3,2259.1 1774.7,2260.1 1777.1,2261.7 1779.5,2263.1 1782.5,2262.2 1784.8,2263.4 1787,2264.6 1789.3,2266.5 1791.5,2267.3 1794.5,2266.7 1796.8,2267.9 1799,2269.6 1801.3,2270.9 1803.5,2272.7 1805.9,2274.6 1808.3,2276.1 1810.7,2277.9 1813.1,2280.1 1815.5,2281.7 1817.7,2281.6 1820,2282 1822.2,2282.5 1824.5,2282.3 1827,2284 1829.5,2286.1 1832,2288.5 1834.5,2288.8 1836.9,2289.8 1839.4,2290 1841.7,2287.2 1843.9,2284.1 1846.4,2285.5 1848.9,2287.3 1851.4,2289.1 1853.7,2290.1 1855.9,2291.7 1858.2,2292.6 1860.4,2294.2 1862.7,2296.1 1864.9,2298 1867.1,2299.8 1869.4,2301.1 1872.4,2295.1 1874.9,2295.6 1877.4,2296.1 1879.9,2296 1882.9,2294.2 1885,2295.2 1887.1,2296.8 1889.2,2298.8 1891.3,2300 1893.4,2301.1 1896.4,2303.3 1899.4,2305.6 1902.3,2306 1905.3,2305.6 1908.3,2306.9 1911.3,2308 1914.3,2310.1 1917.3,2311.6 1920.3,2313.2 1923.3,2315.2 1926.3,2316.1 1929.3,2317.6 1932,2319.3 1934.7,2321.2 1936.8,2314.6 1939.8,2313.1 1941.3,2308" fill="none" stroke="#00f000" stroke-width="2.6" stroke-linejoin="round"/>
<text x="1653.1" y="2148.4" font-size="37.5" font-weight="bold" textLength="175.9" lengthAdjust="spacing">apoptosis</text>
<text transform="translate(1790.9 2202.3) scale(1.101 1)" font-size="27" >NES = 3.32</text>
<text transform="translate(1747.5 2238.8) scale(1.106 1)" font-size="27" >FWER  = 0.000</text>
<text x="1524.5" y="2304" font-size="22.5" text-anchor="middle" font-weight="bold" textLength="190" lengthAdjust="spacing" transform="rotate(-90 1524.5 2304)">Enrichment Score</text>
<text transform="translate(1580.3 2460.5) scale(0.934 1)" font-size="28.3" font-weight="bold" fill="#ff0808" letter-spacing="2.2" >Responders</text>
<text transform="translate(1765.4 2460.5) scale(0.932 1)" font-size="28.3" font-weight="bold" fill="#1e1ed0" letter-spacing="2.2" >Non-responders</text>
<text transform="translate(4.5 54.8) scale(0.96 1)" font-size="61" font-weight="bold" >a</text>
<text transform="translate(409 54.8) scale(0.96 1)" font-size="61" font-weight="bold" >b</text>
<text transform="translate(734 49.5) scale(0.96 1)" font-size="61" font-weight="bold" >c</text>
<text transform="translate(1179 48) scale(0.96 1)" font-size="61" font-weight="bold" >d</text>
<text transform="translate(1570 50.7) scale(0.96 1)" font-size="61" font-weight="bold" >e</text>
<text transform="translate(5 583) scale(0.96 1)" font-size="61" font-weight="bold" >f</text>
<text transform="translate(1000 583) scale(0.96 1)" font-size="61" font-weight="bold" >g</text>
<text transform="translate(999 1455) scale(0.96 1)" font-size="61" font-weight="bold" >h</text>
<text transform="translate(6 2123) scale(0.96 1)" font-size="61" font-weight="bold" >i</text>
<text transform="translate(497 2120) scale(0.96 1)" font-size="61" font-weight="bold" >j</text>
<text transform="translate(1007 2123) scale(0.96 1)" font-size="61" font-weight="bold" >k</text>
<text transform="translate(1498 2123) scale(0.96 1)" font-size="61" font-weight="bold" >l</text>
</svg>
</body></html>
